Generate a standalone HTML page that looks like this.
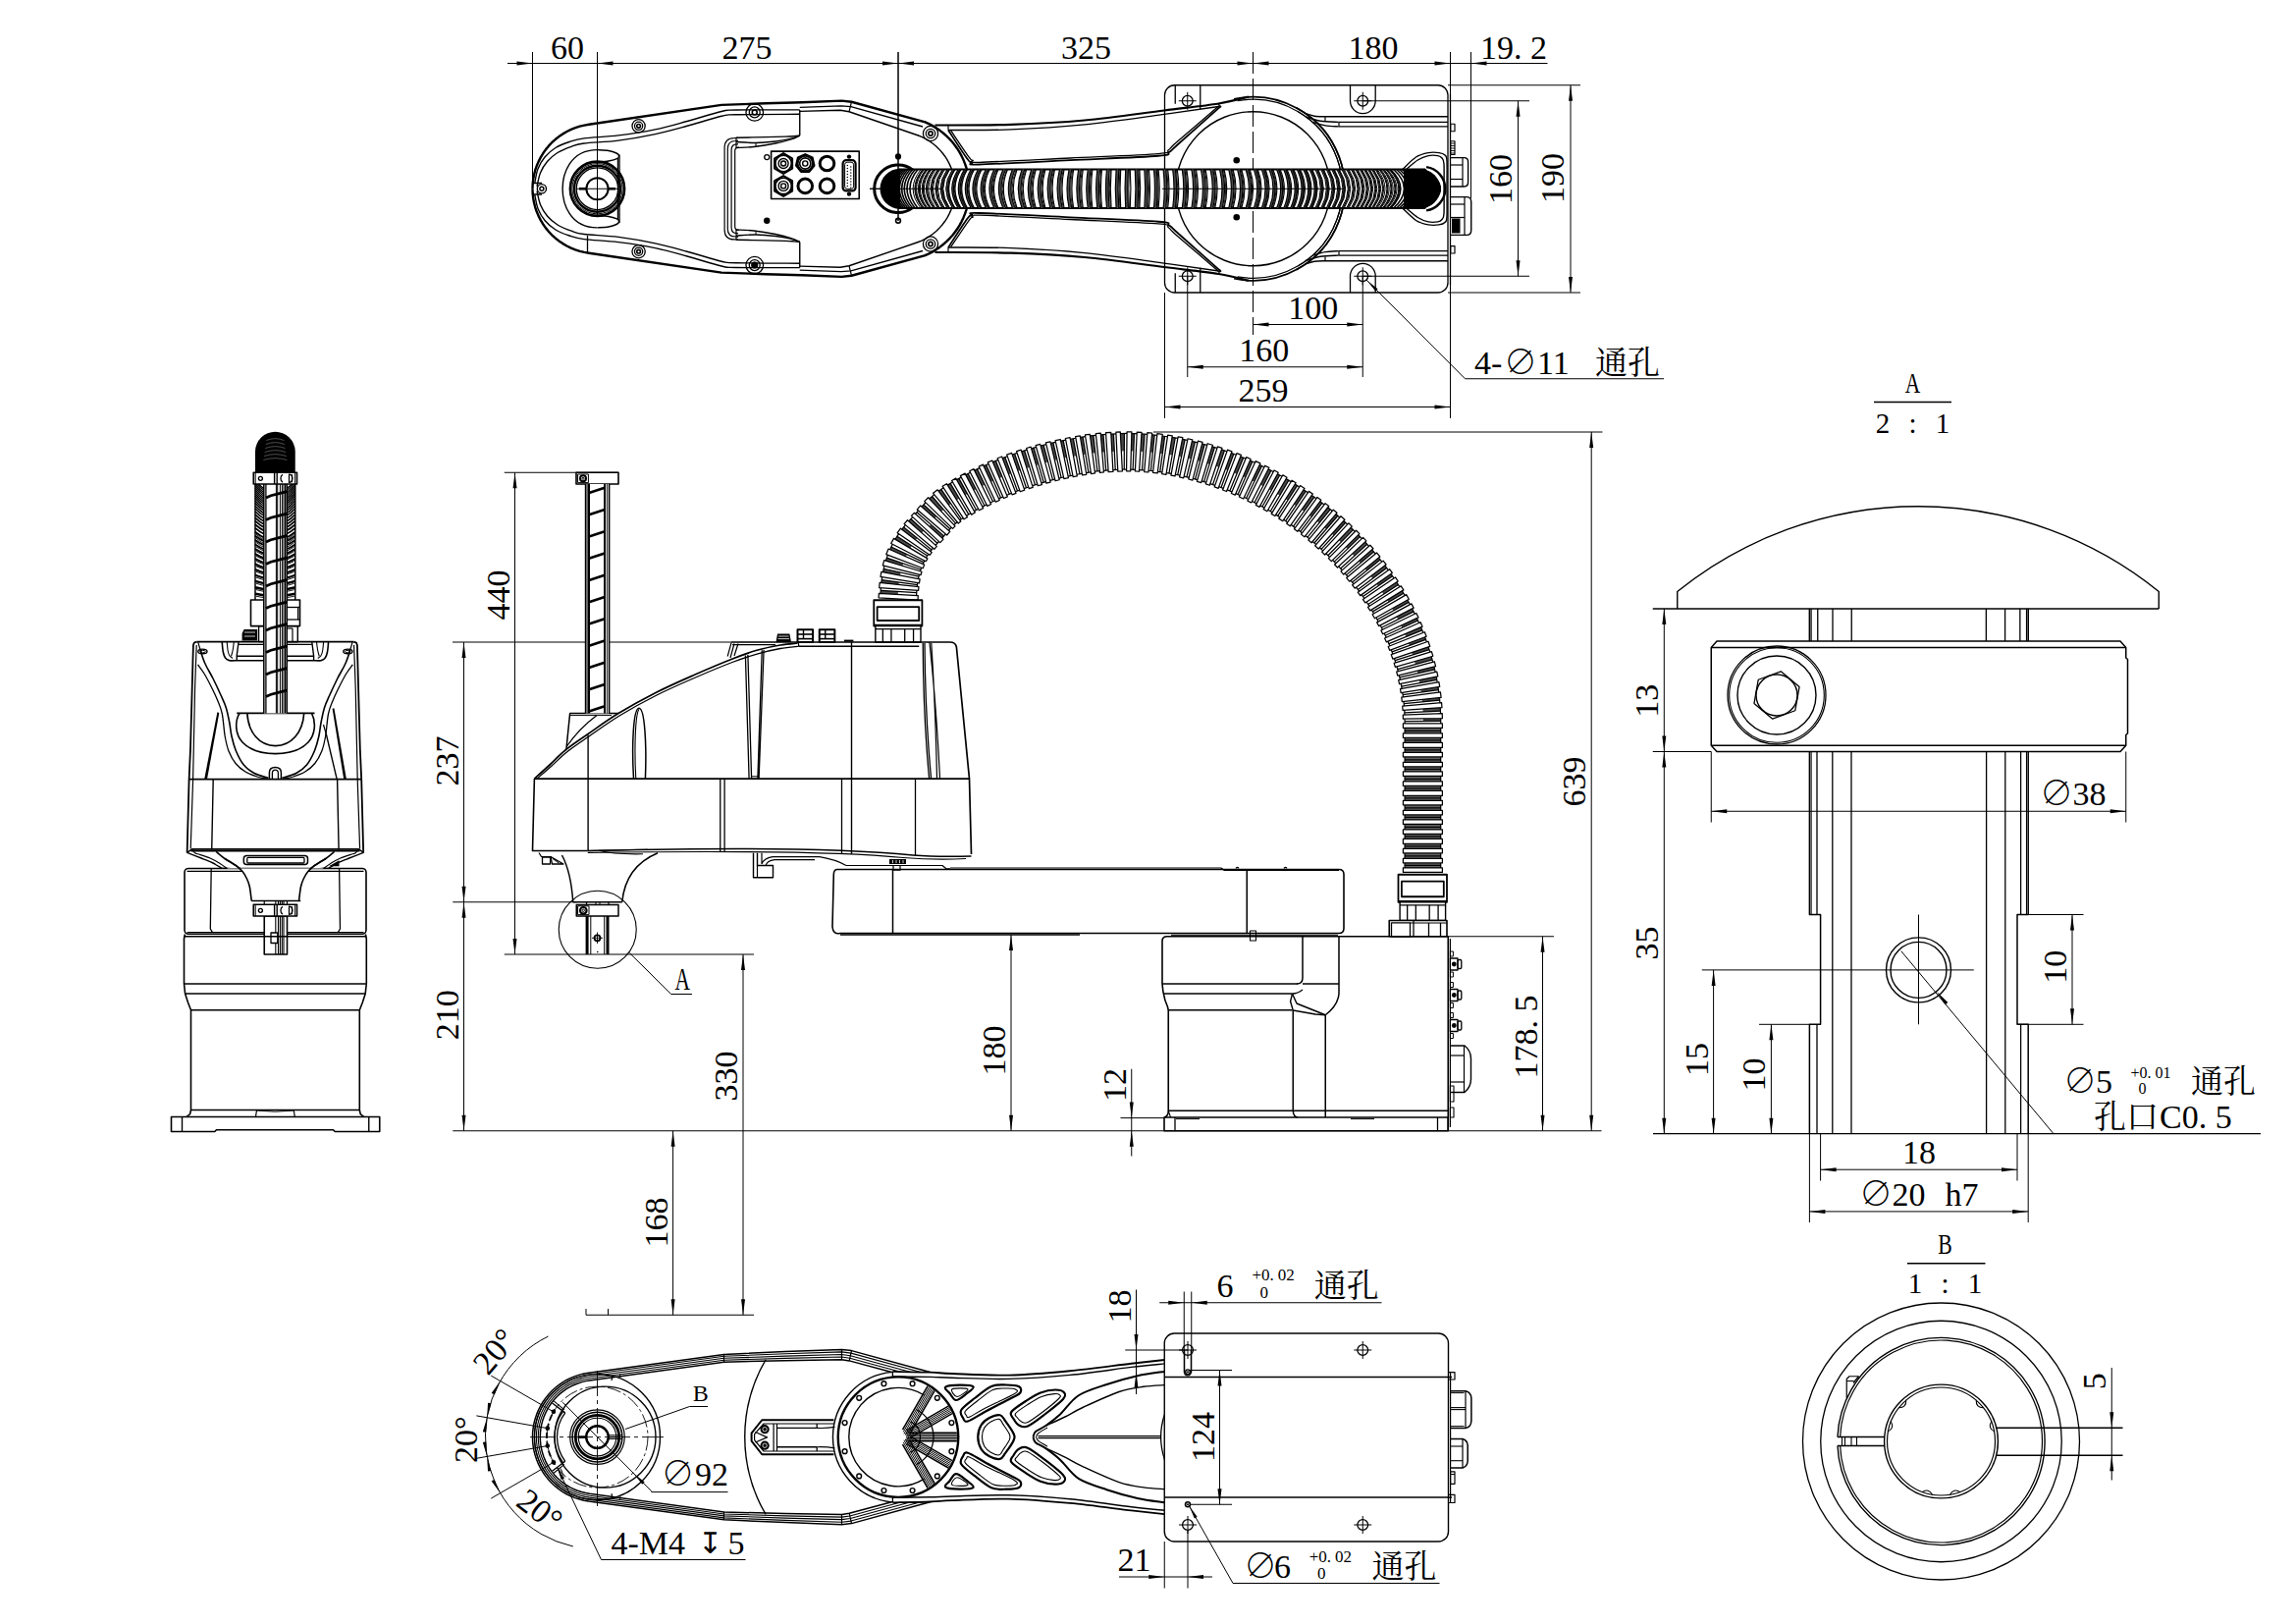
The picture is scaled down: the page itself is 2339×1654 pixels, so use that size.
<!DOCTYPE html>
<html lang="zh"><head><meta charset="utf-8"><title>SCARA robot outline drawing</title>
<style>
html,body{margin:0;padding:0;background:#fff}
svg{display:block}
svg path,svg circle,svg rect,svg ellipse{fill:none;stroke:#000;stroke-linecap:butt;stroke-linejoin:round}
svg .f{fill:#000;stroke:none}
svg .w{fill:#fff}
svg text{font-family:'Liberation Serif','Noto Serif CJK SC',serif;fill:#000;stroke:none}
</style></head><body>
<svg width="2339" height="1654" viewBox="0 0 2339 1654">
<rect x="0" y="0" width="2339" height="1654" style="fill:#fff;stroke:none"/>
<g id="v_top">
<path d="M517 64.5L1576.5 64.5" stroke-width="1"/>
<path d="M542.5 53L542.5 192" stroke-width="1"/>
<path d="M608.5 53L608.5 219" stroke-width="1"/>
<path d="M915 53L915 225" stroke-width="1"/>
<path d="M1276.5 53L1276.5 341" stroke-width="1" stroke-dasharray="22 5"/>
<path d="M1477.5 53L1477.5 426" stroke-width="1"/>
<path d="M1498.5 53L1498.5 202" stroke-width="1"/>
<path class="f" d="M542.5 64.5L526.5 66.5L526.5 62.5Z"/>
<path class="f" d="M608.5 64.5L624.5 62.5L624.5 66.5Z"/>
<path class="f" d="M915 64.5L899 66.5L899 62.5Z"/>
<path class="f" d="M915 64.5L931 62.5L931 66.5Z"/>
<path class="f" d="M1276.5 64.5L1260.5 66.5L1260.5 62.5Z"/>
<path class="f" d="M1276.5 64.5L1292.5 62.5L1292.5 66.5Z"/>
<path class="f" d="M1477.5 64.5L1461.5 66.5L1461.5 62.5Z"/>
<path class="f" d="M1498.5 64.5L1514.5 62.5L1514.5 66.5Z"/>
<text x="578" y="59.5" font-size="34" text-anchor="middle">60</text>
<text x="761" y="59.5" font-size="34" text-anchor="middle">275</text>
<text x="1106.5" y="59.5" font-size="34" text-anchor="middle">325</text>
<text x="1399" y="59.5" font-size="34" text-anchor="middle">180</text>
<text x="1508" y="59.5" font-size="34" text-anchor="start">19.<tspan dx="8.5">2</tspan></text>
<path d="M1475 86.75L1610 86.75" stroke-width="1"/>
<path d="M1475 298L1610 298" stroke-width="1"/>
<path d="M1388 102.75L1558 102.75" stroke-width="1"/>
<path d="M1388 281.25L1558 281.25" stroke-width="1"/>
<path d="M1546.5 102.75L1546.5 281.25" stroke-width="1"/>
<path class="f" d="M1546.5 102.75L1548.5 118.75L1544.5 118.75Z"/>
<path class="f" d="M1546.5 281.25L1544.5 265.25L1548.5 265.25Z"/>
<path d="M1600 86.75L1600 298" stroke-width="1"/>
<path class="f" d="M1600 86.75L1602 102.75L1598 102.75Z"/>
<path class="f" d="M1600 298L1598 282L1602 282Z"/>
<text x="1540" y="182.5" font-size="34" text-anchor="middle" transform="rotate(-90 1540 182.5)">160</text>
<text x="1593" y="181.5" font-size="34" text-anchor="middle" transform="rotate(-90 1593 181.5)">190</text>
<path d="M1276.5 330.5L1388.25 330.5" stroke-width="1"/>
<path class="f" d="M1276.5 330.5L1292.5 328.5L1292.5 332.5Z"/>
<path class="f" d="M1388.25 330.5L1372.25 332.5L1372.25 328.5Z"/>
<text x="1337.75" y="325" font-size="34" text-anchor="middle">100</text>
<path d="M1209.75 281L1209.75 384" stroke-width="1"/>
<path d="M1388.25 281L1388.25 384" stroke-width="1"/>
<path d="M1209.75 373.75L1388.25 373.75" stroke-width="1"/>
<path class="f" d="M1209.75 373.75L1225.75 371.75L1225.75 375.75Z"/>
<path class="f" d="M1388.25 373.75L1372.25 375.75L1372.25 371.75Z"/>
<text x="1287.75" y="368" font-size="34" text-anchor="middle">160</text>
<path d="M1186.5 298L1186.5 426" stroke-width="1"/>
<path d="M1186.5 414.5L1477.5 414.5" stroke-width="1"/>
<path class="f" d="M1186.5 414.5L1202.5 412.5L1202.5 416.5Z"/>
<path class="f" d="M1477.5 414.5L1461.5 416.5L1461.5 412.5Z"/>
<text x="1287" y="409" font-size="34" text-anchor="middle">259</text>
<path d="M1392 285L1492.5 385.75L1695 385.75" stroke-width="1"/>
<path class="f" d="M1392.5 285.5L1403.6 294.2L1401.2 296.6Z"/>
<text x="1502" y="380.5" font-size="34" text-anchor="start">4-</text>
<text x="1549" y="380.5" font-size="34" text-anchor="middle" font-family="Noto Serif CJK SC,serif">∅</text>
<text x="1566" y="380.5" font-size="34" text-anchor="start">11</text>
<text x="1625" y="380.5" font-size="33" text-anchor="start">通孔</text>
<rect x="1186.5" y="86.75" width="288.5" height="211.25" rx="10" stroke-width="1.3"/>
<path d="M1477.5 96L1477.5 290" stroke-width="1.3"/>
<circle cx="1209.75" cy="102.75" r="5.4" stroke-width="1.3"/>
<path d="M1200.75 102.75L1218.75 102.75" stroke-width="1"/>
<path d="M1209.75 93.75L1209.75 111.75" stroke-width="1"/>
<circle cx="1209.75" cy="281.25" r="5.4" stroke-width="1.3"/>
<path d="M1200.75 281.25L1218.75 281.25" stroke-width="1"/>
<path d="M1209.75 272.25L1209.75 290.25" stroke-width="1"/>
<circle cx="1388.25" cy="102.75" r="5.4" stroke-width="1.3"/>
<path d="M1379.25 102.75L1397.25 102.75" stroke-width="1"/>
<path d="M1388.25 93.75L1388.25 111.75" stroke-width="1"/>
<circle cx="1388.25" cy="281.25" r="5.4" stroke-width="1.3"/>
<path d="M1379.25 281.25L1397.25 281.25" stroke-width="1"/>
<path d="M1388.25 272.25L1388.25 290.25" stroke-width="1"/>
<path d="M1375.5 86.75L1375.5 102.75A12.8 12.8 0 0 0 1401.2 102.75L1401.2 86.75" stroke-width="1.3"/>
<path d="M1197.25 86.75L1197.25 105.75" stroke-width="1.3"/>
<path d="M1222.75 86.75L1222.75 111.25" stroke-width="1.3"/>
<path d="M1375.5 298L1375.5 281.25A12.8 12.8 0 0 1 1401.2 281.25L1401.2 298" stroke-width="1.3"/>
<path d="M1197.25 298L1197.25 278.25" stroke-width="1.3"/>
<path d="M1222.75 298L1222.75 272.75" stroke-width="1.3"/>
<circle cx="1276.5" cy="192.25" r="78.5" stroke-width="1.4"/>
<path d="M1257.06 100.79A93.5 93.5 0 0 1 1320.4 274.81" stroke-width="1.6"/>
<path d="M1320.4 109.69A93.5 93.5 0 0 1 1257.06 283.71" stroke-width="1.6"/>
<path d="M1260.7 102.63A91 91 0 0 1 1322 271.06" stroke-width="1.2"/>
<path d="M1322 113.44A91 91 0 0 1 1260.7 281.87" stroke-width="1.2"/>
<circle class="f" cx="1259.75" cy="163.25" r="3.3"/>
<circle class="f" cx="1259.75" cy="221.25" r="3.3"/>
<path d="M1184 192.25L1369 192.25" stroke-width="1"/>
<path d="M1330 115.6C1331.5 116.03 1335.67 117.67 1339 118.2C1342.33 118.73 1348.17 118.66 1350 118.75" stroke-width="1.4"/>
<path d="M1330 268.9C1331.5 268.47 1335.67 266.82 1339 266.3C1342.33 265.78 1348.17 265.84 1350 265.75" stroke-width="1.4"/>
<path d="M1350 118.75L1475 118.75" stroke-width="1.4"/>
<path d="M1350 265.75L1475 265.75" stroke-width="1.4"/>
<path d="M1330 118.8C1332.5 119.53 1339.38 122.27 1345 123.2C1350.62 124.13 1360.62 124.2 1363.75 124.4" stroke-width="1.4"/>
<path d="M1330 265.7C1332.5 264.97 1339.38 262.23 1345 261.3C1350.62 260.37 1360.62 260.3 1363.75 260.1" stroke-width="1.4"/>
<path d="M1363.75 124.4L1475 124.4" stroke-width="1.4"/>
<path d="M1363.75 260.1L1475 260.1" stroke-width="1.4"/>
<path d="M1337.5 124.5C1339.58 125.07 1345.62 127.17 1350 127.9C1354.38 128.63 1361.46 128.73 1363.75 128.9" stroke-width="1.4"/>
<path d="M1337.5 260C1339.58 259.43 1345.62 257.33 1350 256.6C1354.38 255.87 1361.46 255.77 1363.75 255.6" stroke-width="1.4"/>
<path d="M1363.75 128.9L1475 128.9" stroke-width="1.4"/>
<path d="M1363.75 255.6L1475 255.6" stroke-width="1.4"/>
<path d="M1350 118.75L1350 123" stroke-width="1.2"/>
<path d="M1350 265.75L1350 261.5" stroke-width="1.2"/>
<path d="M1364 124.4L1364 128.75" stroke-width="1.2"/>
<path d="M1364 260.1L1364 255.75" stroke-width="1.2"/>
<rect x="1477.75" y="126.25" width="4.25" height="7.5" stroke-width="1.2"/>
<rect x="1477.75" y="250.6" width="4.25" height="7.4" stroke-width="1.2"/>
<rect x="1477.75" y="143.75" width="4.25" height="13.75" stroke-width="1.2"/>
<path d="M1477.75 146L1482 146" stroke-width="0.9"/>
<path d="M1477.75 148.5L1482 148.5" stroke-width="0.9"/>
<path d="M1477.75 151L1482 151" stroke-width="0.9"/>
<path d="M1477.75 153.5L1482 153.5" stroke-width="0.9"/>
<path d="M1477.75 156L1482 156" stroke-width="0.9"/>
<path d="M1477.75 160.6H1491.6Q1495.6 160.6 1495.6 165V185.5Q1495.6 190 1491.6 190H1477.75" stroke-width="1.4"/>
<path d="M1490 160.6L1490 190" stroke-width="1.2"/>
<path d="M1477.75 168L1490 168" stroke-width="1.2"/>
<path d="M1477.75 182.5L1490 182.5" stroke-width="1.2"/>
<path d="M1477.75 200.6H1494Q1498.75 200.6 1498.75 205.5V234.5Q1498.75 239.4 1494 239.4H1477.75" stroke-width="1.4"/>
<path d="M1492 200.6L1492 239.4" stroke-width="1.2"/>
<path d="M1477.75 208L1492 208" stroke-width="1.2"/>
<path d="M1477.75 221.5L1492 221.5" stroke-width="1.2"/>
<rect x="1479" y="222.5" width="8.5" height="15" stroke-width="1.2" class="f"/>
<path d="M1428.75 172.5C1431.04 170.42 1438.12 162.82 1442.5 160C1446.88 157.18 1451.08 156.33 1455 155.6C1458.92 154.87 1463.17 155.2 1466 155.6C1468.83 156 1470.67 156.6 1472 158C1473.33 159.4 1473.67 158.29 1474 164C1474.33 169.71 1474 187.54 1474 192.25" stroke-width="1.4"/>
<path d="M1428.75 212C1431.04 214.08 1438.12 221.68 1442.5 224.5C1446.88 227.32 1451.08 228.17 1455 228.9C1458.92 229.63 1463.17 229.3 1466 228.9C1468.83 228.5 1470.67 227.9 1472 226.5C1473.33 225.1 1473.67 226.21 1474 220.5C1474.33 214.79 1474 196.96 1474 192.25" stroke-width="1.4"/>
<path d="M1432.65 172.5C1434.59 170.92 1440.58 165.32 1444.3 163C1448.02 160.68 1451.58 159.33 1455 158.6C1458.42 157.87 1462.47 158.2 1464.8 158.6C1467.13 159 1467.97 159.6 1469 161C1470.03 162.4 1470.67 161.79 1471 167C1471.33 172.21 1471 188.04 1471 192.25" stroke-width="1.4"/>
<path d="M1432.65 212C1434.59 213.58 1440.58 219.18 1444.3 221.5C1448.02 223.82 1451.58 225.17 1455 225.9C1458.42 226.63 1462.47 226.3 1464.8 225.9C1467.13 225.5 1467.97 224.9 1469 223.5C1470.03 222.1 1470.67 222.71 1471 217.5C1471.33 212.29 1471 196.46 1471 192.25" stroke-width="1.4"/>
<path d="M952.5 127.5C965.42 127.4 1004.58 127.73 1030 126.9C1055.42 126.07 1079 124.9 1105 122.5C1131 120.1 1163.25 115.33 1186 112.5C1208.75 109.67 1227.17 107.82 1241.5 105.5C1255.83 103.18 1266.92 99.75 1272 98.6" stroke-width="2.2"/>
<path d="M952.5 257C965.42 257.1 1004.58 256.77 1030 257.6C1055.42 258.43 1079 259.6 1105 262C1131 264.4 1163.25 269.17 1186 272C1208.75 274.83 1227.17 276.68 1241.5 279C1255.83 281.32 1266.92 284.75 1272 285.9" stroke-width="2.2"/>
<path d="M966 132.5C976.67 132.4 1006.83 132.83 1030 131.9C1053.17 130.97 1079.33 129.43 1105 126.9C1130.67 124.37 1161.25 119.77 1184 116.7C1206.75 113.63 1231.92 109.87 1241.5 108.5" stroke-width="1.3"/>
<path d="M966 252C976.67 252.1 1006.83 251.67 1030 252.6C1053.17 253.53 1079.33 255.07 1105 257.6C1130.67 260.13 1161.25 264.73 1184 267.8C1206.75 270.87 1231.92 274.63 1241.5 276" stroke-width="1.3"/>
<path d="M966 127.6L966 132.5" stroke-width="1.2"/>
<path d="M966 256.9L966 252" stroke-width="1.2"/>
<path d="M1241.5 105.5L1243 110" stroke-width="1.2"/>
<path d="M1241.5 279L1243 274.5" stroke-width="1.2"/>
<path d="M966 132.5C969.17 137.29 981 155.75 985 161.25C989 166.75 987.92 164.46 990 165.5C992.08 166.54 980.83 167.88 997.5 167.5C1014.17 167.12 1059.58 164.66 1090 163.2C1120.42 161.74 1163.17 160.12 1180 158.75C1196.83 157.38 1187.67 156.96 1191 155C1194.33 153.04 1191.17 154.87 1200 147C1208.83 139.13 1236.67 114.33 1244 107.8" stroke-width="1.8"/>
<path d="M966 252C969.17 247.21 981 228.75 985 223.25C989 217.75 987.92 220.04 990 219C992.08 217.96 980.83 216.62 997.5 217C1014.17 217.38 1059.58 219.84 1090 221.3C1120.42 222.76 1163.17 224.38 1180 225.75C1196.83 227.12 1187.67 227.54 1191 229.5C1194.33 231.46 1191.17 229.63 1200 237.5C1208.83 245.37 1236.67 270.17 1244 276.7" stroke-width="1.8"/>
<path d="M968.64 132.94C971.73 137.47 983.46 155.09 987.2 160.15C990.94 165.21 989.38 162.44 991.1 163.3C992.82 164.16 981.02 165.68 997.5 165.3C1013.98 164.92 1059.58 162.46 1090 161C1120.42 159.54 1163.28 157.92 1180 156.55C1196.72 155.18 1187.23 154.76 1190.34 152.8C1193.45 150.84 1190.1 152.3 1198.68 144.8C1207.26 137.3 1234.61 113.97 1241.8 107.8" stroke-width="1.3"/>
<path d="M968.64 251.56C971.73 247.03 983.46 229.41 987.2 224.35C990.94 219.29 989.38 222.06 991.1 221.2C992.82 220.34 981.02 218.82 997.5 219.2C1013.98 219.58 1059.58 222.04 1090 223.5C1120.42 224.96 1163.28 226.58 1180 227.95C1196.72 229.32 1187.23 229.74 1190.34 231.7C1193.45 233.66 1190.1 232.2 1198.68 239.7C1207.26 247.2 1234.61 270.53 1241.8 276.7" stroke-width="1.3"/>
<path d="M542.5 192.25L542.67 187.5L543.18 182.77L544.04 178.09L545.22 173.48L546.74 168.97L548.58 164.59L550.72 160.34L553.17 156.27L555.91 152.37L558.92 148.69L562.18 145.23L565.69 142.02L569.42 139.07L573.35 136.39L577.46 134L581.74 131.92L586.15 130.15L590.68 128.7L595.31 127.58L600 126.8L735 106.9L780 105.3L817 104.2L857.5 102.6L867.5 103.75L942.5 124.4L942.4 124.35L946.34 126.14L950.16 128.15L953.86 130.38L957.43 132.83L960.84 135.48L964.09 138.33L967.17 141.36L970.07 144.57L972.77 147.94L975.27 151.47L977.56 155.13L979.62 158.93L981.47 162.84L983.08 166.85L984.45 170.95L985.58 175.12L986.46 179.35L987.09 183.62L987.47 187.93L987.6 192.25" stroke-width="2.4"/>
<path d="M542.5 192.25L542.67 197L543.18 201.73L544.04 206.41L545.22 211.02L546.74 215.53L548.58 219.91L550.72 224.16L553.17 228.23L555.91 232.13L558.92 235.81L562.18 239.27L565.69 242.48L569.42 245.43L573.35 248.11L577.46 250.5L581.74 252.58L586.15 254.35L590.68 255.8L595.31 256.92L600 257.7L735 277.6L780 279.2L817 280.3L857.5 281.9L867.5 280.75L942.5 260.1L942.4 260.15L946.34 258.36L950.16 256.35L953.86 254.12L957.43 251.67L960.84 249.02L964.09 246.17L967.17 243.14L970.07 239.93L972.77 236.56L975.27 233.03L977.56 229.37L979.62 225.57L981.47 221.66L983.08 217.65L984.45 213.55L985.58 209.38L986.46 205.15L987.09 200.88L987.47 196.57L987.6 192.25" stroke-width="2.4"/>
<path d="M544.8 186C545.33 183.67 546.3 176.33 548 172C549.7 167.67 552 163.58 555 160C558 156.42 561.83 153.08 566 150.5C570.17 147.92 575.17 146.1 580 144.5C584.83 142.9 586.67 142 595 140.9C603.33 139.8 617.92 139.4 630 137.9C642.08 136.4 655.83 134.3 667.5 131.9C679.17 129.5 688.75 126.57 700 123.5C711.25 120.43 726.67 115.42 735 113.5C743.33 111.58 736.71 112.27 750 112C763.29 111.73 803.96 111.92 814.75 111.9" stroke-width="1.4"/>
<path d="M544.8 198.5C545.33 200.83 546.3 208.17 548 212.5C549.7 216.83 552 220.92 555 224.5C558 228.08 561.83 231.42 566 234C570.17 236.58 575.17 238.4 580 240C584.83 241.6 586.67 242.5 595 243.6C603.33 244.7 617.92 245.1 630 246.6C642.08 248.1 655.83 250.2 667.5 252.6C679.17 255 688.75 257.93 700 261C711.25 264.07 726.67 269.08 735 271C743.33 272.92 736.71 272.23 750 272.5C763.29 272.77 803.96 272.58 814.75 272.6" stroke-width="1.4"/>
<path d="M547 190C547.58 187.67 548.75 180.25 550.5 176C552.25 171.75 554.58 167.92 557.5 164.5C560.42 161.08 563.92 158.03 568 155.5C572.08 152.97 577.5 150.88 582 149.3C586.5 147.72 587 147.03 595 146C603 144.97 617.92 144.67 630 143.1C642.08 141.53 655.83 139.07 667.5 136.6C679.17 134.13 688.75 131.35 700 128.3C711.25 125.25 726.67 120.22 735 118.3C743.33 116.38 736.71 117.13 750 116.8C763.29 116.47 803.96 116.38 814.75 116.3" stroke-width="1.4"/>
<path d="M547 194.5C547.58 196.83 548.75 204.25 550.5 208.5C552.25 212.75 554.58 216.58 557.5 220C560.42 223.42 563.92 226.47 568 229C572.08 231.53 577.5 233.62 582 235.2C586.5 236.78 587 237.47 595 238.5C603 239.53 617.92 239.83 630 241.4C642.08 242.97 655.83 245.43 667.5 247.9C679.17 250.37 688.75 253.15 700 256.2C711.25 259.25 726.67 264.28 735 266.2C743.33 268.12 736.71 267.37 750 267.7C763.29 268.03 803.96 268.12 814.75 268.2" stroke-width="1.4"/>
<path d="M598.5 240L598.5 257.5" stroke-width="1.3"/>
<path d="M814.75 109.4L857 107.8L866.9 108.6L940 129" stroke-width="1.3"/>
<path d="M814.75 275.1L857 276.7L866.9 275.9L940 255.5" stroke-width="1.3"/>
<path d="M814.75 113.4L856 112.3L865 113.75L935.5 138L934.84 137.75L938.94 139.42L942.9 141.4L946.7 143.68L950.31 146.24L953.72 149.06L956.9 152.14L959.83 155.46L962.51 158.98L964.91 162.7L967.02 166.6L968.82 170.64L970.32 174.81L971.48 179.08L972.32 183.43L972.83 187.83L973 192.25" stroke-width="1.4"/>
<path d="M814.75 271.1L856 272.2L865 270.75L935.5 246.5L934.84 246.75L938.94 245.08L942.9 243.1L946.7 240.82L950.31 238.26L953.72 235.44L956.9 232.36L959.83 229.04L962.51 225.52L964.91 221.8L967.02 217.9L968.82 213.86L970.32 209.69L971.48 205.42L972.32 201.07L972.83 196.67L973 192.25" stroke-width="1.4"/>
<path d="M867.5 103.75L865 113.75" stroke-width="1.2"/>
<path d="M867.5 280.75L865 270.75" stroke-width="1.2"/>
<path d="M814.75 111.9L814.75 138.1" stroke-width="1.4"/>
<path d="M814.75 272.6L814.75 246.4" stroke-width="1.4"/>
<path d="M752 140.3L748.1 140.6Q738.1 140.6 738.1 150.6L738.1 233.9Q738.1 243.9 748.1 243.9 L752 244.2" stroke-width="1.2"/>
<path d="M752 143.18L749.38 143.48Q741.3 143.48 741.3 151.56L741.3 232.94Q741.3 241.02 749.38 241.02 L752 241.32" stroke-width="1.2"/>
<path d="M752 146.6L750.9 146.9Q745.1 146.9 745.1 152.7L745.1 231.8Q745.1 237.6 750.9 237.6 L752 237.9" stroke-width="1.2"/>
<path d="M752 149.84L752.34 150.14Q748.7 150.14 748.7 153.78L748.7 230.72Q748.7 234.36 752.34 234.36 L752 234.66" stroke-width="1.2"/>
<path d="M750 140.3C755 140.18 771.67 139.8 780 139.6C788.33 139.4 795.17 139.27 800 139.1C804.83 138.93 806.54 138.77 809 138.6C811.46 138.43 813.79 138.18 814.75 138.1" stroke-width="1.4"/>
<path d="M750 244.2C755 244.32 771.67 244.7 780 244.9C788.33 245.1 795.17 245.23 800 245.4C804.83 245.57 806.54 245.73 809 245.9C811.46 246.07 813.79 246.32 814.75 246.4" stroke-width="1.4"/>
<path d="M750 144.5C753.33 144.67 763.33 145.58 770 145.5C776.67 145.42 784.17 144.7 790 144C795.83 143.3 800.88 142.28 805 141.3C809.12 140.32 813.12 138.63 814.75 138.1" stroke-width="1.3"/>
<path d="M750 240C753.33 239.83 763.33 238.92 770 239C776.67 239.08 784.17 239.8 790 240.5C795.83 241.2 800.88 242.22 805 243.2C809.12 244.18 813.12 245.87 814.75 246.4" stroke-width="1.3"/>
<path d="M750 150.5C753 150.33 761.33 150.25 768 149.5C774.67 148.75 783.67 147.25 790 146C796.33 144.75 801.88 143.32 806 142C810.12 140.68 813.29 138.75 814.75 138.1" stroke-width="1.3"/>
<path d="M750 234C753 234.17 761.33 234.25 768 235C774.67 235.75 783.67 237.25 790 238.5C796.33 239.75 801.88 241.18 806 242.5C810.12 243.82 813.29 245.75 814.75 246.4" stroke-width="1.3"/>
<path d="M750 140.3L750 150.5" stroke-width="1.2"/>
<path d="M750 244.2L750 234" stroke-width="1.2"/>
<path d="M770 145.5L770 149.3" stroke-width="1"/>
<path d="M770 239L770 235.2" stroke-width="1"/>
<circle cx="650.6" cy="128.3" r="6.6" stroke-width="1.3"/>
<circle cx="650.6" cy="128.3" r="4.09" stroke-width="1.3"/>
<circle cx="650.6" cy="128.3" r="1.85" stroke-width="1.6"/>
<circle cx="650.6" cy="256.2" r="6.6" stroke-width="1.3"/>
<circle cx="650.6" cy="256.2" r="4.09" stroke-width="1.3"/>
<circle cx="650.6" cy="256.2" r="1.85" stroke-width="1.6"/>
<circle cx="768.75" cy="114.4" r="8.8" stroke-width="1.3"/>
<circle cx="768.75" cy="114.4" r="5.46" stroke-width="1.3"/>
<circle cx="768.75" cy="114.4" r="2.46" stroke-width="1.6"/>
<circle cx="768.75" cy="270.1" r="8.8" stroke-width="1.3"/>
<circle cx="768.75" cy="270.1" r="5.46" stroke-width="1.3"/>
<circle cx="768.75" cy="270.1" r="2.46" stroke-width="1.6"/>
<circle cx="948" cy="136" r="7.6" stroke-width="1.3"/>
<circle cx="948" cy="136" r="4.71" stroke-width="1.3"/>
<circle cx="948" cy="136" r="2.13" stroke-width="1.6"/>
<circle cx="948" cy="248.5" r="7.6" stroke-width="1.3"/>
<circle cx="948" cy="248.5" r="4.71" stroke-width="1.3"/>
<circle cx="948" cy="248.5" r="2.13" stroke-width="1.6"/>
<circle cx="551.9" cy="192.25" r="4.6" stroke-width="1.4"/>
<circle cx="551.9" cy="192.25" r="2" stroke-width="1.4"/>
<path d="M543 186.5H552M543 198H552" stroke-width="1.3"/>
<circle class="f" cx="768.75" cy="270.1" r="3.5"/>
<circle cx="608.5" cy="192.25" r="11.1" stroke-width="2"/>
<circle cx="608.5" cy="192.25" r="21.3" stroke-width="1.3"/>
<circle cx="608.5" cy="192.25" r="23.5" stroke-width="2.4"/>
<circle cx="608.5" cy="192.25" r="27.6" stroke-width="2.6"/>
<circle cx="608.5" cy="192.25" r="25.6" stroke-width="1"/>
<path d="M608.5 152.6C580 152.6 573.1 178 573.1 192.25C573.1 206.5 580 231.9 608.5 231.9" stroke-width="1.4"/>
<path d="M608.5 152.6C610.42 152.75 616.75 152.93 620 153.5C623.25 154.07 626.25 155.17 628 156C629.75 156.83 630.33 157.62 630.5 158.5C630.67 159.38 630.75 160.38 629 161.3C627.25 162.22 623.42 163.38 620 164C616.58 164.62 610.42 164.83 608.5 165" stroke-width="1.4"/>
<path d="M608.5 231.9C610.42 231.75 616.75 231.57 620 231C623.25 230.43 626.25 229.33 628 228.5C629.75 227.67 630.33 226.88 630.5 226C630.67 225.12 630.75 224.12 629 223.2C627.25 222.28 623.42 221.12 620 220.5C616.58 219.88 610.42 219.67 608.5 219.5" stroke-width="1.4"/>
<path d="M631 157.5L631 227" stroke-width="1.4"/>
<path d="M629.4 161L629.4 223.5" stroke-width="1.2"/>
<path d="M587 192.25L630 192.25" stroke-width="1"/>
<path d="M590 192.25L597.4 192.25" stroke-width="2.6"/>
<path d="M619.6 192.25L627 192.25" stroke-width="2.6"/>
<rect x="785.6" y="154.1" width="89.65" height="48.4" stroke-width="1.6"/>
<path d="M807.02 171.65L798.1 176.8L789.18 171.65L789.18 161.35L798.1 156.2L807.02 161.35Z" stroke-width="2.2"/>
<circle cx="798.1" cy="166.5" r="8.2" stroke-width="1.6"/>
<circle cx="798.1" cy="166.5" r="5" stroke-width="1.4"/>
<circle cx="798.1" cy="166.5" r="2.5" stroke-width="1.4"/>
<path d="M807.02 194.55L798.1 199.7L789.18 194.55L789.18 184.25L798.1 179.1L807.02 184.25Z" stroke-width="2.2"/>
<circle cx="798.1" cy="189.4" r="8.2" stroke-width="1.6"/>
<circle cx="798.1" cy="189.4" r="5" stroke-width="1.4"/>
<circle cx="798.1" cy="189.4" r="2.5" stroke-width="1.4"/>
<path d="M829.21 168.57L824.22 174.8L816.24 174.78L811.28 168.52L813.07 160.75L820.27 157.3L827.46 160.78Z" stroke-width="2.6"/>
<circle cx="820.25" cy="166.5" r="5.6" stroke-width="1.6"/>
<circle cx="820.25" cy="166.5" r="2.6" stroke-width="1.4"/>
<circle cx="820.25" cy="166.5" r="7.6" stroke-width="1.8"/>
<circle cx="842.5" cy="166.5" r="7.3" stroke-width="3"/>
<circle cx="820.25" cy="189.4" r="7.3" stroke-width="3"/>
<circle cx="842.5" cy="189.4" r="7.3" stroke-width="3"/>
<rect x="858.6" y="163.2" width="13" height="31.2" rx="3.5" stroke-width="2.2"/>
<rect x="860.6" y="165.2" width="9" height="27.2" rx="2.5" stroke-width="1"/>
<circle class="f" cx="865" cy="159.6" r="2.2"/>
<circle class="f" cx="865" cy="197.6" r="2.2"/>
<circle class="f" cx="863.3" cy="168.5" r="0.7"/>
<circle class="f" cx="866.8" cy="170" r="0.7"/>
<circle class="f" cx="863.3" cy="171.5" r="0.7"/>
<circle class="f" cx="866.8" cy="173" r="0.7"/>
<circle class="f" cx="863.3" cy="174.5" r="0.7"/>
<circle class="f" cx="866.8" cy="176" r="0.7"/>
<circle class="f" cx="863.3" cy="177.5" r="0.7"/>
<circle class="f" cx="866.8" cy="179" r="0.7"/>
<circle class="f" cx="863.3" cy="180.5" r="0.7"/>
<circle class="f" cx="866.8" cy="182" r="0.7"/>
<circle class="f" cx="863.3" cy="183.5" r="0.7"/>
<circle class="f" cx="866.8" cy="185" r="0.7"/>
<circle class="f" cx="863.3" cy="186.5" r="0.7"/>
<circle class="f" cx="866.8" cy="188" r="0.7"/>
<circle class="f" cx="863.3" cy="189.5" r="0.7"/>
<circle class="f" cx="866.8" cy="191" r="0.7"/>
<circle cx="781.25" cy="160.1" r="2.5" stroke-width="1.3"/>
<circle class="f" cx="781.25" cy="224.75" r="3.2"/>
<circle class="f" cx="915" cy="159.4" r="3.1"/>
<circle cx="915" cy="224.75" r="2.4" stroke-width="1.6"/>
<path d="M886 192.25L945 192.25" stroke-width="1"/>
<path class="w" d="M915 172.5H1450V212H915Z" style="stroke:none"/>
<path d="M929.96 211.4A24.3 24.3 0 1 1 929.96 173.1" stroke-width="3"/>
<path class="f" d="M917 172.5A19.75 19.75 0 0 0 917 212Z"/>
<path d="M917 212A19.75 19.75 0 0 1 917 172.5" stroke-width="1.5"/>
<path d="M915 172.5L1452 172.5" stroke-width="1.8"/>
<path d="M915 212L1452 212" stroke-width="1.8"/>
<path d="M919 172.5Q901.18 192.25 919 212" stroke-width="1.6"/>
<path d="M920.81 172.5Q903.17 192.25 920.81 212" stroke-width="1.6"/>
<path d="M922.77 172.5Q905.31 192.25 922.77 212" stroke-width="1.6"/>
<path d="M924.87 172.5Q907.61 192.25 924.87 212" stroke-width="1.6"/>
<path d="M927.14 172.5Q910.1 192.25 927.14 212" stroke-width="1.6"/>
<path d="M929.59 172.5Q912.78 192.25 929.59 212" stroke-width="1.6"/>
<path d="M932.23 172.5Q915.66 192.25 932.23 212" stroke-width="1.6"/>
<path d="M935.07 172.5Q918.77 192.25 935.07 212" stroke-width="1.6"/>
<path d="M939.86 172.5Q923.84 192.25 939.86 212L940.79 212Q924.77 192.25 940.79 172.5Z" style="fill:#4a4a4a;stroke:none"/>
<path d="M938.13 172.5Q922.12 192.25 938.13 212" stroke-width="1"/>
<path d="M939.86 172.5Q923.84 192.25 939.86 212" stroke-width="1"/>
<path d="M940.79 172.5Q924.77 192.25 940.79 212" stroke-width="1"/>
<path d="M943.29 172.5Q927.59 192.25 943.29 212L944.3 212Q928.59 192.25 944.3 172.5Z" style="fill:#4a4a4a;stroke:none"/>
<path d="M941.44 172.5Q925.73 192.25 941.44 212" stroke-width="1"/>
<path d="M943.29 172.5Q927.59 192.25 943.29 212" stroke-width="1"/>
<path d="M944.3 172.5Q928.59 192.25 944.3 212" stroke-width="1"/>
<path d="M947 172.5Q931.63 192.25 947 212L948.08 212Q932.71 192.25 948.08 172.5Z" style="fill:#4a4a4a;stroke:none"/>
<path d="M945 172.5Q929.63 192.25 945 212" stroke-width="1"/>
<path d="M947 172.5Q931.63 192.25 947 212" stroke-width="1"/>
<path d="M948.08 172.5Q932.71 192.25 948.08 212" stroke-width="1"/>
<path d="M951 172.5Q935.98 192.25 951 212L952.16 212Q937.14 192.25 952.16 172.5Z" style="fill:#4a4a4a;stroke:none"/>
<path d="M948.84 172.5Q933.82 192.25 948.84 212" stroke-width="1"/>
<path d="M951 172.5Q935.98 192.25 951 212" stroke-width="1"/>
<path d="M952.16 172.5Q937.14 192.25 952.16 212" stroke-width="1"/>
<path d="M955.31 172.5Q940.66 192.25 955.31 212L956.56 212Q941.92 192.25 956.56 172.5Z" style="fill:#4a4a4a;stroke:none"/>
<path d="M952.98 172.5Q938.34 192.25 952.98 212" stroke-width="1"/>
<path d="M955.31 172.5Q940.66 192.25 955.31 212" stroke-width="1"/>
<path d="M956.56 172.5Q941.92 192.25 956.56 212" stroke-width="1"/>
<path d="M959.95 172.5Q945.71 192.25 959.95 212L961.3 212Q947.06 192.25 961.3 172.5Z" style="fill:#4a4a4a;stroke:none"/>
<path d="M957.44 172.5Q943.2 192.25 957.44 212" stroke-width="1"/>
<path d="M959.95 172.5Q945.71 192.25 959.95 212" stroke-width="1"/>
<path d="M961.3 172.5Q947.06 192.25 961.3 212" stroke-width="1"/>
<path d="M964.96 172.5Q951.15 192.25 964.96 212L966.41 212Q952.61 192.25 966.41 172.5Z" style="fill:#4a4a4a;stroke:none"/>
<path d="M962.25 172.5Q948.45 192.25 962.25 212" stroke-width="1"/>
<path d="M964.96 172.5Q951.15 192.25 964.96 212" stroke-width="1"/>
<path d="M966.41 172.5Q952.61 192.25 966.41 212" stroke-width="1"/>
<path d="M967.01 172.5Q953.2 192.25 967.01 212" stroke-width="0.9"/>
<path d="M970.35 172.5Q957.01 192.25 970.35 212L971.92 212Q958.58 192.25 971.92 172.5Z" style="fill:#4a4a4a;stroke:none"/>
<path d="M967.44 172.5Q954.1 192.25 967.44 212" stroke-width="1"/>
<path d="M970.35 172.5Q957.01 192.25 970.35 212" stroke-width="1"/>
<path d="M971.92 172.5Q958.58 192.25 971.92 212" stroke-width="1"/>
<path d="M972.56 172.5Q959.22 192.25 972.56 212" stroke-width="0.9"/>
<path d="M976.17 172.5Q963.32 192.25 976.17 212L977.86 212Q965.02 192.25 977.86 172.5Z" style="fill:#4a4a4a;stroke:none"/>
<path d="M973.03 172.5Q960.18 192.25 973.03 212" stroke-width="1.15"/>
<path d="M976.17 172.5Q963.32 192.25 976.17 212" stroke-width="1.15"/>
<path d="M977.86 172.5Q965.02 192.25 977.86 212" stroke-width="1.15"/>
<path d="M978.56 172.5Q965.71 192.25 978.56 212" stroke-width="0.9"/>
<path d="M982.44 172.5Q970.12 192.25 982.44 212L984.27 212Q971.95 192.25 984.27 172.5Z" style="fill:#4a4a4a;stroke:none"/>
<path d="M979.06 172.5Q966.74 192.25 979.06 212" stroke-width="1.15"/>
<path d="M982.44 172.5Q970.12 192.25 982.44 212" stroke-width="1.15"/>
<path d="M984.27 172.5Q971.95 192.25 984.27 212" stroke-width="1.15"/>
<path d="M985.01 172.5Q972.69 192.25 985.01 212" stroke-width="0.9"/>
<path d="M989.2 172.5Q977.44 192.25 989.2 212L991.17 212Q979.41 192.25 991.17 172.5Z" style="fill:#4a4a4a;stroke:none"/>
<path d="M985.55 172.5Q973.8 192.25 985.55 212" stroke-width="1.15"/>
<path d="M989.2 172.5Q977.44 192.25 989.2 212" stroke-width="1.15"/>
<path d="M991.17 172.5Q979.41 192.25 991.17 212" stroke-width="1.15"/>
<path d="M991.97 172.5Q980.21 192.25 991.97 212" stroke-width="0.9"/>
<path d="M996.49 172.5Q985.33 192.25 996.49 212L998.61 212Q987.45 192.25 998.61 172.5Z" style="fill:#4a4a4a;stroke:none"/>
<path d="M992.56 172.5Q981.4 192.25 992.56 212" stroke-width="1.15"/>
<path d="M996.49 172.5Q985.33 192.25 996.49 212" stroke-width="1.15"/>
<path d="M998.61 172.5Q987.45 192.25 998.61 212" stroke-width="1.15"/>
<path d="M999.48 172.5Q988.32 192.25 999.48 212" stroke-width="0.9"/>
<path d="M1004.35 172.5Q993.82 192.25 1004.35 212L1006.63 212Q996.11 192.25 1006.63 172.5Z" style="fill:#4a4a4a;stroke:none"/>
<path d="M1000.11 172.5Q989.58 192.25 1000.11 212" stroke-width="1.15"/>
<path d="M1004.35 172.5Q993.82 192.25 1004.35 212" stroke-width="1.15"/>
<path d="M1006.63 172.5Q996.11 192.25 1006.63 212" stroke-width="1.15"/>
<path d="M1007.57 172.5Q997.04 192.25 1007.57 212" stroke-width="0.9"/>
<path d="M1012.81 172.5Q1002.97 192.25 1012.81 212L1015.28 212Q1005.43 192.25 1015.28 172.5Z" style="fill:#4a4a4a;stroke:none"/>
<path d="M1008.24 172.5Q998.4 192.25 1008.24 212" stroke-width="1.15"/>
<path d="M1012.81 172.5Q1002.97 192.25 1012.81 212" stroke-width="1.15"/>
<path d="M1015.28 172.5Q1005.43 192.25 1015.28 212" stroke-width="1.15"/>
<path d="M1016.29 172.5Q1006.44 192.25 1016.29 212" stroke-width="0.9"/>
<path d="M1021.94 172.5Q1012.81 192.25 1021.94 212L1024.6 212Q1015.47 192.25 1024.6 172.5Z" style="fill:#4a4a4a;stroke:none"/>
<path d="M1017.02 172.5Q1007.88 192.25 1017.02 212" stroke-width="1.15"/>
<path d="M1021.94 172.5Q1012.81 192.25 1021.94 212" stroke-width="1.15"/>
<path d="M1024.6 172.5Q1015.47 192.25 1024.6 212" stroke-width="1.15"/>
<path d="M1025.69 172.5Q1016.55 192.25 1025.69 212" stroke-width="0.9"/>
<path d="M1031.48 172.5Q1023.09 192.25 1031.48 212L1034.18 212Q1025.79 192.25 1034.18 172.5Z" style="fill:#4a4a4a;stroke:none"/>
<path d="M1026.48 172.5Q1018.09 192.25 1026.48 212" stroke-width="1.15"/>
<path d="M1031.48 172.5Q1023.09 192.25 1031.48 212" stroke-width="1.15"/>
<path d="M1034.18 172.5Q1025.79 192.25 1034.18 212" stroke-width="1.15"/>
<path d="M1035.28 172.5Q1026.89 192.25 1035.28 212" stroke-width="0.9"/>
<path d="M1041.08 172.5Q1033.44 192.25 1041.08 212L1043.78 212Q1036.14 192.25 1043.78 172.5Z" style="fill:#4a4a4a;stroke:none"/>
<path d="M1036.08 172.5Q1028.44 192.25 1036.08 212" stroke-width="1.15"/>
<path d="M1041.08 172.5Q1033.44 192.25 1041.08 212" stroke-width="1.15"/>
<path d="M1043.78 172.5Q1036.14 192.25 1043.78 212" stroke-width="1.15"/>
<path d="M1044.88 172.5Q1037.24 192.25 1044.88 212" stroke-width="0.9"/>
<path d="M1050.68 172.5Q1043.77 192.25 1050.68 212L1053.38 212Q1046.47 192.25 1053.38 172.5Z" style="fill:#4a4a4a;stroke:none"/>
<path d="M1045.68 172.5Q1038.77 192.25 1045.68 212" stroke-width="1.15"/>
<path d="M1050.68 172.5Q1043.77 192.25 1050.68 212" stroke-width="1.15"/>
<path d="M1053.38 172.5Q1046.47 192.25 1053.38 212" stroke-width="1.15"/>
<path d="M1054.48 172.5Q1047.57 192.25 1054.48 212" stroke-width="0.9"/>
<path d="M1060.28 172.5Q1054.07 192.25 1060.28 212L1062.98 212Q1056.77 192.25 1062.98 172.5Z" style="fill:#4a4a4a;stroke:none"/>
<path d="M1055.28 172.5Q1049.07 192.25 1055.28 212" stroke-width="1.15"/>
<path d="M1060.28 172.5Q1054.07 192.25 1060.28 212" stroke-width="1.15"/>
<path d="M1062.98 172.5Q1056.77 192.25 1062.98 212" stroke-width="1.15"/>
<path d="M1064.08 172.5Q1057.87 192.25 1064.08 212" stroke-width="0.9"/>
<path d="M1069.88 172.5Q1064.36 192.25 1069.88 212L1072.58 212Q1067.06 192.25 1072.58 172.5Z" style="fill:#4a4a4a;stroke:none"/>
<path d="M1064.88 172.5Q1059.36 192.25 1064.88 212" stroke-width="1.15"/>
<path d="M1069.88 172.5Q1064.36 192.25 1069.88 212" stroke-width="1.15"/>
<path d="M1072.58 172.5Q1067.06 192.25 1072.58 212" stroke-width="1.15"/>
<path d="M1073.68 172.5Q1068.16 192.25 1073.68 212" stroke-width="0.9"/>
<path d="M1079.48 172.5Q1074.62 192.25 1079.48 212L1082.18 212Q1077.32 192.25 1082.18 172.5Z" style="fill:#4a4a4a;stroke:none"/>
<path d="M1074.48 172.5Q1069.62 192.25 1074.48 212" stroke-width="1.15"/>
<path d="M1079.48 172.5Q1074.62 192.25 1079.48 212" stroke-width="1.15"/>
<path d="M1082.18 172.5Q1077.32 192.25 1082.18 212" stroke-width="1.15"/>
<path d="M1083.28 172.5Q1078.42 192.25 1083.28 212" stroke-width="0.9"/>
<path d="M1089.08 172.5Q1084.85 192.25 1089.08 212L1091.78 212Q1087.55 192.25 1091.78 172.5Z" style="fill:#4a4a4a;stroke:none"/>
<path d="M1084.08 172.5Q1079.85 192.25 1084.08 212" stroke-width="1.15"/>
<path d="M1089.08 172.5Q1084.85 192.25 1089.08 212" stroke-width="1.15"/>
<path d="M1091.78 172.5Q1087.55 192.25 1091.78 212" stroke-width="1.15"/>
<path d="M1092.88 172.5Q1088.65 192.25 1092.88 212" stroke-width="0.9"/>
<path d="M1098.68 172.5Q1095.06 192.25 1098.68 212L1101.38 212Q1097.76 192.25 1101.38 172.5Z" style="fill:#4a4a4a;stroke:none"/>
<path d="M1093.68 172.5Q1090.06 192.25 1093.68 212" stroke-width="1.15"/>
<path d="M1098.68 172.5Q1095.06 192.25 1098.68 212" stroke-width="1.15"/>
<path d="M1101.38 172.5Q1097.76 192.25 1101.38 212" stroke-width="1.15"/>
<path d="M1102.48 172.5Q1098.86 192.25 1102.48 212" stroke-width="0.9"/>
<path d="M1108.28 172.5Q1105.23 192.25 1108.28 212L1110.98 212Q1107.93 192.25 1110.98 172.5Z" style="fill:#4a4a4a;stroke:none"/>
<path d="M1103.28 172.5Q1100.23 192.25 1103.28 212" stroke-width="1.15"/>
<path d="M1108.28 172.5Q1105.23 192.25 1108.28 212" stroke-width="1.15"/>
<path d="M1110.98 172.5Q1107.93 192.25 1110.98 212" stroke-width="1.15"/>
<path d="M1112.08 172.5Q1109.03 192.25 1112.08 212" stroke-width="0.9"/>
<path d="M1117.88 172.5Q1115.36 192.25 1117.88 212L1120.58 212Q1118.06 192.25 1120.58 172.5Z" style="fill:#4a4a4a;stroke:none"/>
<path d="M1112.88 172.5Q1110.36 192.25 1112.88 212" stroke-width="1.15"/>
<path d="M1117.88 172.5Q1115.36 192.25 1117.88 212" stroke-width="1.15"/>
<path d="M1120.58 172.5Q1118.06 192.25 1120.58 212" stroke-width="1.15"/>
<path d="M1121.68 172.5Q1119.16 192.25 1121.68 212" stroke-width="0.9"/>
<path d="M1127.48 172.5Q1125.45 192.25 1127.48 212L1130.18 212Q1128.15 192.25 1130.18 172.5Z" style="fill:#4a4a4a;stroke:none"/>
<path d="M1122.48 172.5Q1120.45 192.25 1122.48 212" stroke-width="1.15"/>
<path d="M1127.48 172.5Q1125.45 192.25 1127.48 212" stroke-width="1.15"/>
<path d="M1130.18 172.5Q1128.15 192.25 1130.18 212" stroke-width="1.15"/>
<path d="M1131.28 172.5Q1129.25 192.25 1131.28 212" stroke-width="0.9"/>
<path d="M1137.08 172.5Q1135.47 192.25 1137.08 212L1139.78 212Q1138.17 192.25 1139.78 172.5Z" style="fill:#4a4a4a;stroke:none"/>
<path d="M1132.08 172.5Q1130.47 192.25 1132.08 212" stroke-width="1.15"/>
<path d="M1137.08 172.5Q1135.47 192.25 1137.08 212" stroke-width="1.15"/>
<path d="M1139.78 172.5Q1138.17 192.25 1139.78 212" stroke-width="1.15"/>
<path d="M1140.88 172.5Q1139.27 192.25 1140.88 212" stroke-width="0.9"/>
<path d="M1146.68 172.5Q1145.41 192.25 1146.68 212L1149.38 212Q1148.11 192.25 1149.38 172.5Z" style="fill:#4a4a4a;stroke:none"/>
<path d="M1141.68 172.5Q1140.41 192.25 1141.68 212" stroke-width="1.15"/>
<path d="M1146.68 172.5Q1145.41 192.25 1146.68 212" stroke-width="1.15"/>
<path d="M1149.38 172.5Q1148.11 192.25 1149.38 212" stroke-width="1.15"/>
<path d="M1150.48 172.5Q1149.21 192.25 1150.48 212" stroke-width="0.9"/>
<path d="M1156.28 172.5Q1157.59 192.25 1156.28 212L1158.98 212Q1160.29 192.25 1158.98 172.5Z" style="fill:#4a4a4a;stroke:none"/>
<path d="M1151.28 172.5Q1152.59 192.25 1151.28 212" stroke-width="1.15"/>
<path d="M1156.28 172.5Q1157.59 192.25 1156.28 212" stroke-width="1.15"/>
<path d="M1158.98 172.5Q1160.29 192.25 1158.98 212" stroke-width="1.15"/>
<path d="M1160.08 172.5Q1161.39 192.25 1160.08 212" stroke-width="0.9"/>
<path d="M1165.88 172.5Q1167.45 192.25 1165.88 212L1168.58 212Q1170.15 192.25 1168.58 172.5Z" style="fill:#4a4a4a;stroke:none"/>
<path d="M1160.88 172.5Q1162.45 192.25 1160.88 212" stroke-width="1.15"/>
<path d="M1165.88 172.5Q1167.45 192.25 1165.88 212" stroke-width="1.15"/>
<path d="M1168.58 172.5Q1170.15 192.25 1168.58 212" stroke-width="1.15"/>
<path d="M1169.68 172.5Q1171.25 192.25 1169.68 212" stroke-width="0.9"/>
<path d="M1175.48 172.5Q1177.37 192.25 1175.48 212L1178.18 212Q1180.07 192.25 1178.18 172.5Z" style="fill:#4a4a4a;stroke:none"/>
<path d="M1170.48 172.5Q1172.37 192.25 1170.48 212" stroke-width="1.15"/>
<path d="M1175.48 172.5Q1177.37 192.25 1175.48 212" stroke-width="1.15"/>
<path d="M1178.18 172.5Q1180.07 192.25 1178.18 212" stroke-width="1.15"/>
<path d="M1179.28 172.5Q1181.17 192.25 1179.28 212" stroke-width="0.9"/>
<path d="M1185.08 172.5Q1187.32 192.25 1185.08 212L1187.78 212Q1190.02 192.25 1187.78 172.5Z" style="fill:#4a4a4a;stroke:none"/>
<path d="M1180.08 172.5Q1182.32 192.25 1180.08 212" stroke-width="1.15"/>
<path d="M1185.08 172.5Q1187.32 192.25 1185.08 212" stroke-width="1.15"/>
<path d="M1187.78 172.5Q1190.02 192.25 1187.78 212" stroke-width="1.15"/>
<path d="M1188.88 172.5Q1191.12 192.25 1188.88 212" stroke-width="0.9"/>
<path d="M1194.68 172.5Q1197.31 192.25 1194.68 212L1197.38 212Q1200.01 192.25 1197.38 172.5Z" style="fill:#4a4a4a;stroke:none"/>
<path d="M1189.68 172.5Q1192.31 192.25 1189.68 212" stroke-width="1.15"/>
<path d="M1194.68 172.5Q1197.31 192.25 1194.68 212" stroke-width="1.15"/>
<path d="M1197.38 172.5Q1200.01 192.25 1197.38 212" stroke-width="1.15"/>
<path d="M1198.48 172.5Q1201.11 192.25 1198.48 212" stroke-width="0.9"/>
<path d="M1204.28 172.5Q1207.32 192.25 1204.28 212L1206.98 212Q1210.02 192.25 1206.98 172.5Z" style="fill:#4a4a4a;stroke:none"/>
<path d="M1199.28 172.5Q1202.32 192.25 1199.28 212" stroke-width="1.15"/>
<path d="M1204.28 172.5Q1207.32 192.25 1204.28 212" stroke-width="1.15"/>
<path d="M1206.98 172.5Q1210.02 192.25 1206.98 212" stroke-width="1.15"/>
<path d="M1208.08 172.5Q1211.12 192.25 1208.08 212" stroke-width="0.9"/>
<path d="M1213.88 172.5Q1217.36 192.25 1213.88 212L1216.58 212Q1220.06 192.25 1216.58 172.5Z" style="fill:#4a4a4a;stroke:none"/>
<path d="M1208.88 172.5Q1212.36 192.25 1208.88 212" stroke-width="1.15"/>
<path d="M1213.88 172.5Q1217.36 192.25 1213.88 212" stroke-width="1.15"/>
<path d="M1216.58 172.5Q1220.06 192.25 1216.58 212" stroke-width="1.15"/>
<path d="M1217.68 172.5Q1221.16 192.25 1217.68 212" stroke-width="0.9"/>
<path d="M1223.48 172.5Q1227.41 192.25 1223.48 212L1226.18 212Q1230.11 192.25 1226.18 172.5Z" style="fill:#4a4a4a;stroke:none"/>
<path d="M1218.48 172.5Q1222.41 192.25 1218.48 212" stroke-width="1.15"/>
<path d="M1223.48 172.5Q1227.41 192.25 1223.48 212" stroke-width="1.15"/>
<path d="M1226.18 172.5Q1230.11 192.25 1226.18 212" stroke-width="1.15"/>
<path d="M1227.28 172.5Q1231.21 192.25 1227.28 212" stroke-width="0.9"/>
<path d="M1233.08 172.5Q1237.49 192.25 1233.08 212L1235.78 212Q1240.19 192.25 1235.78 172.5Z" style="fill:#4a4a4a;stroke:none"/>
<path d="M1228.08 172.5Q1232.49 192.25 1228.08 212" stroke-width="1.15"/>
<path d="M1233.08 172.5Q1237.49 192.25 1233.08 212" stroke-width="1.15"/>
<path d="M1235.78 172.5Q1240.19 192.25 1235.78 212" stroke-width="1.15"/>
<path d="M1236.88 172.5Q1241.29 192.25 1236.88 212" stroke-width="0.9"/>
<path d="M1242.55 172.5Q1247.46 192.25 1242.55 212L1245.19 212Q1250.09 192.25 1245.19 172.5Z" style="fill:#4a4a4a;stroke:none"/>
<path d="M1237.68 172.5Q1242.58 192.25 1237.68 212" stroke-width="1.15"/>
<path d="M1242.55 172.5Q1247.46 192.25 1242.55 212" stroke-width="1.15"/>
<path d="M1245.19 172.5Q1250.09 192.25 1245.19 212" stroke-width="1.15"/>
<path d="M1246.26 172.5Q1251.16 192.25 1246.26 212" stroke-width="0.9"/>
<path d="M1251.75 172.5Q1257.15 192.25 1251.75 212L1254.29 212Q1259.69 192.25 1254.29 172.5Z" style="fill:#4a4a4a;stroke:none"/>
<path d="M1247.04 172.5Q1252.44 192.25 1247.04 212" stroke-width="1.15"/>
<path d="M1251.75 172.5Q1257.15 192.25 1251.75 212" stroke-width="1.15"/>
<path d="M1254.29 172.5Q1259.69 192.25 1254.29 212" stroke-width="1.15"/>
<path d="M1255.33 172.5Q1260.72 192.25 1255.33 212" stroke-width="0.9"/>
<path d="M1260.62 172.5Q1266.51 192.25 1260.62 212L1263.08 212Q1268.96 192.25 1263.08 172.5Z" style="fill:#4a4a4a;stroke:none"/>
<path d="M1256.08 172.5Q1261.97 192.25 1256.08 212" stroke-width="1.15"/>
<path d="M1260.62 172.5Q1266.51 192.25 1260.62 212" stroke-width="1.15"/>
<path d="M1263.08 172.5Q1268.96 192.25 1263.08 212" stroke-width="1.15"/>
<path d="M1264.08 172.5Q1269.96 192.25 1264.08 212" stroke-width="0.9"/>
<path d="M1269.19 172.5Q1275.56 192.25 1269.19 212L1271.55 212Q1277.92 192.25 1271.55 172.5Z" style="fill:#4a4a4a;stroke:none"/>
<path d="M1264.8 172.5Q1271.17 192.25 1264.8 212" stroke-width="1.15"/>
<path d="M1269.19 172.5Q1275.56 192.25 1269.19 212" stroke-width="1.15"/>
<path d="M1271.55 172.5Q1277.92 192.25 1271.55 212" stroke-width="1.15"/>
<path d="M1272.52 172.5Q1278.89 192.25 1272.52 212" stroke-width="0.9"/>
<path d="M1277.45 172.5Q1284.3 192.25 1277.45 212L1279.73 212Q1286.58 192.25 1279.73 172.5Z" style="fill:#4a4a4a;stroke:none"/>
<path d="M1273.22 172.5Q1280.07 192.25 1273.22 212" stroke-width="1.15"/>
<path d="M1277.45 172.5Q1284.3 192.25 1277.45 212" stroke-width="1.15"/>
<path d="M1279.73 172.5Q1286.58 192.25 1279.73 212" stroke-width="1.15"/>
<path d="M1280.66 172.5Q1287.51 192.25 1280.66 212" stroke-width="0.9"/>
<path d="M1285.42 172.5Q1292.74 192.25 1285.42 212L1287.63 212Q1294.95 192.25 1287.63 172.5Z" style="fill:#4a4a4a;stroke:none"/>
<path d="M1281.34 172.5Q1288.66 192.25 1281.34 212" stroke-width="1.15"/>
<path d="M1285.42 172.5Q1292.74 192.25 1285.42 212" stroke-width="1.15"/>
<path d="M1287.63 172.5Q1294.95 192.25 1287.63 212" stroke-width="1.15"/>
<path d="M1288.53 172.5Q1295.84 192.25 1288.53 212" stroke-width="0.9"/>
<path d="M1293.12 172.5Q1300.9 192.25 1293.12 212L1295.25 212Q1303.03 192.25 1295.25 172.5Z" style="fill:#4a4a4a;stroke:none"/>
<path d="M1289.18 172.5Q1296.96 192.25 1289.18 212" stroke-width="1.15"/>
<path d="M1293.12 172.5Q1300.9 192.25 1293.12 212" stroke-width="1.15"/>
<path d="M1295.25 172.5Q1303.03 192.25 1295.25 212" stroke-width="1.15"/>
<path d="M1296.11 172.5Q1303.89 192.25 1296.11 212" stroke-width="0.9"/>
<path d="M1300.54 172.5Q1308.78 192.25 1300.54 212L1302.6 212Q1310.83 192.25 1302.6 172.5Z" style="fill:#4a4a4a;stroke:none"/>
<path d="M1296.74 172.5Q1304.97 192.25 1296.74 212" stroke-width="1.15"/>
<path d="M1300.54 172.5Q1308.78 192.25 1300.54 212" stroke-width="1.15"/>
<path d="M1302.6 172.5Q1310.83 192.25 1302.6 212" stroke-width="1.15"/>
<path d="M1303.43 172.5Q1311.66 192.25 1303.43 212" stroke-width="0.9"/>
<path d="M1307.71 172.5Q1316.38 192.25 1307.71 212L1309.69 212Q1318.37 192.25 1309.69 172.5Z" style="fill:#4a4a4a;stroke:none"/>
<path d="M1304.04 172.5Q1312.72 192.25 1304.04 212" stroke-width="1.15"/>
<path d="M1307.71 172.5Q1316.38 192.25 1307.71 212" stroke-width="1.15"/>
<path d="M1309.69 172.5Q1318.37 192.25 1309.69 212" stroke-width="1.15"/>
<path d="M1310.5 172.5Q1319.17 192.25 1310.5 212" stroke-width="0.9"/>
<path d="M1314.63 172.5Q1323.73 192.25 1314.63 212L1316.54 212Q1325.64 192.25 1316.54 172.5Z" style="fill:#4a4a4a;stroke:none"/>
<path d="M1311.09 172.5Q1320.19 192.25 1311.09 212" stroke-width="1.15"/>
<path d="M1314.63 172.5Q1323.73 192.25 1314.63 212" stroke-width="1.15"/>
<path d="M1316.54 172.5Q1325.64 192.25 1316.54 212" stroke-width="1.15"/>
<path d="M1317.32 172.5Q1326.42 192.25 1317.32 212" stroke-width="0.9"/>
<path d="M1321.3 172.5Q1330.83 192.25 1321.3 212L1323.14 212Q1332.67 192.25 1323.14 172.5Z" style="fill:#4a4a4a;stroke:none"/>
<path d="M1317.88 172.5Q1327.41 192.25 1317.88 212" stroke-width="1.15"/>
<path d="M1321.3 172.5Q1330.83 192.25 1321.3 212" stroke-width="1.15"/>
<path d="M1323.14 172.5Q1332.67 192.25 1323.14 212" stroke-width="1.15"/>
<path d="M1323.9 172.5Q1333.43 192.25 1323.9 212" stroke-width="0.9"/>
<path d="M1327.74 172.5Q1337.68 192.25 1327.74 212L1329.52 212Q1339.46 192.25 1329.52 172.5Z" style="fill:#4a4a4a;stroke:none"/>
<path d="M1324.44 172.5Q1334.39 192.25 1324.44 212" stroke-width="1.15"/>
<path d="M1327.74 172.5Q1337.68 192.25 1327.74 212" stroke-width="1.15"/>
<path d="M1329.52 172.5Q1339.46 192.25 1329.52 212" stroke-width="1.15"/>
<path d="M1330.24 172.5Q1340.19 192.25 1330.24 212" stroke-width="0.9"/>
<path d="M1333.95 172.5Q1344.3 192.25 1333.95 212L1335.67 212Q1346.02 192.25 1335.67 172.5Z" style="fill:#4a4a4a;stroke:none"/>
<path d="M1330.77 172.5Q1341.12 192.25 1330.77 212" stroke-width="1.15"/>
<path d="M1333.95 172.5Q1344.3 192.25 1333.95 212" stroke-width="1.15"/>
<path d="M1335.67 172.5Q1346.02 192.25 1335.67 212" stroke-width="1.15"/>
<path d="M1336.37 172.5Q1346.72 192.25 1336.37 212" stroke-width="0.9"/>
<path d="M1339.95 172.5Q1350.69 192.25 1339.95 212L1341.61 212Q1352.35 192.25 1341.61 172.5Z" style="fill:#4a4a4a;stroke:none"/>
<path d="M1336.88 172.5Q1347.62 192.25 1336.88 212" stroke-width="1"/>
<path d="M1339.95 172.5Q1350.69 192.25 1339.95 212" stroke-width="1"/>
<path d="M1341.61 172.5Q1352.35 192.25 1341.61 212" stroke-width="1"/>
<path d="M1342.28 172.5Q1353.02 192.25 1342.28 212" stroke-width="0.9"/>
<path d="M1345.74 172.5Q1356.86 192.25 1345.74 212L1347.34 212Q1358.46 192.25 1347.34 172.5Z" style="fill:#4a4a4a;stroke:none"/>
<path d="M1342.77 172.5Q1353.9 192.25 1342.77 212" stroke-width="1"/>
<path d="M1345.74 172.5Q1356.86 192.25 1345.74 212" stroke-width="1"/>
<path d="M1347.34 172.5Q1358.46 192.25 1347.34 212" stroke-width="1"/>
<path d="M1347.99 172.5Q1359.11 192.25 1347.99 212" stroke-width="0.9"/>
<path d="M1351.32 172.5Q1362.81 192.25 1351.32 212L1352.86 212Q1364.36 192.25 1352.86 172.5Z" style="fill:#4a4a4a;stroke:none"/>
<path d="M1348.46 172.5Q1359.96 192.25 1348.46 212" stroke-width="1"/>
<path d="M1351.32 172.5Q1362.81 192.25 1351.32 212" stroke-width="1"/>
<path d="M1352.86 172.5Q1364.36 192.25 1352.86 212" stroke-width="1"/>
<path d="M1353.49 172.5Q1364.99 192.25 1353.49 212" stroke-width="0.9"/>
<path d="M1356.71 172.5Q1368.57 192.25 1356.71 212L1358.2 212Q1370.06 192.25 1358.2 172.5Z" style="fill:#4a4a4a;stroke:none"/>
<path d="M1353.95 172.5Q1365.81 192.25 1353.95 212" stroke-width="1"/>
<path d="M1356.71 172.5Q1368.57 192.25 1356.71 212" stroke-width="1"/>
<path d="M1358.2 172.5Q1370.06 192.25 1358.2 212" stroke-width="1"/>
<path d="M1358.81 172.5Q1370.66 192.25 1358.81 212" stroke-width="0.9"/>
<path d="M1361.91 172.5Q1374.12 192.25 1361.91 212L1363.35 212Q1375.56 192.25 1363.35 172.5Z" style="fill:#4a4a4a;stroke:none"/>
<path d="M1359.25 172.5Q1371.46 192.25 1359.25 212" stroke-width="1"/>
<path d="M1361.91 172.5Q1374.12 192.25 1361.91 212" stroke-width="1"/>
<path d="M1363.35 172.5Q1375.56 192.25 1363.35 212" stroke-width="1"/>
<path d="M1363.93 172.5Q1376.14 192.25 1363.93 212" stroke-width="0.9"/>
<path d="M1366.93 172.5Q1379.48 192.25 1366.93 212L1368.31 212Q1380.87 192.25 1368.31 172.5Z" style="fill:#4a4a4a;stroke:none"/>
<path d="M1364.36 172.5Q1376.91 192.25 1364.36 212" stroke-width="1"/>
<path d="M1366.93 172.5Q1379.48 192.25 1366.93 212" stroke-width="1"/>
<path d="M1368.31 172.5Q1380.87 192.25 1368.31 212" stroke-width="1"/>
<path d="M1371.77 172.5Q1384.65 192.25 1371.77 212L1373.11 212Q1385.99 192.25 1373.11 172.5Z" style="fill:#4a4a4a;stroke:none"/>
<path d="M1369.29 172.5Q1382.18 192.25 1369.29 212" stroke-width="1"/>
<path d="M1371.77 172.5Q1384.65 192.25 1371.77 212" stroke-width="1"/>
<path d="M1373.11 172.5Q1385.99 192.25 1373.11 212" stroke-width="1"/>
<path d="M1376.44 172.5Q1389.65 192.25 1376.44 212L1377.73 212Q1390.94 192.25 1377.73 172.5Z" style="fill:#4a4a4a;stroke:none"/>
<path d="M1374.05 172.5Q1387.26 192.25 1374.05 212" stroke-width="1"/>
<path d="M1376.44 172.5Q1389.65 192.25 1376.44 212" stroke-width="1"/>
<path d="M1377.73 172.5Q1390.94 192.25 1377.73 212" stroke-width="1"/>
<path d="M1380.95 172.5Q1394.47 192.25 1380.95 212L1382.2 212Q1395.72 192.25 1382.2 172.5Z" style="fill:#4a4a4a;stroke:none"/>
<path d="M1378.64 172.5Q1392.17 192.25 1378.64 212" stroke-width="1"/>
<path d="M1380.95 172.5Q1394.47 192.25 1380.95 212" stroke-width="1"/>
<path d="M1382.2 172.5Q1395.72 192.25 1382.2 212" stroke-width="1"/>
<path d="M1385.3 172.5Q1399.13 192.25 1385.3 212L1386.51 212Q1400.33 192.25 1386.51 172.5Z" style="fill:#4a4a4a;stroke:none"/>
<path d="M1383.08 172.5Q1396.9 192.25 1383.08 212" stroke-width="1"/>
<path d="M1385.3 172.5Q1399.13 192.25 1385.3 212" stroke-width="1"/>
<path d="M1386.51 172.5Q1400.33 192.25 1386.51 212" stroke-width="1"/>
<path d="M1389.5 172.5Q1403.63 192.25 1389.5 212L1390.66 212Q1404.79 192.25 1390.66 172.5Z" style="fill:#4a4a4a;stroke:none"/>
<path d="M1387.35 172.5Q1401.48 192.25 1387.35 212" stroke-width="1"/>
<path d="M1389.5 172.5Q1403.63 192.25 1389.5 212" stroke-width="1"/>
<path d="M1390.66 172.5Q1404.79 192.25 1390.66 212" stroke-width="1"/>
<path d="M1393.56 172.5Q1407.97 192.25 1393.56 212L1394.68 212Q1409.09 192.25 1394.68 172.5Z" style="fill:#4a4a4a;stroke:none"/>
<path d="M1391.48 172.5Q1405.89 192.25 1391.48 212" stroke-width="1"/>
<path d="M1393.56 172.5Q1407.97 192.25 1393.56 212" stroke-width="1"/>
<path d="M1394.68 172.5Q1409.09 192.25 1394.68 212" stroke-width="1"/>
<path d="M1397.47 172.5Q1412.15 192.25 1397.47 212L1398.55 212Q1413.24 192.25 1398.55 172.5Z" style="fill:#4a4a4a;stroke:none"/>
<path d="M1395.46 172.5Q1410.15 192.25 1395.46 212" stroke-width="1"/>
<path d="M1397.47 172.5Q1412.15 192.25 1397.47 212" stroke-width="1"/>
<path d="M1398.55 172.5Q1413.24 192.25 1398.55 212" stroke-width="1"/>
<path d="M1401.24 172.5Q1416.2 192.25 1401.24 212L1402.28 212Q1417.24 192.25 1402.28 172.5Z" style="fill:#4a4a4a;stroke:none"/>
<path d="M1399.31 172.5Q1414.27 192.25 1399.31 212" stroke-width="1"/>
<path d="M1401.24 172.5Q1416.2 192.25 1401.24 212" stroke-width="1"/>
<path d="M1402.28 172.5Q1417.24 192.25 1402.28 212" stroke-width="1"/>
<path d="M1404.88 172.5Q1420.88 192.25 1404.88 212L1405.89 212Q1421.88 192.25 1405.89 172.5Z" style="fill:#4a4a4a;stroke:none"/>
<path d="M1403.02 172.5Q1419.01 192.25 1403.02 212" stroke-width="1"/>
<path d="M1404.88 172.5Q1420.88 192.25 1404.88 212" stroke-width="1"/>
<path d="M1405.89 172.5Q1421.88 192.25 1405.89 212" stroke-width="1"/>
<path d="M1408.4 172.5Q1425.56 192.25 1408.4 212L1409.37 212Q1426.54 192.25 1409.37 172.5Z" style="fill:#4a4a4a;stroke:none"/>
<path d="M1406.6 172.5Q1423.77 192.25 1406.6 212" stroke-width="1"/>
<path d="M1408.4 172.5Q1425.56 192.25 1408.4 212" stroke-width="1"/>
<path d="M1409.37 172.5Q1426.54 192.25 1409.37 212" stroke-width="1"/>
<path d="M1411.79 172.5Q1430.09 192.25 1411.79 212L1412.72 212Q1431.03 192.25 1412.72 172.5Z" style="fill:#4a4a4a;stroke:none"/>
<path d="M1410.05 172.5Q1428.35 192.25 1410.05 212" stroke-width="1"/>
<path d="M1411.79 172.5Q1430.09 192.25 1411.79 212" stroke-width="1"/>
<path d="M1412.72 172.5Q1431.03 192.25 1412.72 212" stroke-width="1"/>
<path d="M1415.06 172.5Q1434.46 192.25 1415.06 212L1415.96 212Q1435.36 192.25 1415.96 172.5Z" style="fill:#4a4a4a;stroke:none"/>
<path d="M1413.38 172.5Q1432.78 192.25 1413.38 212" stroke-width="1"/>
<path d="M1415.06 172.5Q1434.46 192.25 1415.06 212" stroke-width="1"/>
<path d="M1415.96 172.5Q1435.36 192.25 1415.96 212" stroke-width="1"/>
<path d="M1416.6 172.5Q1437.06 192.25 1416.6 212" stroke-width="1.6"/>
<path d="M1419.7 172.5Q1441.18 192.25 1419.7 212" stroke-width="1.6"/>
<path d="M1422.7 172.5Q1445.16 192.25 1422.7 212" stroke-width="1.6"/>
<path d="M1425.59 172.5Q1449 192.25 1425.59 212" stroke-width="1.6"/>
<path d="M1428.38 172.5Q1452.71 192.25 1428.38 212" stroke-width="1.6"/>
<path d="M1431.07 172.5Q1456.29 192.25 1431.07 212" stroke-width="1.6"/>
<path d="M1433.67 172.5Q1459.75 192.25 1433.67 212" stroke-width="1.6"/>
<path d="M1436.18 172.5Q1463.08 192.25 1436.18 212" stroke-width="1.6"/>
<path d="M1438.59 172.5Q1466.3 192.25 1438.59 212" stroke-width="1.6"/>
<path d="M1440.93 172.5Q1469.41 192.25 1440.93 212" stroke-width="1.6"/>
<path d="M1443.18 172.5Q1472.4 192.25 1443.18 212" stroke-width="1.6"/>
<path d="M1445.35 172.5Q1475.3 192.25 1445.35 212" stroke-width="1.6"/>
<path d="M1447.45 172.5Q1478.09 192.25 1447.45 212" stroke-width="1.6"/>
<path d="M1449.48 172.5Q1480.78 192.25 1449.48 212" stroke-width="1.6"/>
<path d="M1451.43 172.5Q1483.39 192.25 1451.43 212" stroke-width="1.6"/>
<path class="f" d="M1430 172.5H1447.5A19.75 19.75 0 0 1 1447.5 212H1430Z"/>
<path d="M1453.1 170.17A22.3 22.3 0 0 1 1453.1 214.33" stroke-width="2.4"/>
<path d="M1453.51 172.55A20.3 20.3 0 0 1 1453.51 211.95" stroke-width="1.3" style="stroke:#fff"/>
<path d="M1184 192.25L1369 192.25" stroke-width="1"/>
<path d="M886 192.25L960 192.25" stroke-width="1"/>
<path d="M915 53L915 225" stroke-width="1"/>
</g>
<g id="v_front">
<path class="f" d="M260 482V459.62A20.38 20.38 0 0 1 300.75 459.62V482Z"/>
<path d="M271.4 448.5Q280.4 444.8 289.4 448.5" stroke-width="0.5" style="stroke:#999"/>
<path d="M270.8 452.5Q280.4 448.8 290 452.5" stroke-width="0.5" style="stroke:#999"/>
<path d="M270.2 456.5Q280.4 452.8 290.6 456.5" stroke-width="0.5" style="stroke:#999"/>
<path d="M269.6 460.5Q280.4 456.8 291.2 460.5" stroke-width="0.5" style="stroke:#999"/>
<path d="M269 464.5Q280.4 460.8 291.8 464.5" stroke-width="0.5" style="stroke:#999"/>
<path d="M268.4 468.5Q280.4 464.8 292.4 468.5" stroke-width="0.5" style="stroke:#999"/>
<path class="w" d="M260 493H300.75V611H260Z" style="stroke:none"/>
<path d="M260 493L260 611" stroke-width="1.5"/>
<path d="M300.75 493L300.75 611" stroke-width="1.5"/>
<path d="M260 489Q280.4 515 300.75 489" stroke-width="1.3"/>
<path d="M260 490.9Q280.4 516.9 300.75 490.9" stroke-width="1.3"/>
<path d="M260 492.8Q280.4 518.8 300.75 492.8" stroke-width="1.3"/>
<path d="M260 494.7Q280.4 520.7 300.75 494.7" stroke-width="1.3"/>
<path d="M260 496.6Q280.4 522.29 300.75 496.6" stroke-width="1.32"/>
<path d="M260 498.57Q280.4 523.88 300.75 498.57" stroke-width="1.34"/>
<path d="M260 500.64Q280.4 525.54 300.75 500.64" stroke-width="1.36"/>
<path d="M260 502.8Q280.4 527.28 300.75 502.8" stroke-width="1.39"/>
<path d="M260 505.06Q280.4 529.1 300.75 505.06" stroke-width="1.42"/>
<path d="M260 507.42Q280.4 531 300.75 507.42" stroke-width="1.44"/>
<path d="M260 509.89Q280.4 532.99 300.75 509.89" stroke-width="1.47"/>
<path d="M260 512.48Q280.4 535.07 300.75 512.48" stroke-width="1.5"/>
<path d="M260 515.18Q280.4 537.25 300.75 515.18" stroke-width="1.53"/>
<path d="M260 518.01Q280.4 539.53 300.75 518.01" stroke-width="1.56"/>
<path d="M260 520.97Q280.4 541.91 300.75 520.97" stroke-width="1.6"/>
<path d="M260 524.06Q280.4 544.4 300.75 524.06" stroke-width="1.63"/>
<path d="M260 527.3Q280.4 547.01 300.75 527.3" stroke-width="1.67"/>
<path d="M260 530.69Q280.4 549.74 300.75 530.69" stroke-width="1.71"/>
<path d="M260 534.23Q280.4 552.59 300.75 534.23" stroke-width="1.75"/>
<path d="M260 537.93Q280.4 555.57 300.75 537.93" stroke-width="1.79"/>
<path d="M260 541.81Q280.4 558.7 300.75 541.81" stroke-width="1.84"/>
<path d="M261 544.21Q280.4 561.1 299.75 544.21" stroke-width="0.9"/>
<path d="M260 545.86Q280.4 561.96 300.75 545.86" stroke-width="1.89"/>
<path d="M261 548.26Q280.4 564.36 299.75 548.26" stroke-width="0.9"/>
<path d="M260 550.1Q280.4 565.38 300.75 550.1" stroke-width="1.93"/>
<path d="M261 552.5Q280.4 567.78 299.75 552.5" stroke-width="0.9"/>
<path d="M260 554.54Q280.4 568.95 300.75 554.54" stroke-width="1.98"/>
<path d="M261 556.94Q280.4 571.35 299.75 556.94" stroke-width="0.9"/>
<path d="M260 559.18Q280.4 572.68 300.75 559.18" stroke-width="2.04"/>
<path d="M261 561.58Q280.4 575.08 299.75 561.58" stroke-width="0.9"/>
<path d="M260 564.03Q280.4 576.59 300.75 564.03" stroke-width="2.09"/>
<path d="M261 566.43Q280.4 578.99 299.75 566.43" stroke-width="0.9"/>
<path d="M260 569.11Q280.4 580.68 300.75 569.11" stroke-width="2.15"/>
<path d="M261 571.51Q280.4 583.08 299.75 571.51" stroke-width="0.9"/>
<path d="M260 574.42Q280.4 584.96 300.75 574.42" stroke-width="2.21"/>
<path d="M261 576.82Q280.4 587.36 299.75 576.82" stroke-width="0.9"/>
<path d="M260 579.97Q280.4 589.43 300.75 579.97" stroke-width="2.28"/>
<path d="M261 582.37Q280.4 591.83 299.75 582.37" stroke-width="0.9"/>
<path d="M260 585.79Q280.4 594.11 300.75 585.79" stroke-width="2.34"/>
<path d="M261 588.19Q280.4 596.51 299.75 588.19" stroke-width="0.9"/>
<path d="M260 591.86Q280.4 599 300.75 591.86" stroke-width="2.41"/>
<path d="M261 594.26Q280.4 601.4 299.75 594.26" stroke-width="0.9"/>
<path d="M260 598.22Q280.4 604.12 300.75 598.22" stroke-width="2.49"/>
<path d="M261 600.62Q280.4 606.52 299.75 600.62" stroke-width="0.9"/>
<path d="M260 604.87Q280.4 609.48 300.75 604.87" stroke-width="2.56"/>
<path d="M261 607.27Q280.4 611.88 299.75 607.27" stroke-width="0.9"/>
<rect x="255.5" y="611" width="13.3" height="26.6" stroke-width="1.6" class="w"/>
<rect x="292.2" y="611" width="13.3" height="26.6" stroke-width="1.6" class="w"/>
<path d="M292.2 618.5L305.5 618.5" stroke-width="1.3"/>
<path d="M292.2 631L305.5 631" stroke-width="1.3"/>
<path d="M303.6 618.5L303.6 631" stroke-width="1.2"/>
<rect x="292.2" y="637.6" width="11.1" height="16.1" stroke-width="1.4"/>
<path d="M298 640L298 653.7" stroke-width="1.2"/>
<path d="M292.2 640L298 640" stroke-width="1.2"/>
<rect x="263.6" y="637.6" width="5.2" height="16.1" stroke-width="1.3"/>
<path class="f" d="M246.6 652.5V645L248.6 641H262.2V652.5Z"/>
<path d="M249 644L260 644" stroke-width="0.8" style="stroke:#fff"/>
<path d="M249 648L260 648" stroke-width="0.8" style="stroke:#fff"/>
<path d="M200.5 653.7H360.3" stroke-width="1.8"/>
<path d="M200.5 653.7L197.8 654.6L196.9 657L194 763L192.6 793.65L190.6 868.4" stroke-width="1.8"/>
<path d="M360.3 653.7L363 654.6L363.9 657L366.8 763L368.2 793.65L370.2 868.4" stroke-width="1.8"/>
<path d="M200.2 657L198.6 700L196.6 793.65L194.2 864.5" stroke-width="1.2"/>
<path d="M360.6 657L362.2 700L364.2 793.65L366.6 864.5" stroke-width="1.2"/>
<path d="M201.8 654C202.03 654.83 202.67 657.33 203.2 659C203.73 660.67 204.7 663.17 205 664" stroke-width="1.2"/>
<path d="M359 654C358.77 654.83 358.13 657.33 357.6 659C357.07 660.67 356.1 663.17 355.8 664" stroke-width="1.2"/>
<ellipse cx="206.4" cy="663.4" rx="4.6" ry="2.3" stroke-width="1.4"/>
<ellipse cx="354.4" cy="663.4" rx="4.6" ry="2.3" stroke-width="1.4"/>
<ellipse cx="206.6" cy="663.6" rx="2.6" ry="1.2" stroke-width="1"/>
<ellipse cx="354.2" cy="663.6" rx="2.6" ry="1.2" stroke-width="1"/>
<path d="M226.2 653.7C226.38 655.42 226.75 661.28 227.3 664C227.85 666.72 228.47 668.57 229.5 670C230.53 671.43 231.55 672.14 233.5 672.6C235.45 673.06 233.38 672.73 241.2 672.75C249.02 672.77 273.87 672.75 280.4 672.75" stroke-width="1.6"/>
<path d="M334.6 653.7C334.42 655.42 334.05 661.28 333.5 664C332.95 666.72 332.33 668.57 331.3 670C330.27 671.43 329.25 672.14 327.3 672.6C325.35 673.06 327.42 672.73 319.6 672.75C311.78 672.77 286.93 672.75 280.4 672.75" stroke-width="1.6"/>
<path d="M231.2 653.7C231.37 655.25 231.73 660.62 232.2 663C232.67 665.38 233.2 666.75 234 668C234.8 669.25 236.5 670.08 237 670.5" stroke-width="1.1"/>
<path d="M329.6 653.7C329.43 655.25 329.07 660.62 328.6 663C328.13 665.38 327.6 666.75 326.8 668C326 669.25 324.3 670.08 323.8 670.5" stroke-width="1.1"/>
<path d="M238.3 653.7C238.12 655.08 237.67 659.53 237.2 662C236.73 664.47 235.78 667.42 235.5 668.5" stroke-width="1.1"/>
<path d="M322.5 653.7C322.68 655.08 323.13 659.53 323.6 662C324.07 664.47 325.02 667.42 325.3 668.5" stroke-width="1.1"/>
<path d="M243 654L241.2 668.2L241.2 672.75" stroke-width="1.4"/>
<path d="M317.8 654L319.6 668.2L319.6 672.75" stroke-width="1.4"/>
<path d="M241.2 668.2L280.4 668.2" stroke-width="1.4"/>
<path d="M319.6 668.2L280.4 668.2" stroke-width="1.4"/>
<path d="M243 656.4L280.4 656.4" stroke-width="1.4"/>
<path d="M317.8 656.4L280.4 656.4" stroke-width="1.4"/>
<path d="M204 662C204.83 664.33 206.83 671.17 209 676C211.17 680.83 214.33 685.67 217 691C219.67 696.33 222.8 703.1 225 708C227.2 712.9 228.77 715.9 230.2 720.4C231.63 724.9 232.63 730.07 233.6 735C234.57 739.93 234.85 745 236 750C237.15 755 238.45 760.17 240.5 765C242.55 769.83 245.22 775.25 248.3 779C251.38 782.75 254.82 785.28 259 787.5C263.18 789.72 271 791.5 273.4 792.3" stroke-width="1.6"/>
<path d="M356.8 662C355.97 664.33 353.97 671.17 351.8 676C349.63 680.83 346.47 685.67 343.8 691C341.13 696.33 338 703.1 335.8 708C333.6 712.9 332.03 715.9 330.6 720.4C329.17 724.9 328.17 730.07 327.2 735C326.23 739.93 325.95 745 324.8 750C323.65 755 322.35 760.17 320.3 765C318.25 769.83 315.58 775.25 312.5 779C309.42 782.75 305.98 785.28 301.8 787.5C297.62 789.72 289.8 791.5 287.4 792.3" stroke-width="1.6"/>
<path d="M201.5 677C202.58 678.5 205.75 682.33 208 686C210.25 689.67 212.75 694.5 215 699C217.25 703.5 219.62 708.33 221.5 713C223.38 717.67 225.02 720.83 226.3 727C227.58 733.17 228.08 743.67 229.2 750C230.32 756.33 231.2 760.42 233 765C234.8 769.58 237.17 774 240 777.5C242.83 781 246.33 783.75 250 786C253.67 788.25 258.33 789.8 262 791C265.67 792.2 270.33 792.83 272 793.2" stroke-width="1.3"/>
<path d="M359.3 677C358.22 678.5 355.05 682.33 352.8 686C350.55 689.67 348.05 694.5 345.8 699C343.55 703.5 341.18 708.33 339.3 713C337.42 717.67 335.78 720.83 334.5 727C333.22 733.17 332.72 743.67 331.6 750C330.48 756.33 329.6 760.42 327.8 765C326 769.58 323.63 774 320.8 777.5C317.97 781 314.47 783.75 310.8 786C307.13 788.25 302.47 789.8 298.8 791C295.13 792.2 290.47 792.83 288.8 793.2" stroke-width="1.3"/>
<path d="M274.4 793.6V787Q274.4 781.6 280.4 781.6Q286.4 781.6 286.4 787V793.6" stroke-width="1.5"/>
<path d="M277.4 793.6V787.5Q277.4 784.2 280.4 784.2Q283.4 784.2 283.4 787.5V793.6" stroke-width="1.3"/>
<path class="f" d="M221.4 725.2L223.3 726L211 793.6H208.2Z"/>
<path class="f" d="M338.6 721.8L340.4 721.2L352.9 793.6H350.2Z"/>
<path d="M332.4 748L343.2 793.6" stroke-width="1.4"/>
<path d="M329.5 738L332.4 748" stroke-width="1.2"/>
<path d="M241.25 726.4H320.5" stroke-width="1.8"/>
<path d="M244 726.4C239 735 239.5 748 247 756C256 765.5 268 767.6 280.4 767.6C293 767.6 305 765.5 314 756C321.5 748 322 735 317.5 726.4" stroke-width="1.6"/>
<path d="M251.8 726.4C253 746 264 759.6 280.6 759.6C297 759.6 308.5 746 309.7 726.4" stroke-width="1.6"/>
<path d="M192.6 793.65L368.7 793.65" stroke-width="1.8"/>
<path d="M217.2 793.65L215.7 865.4" stroke-width="1.4"/>
<path d="M343.6 793.65L345.1 865.4" stroke-width="1.4"/>
<path d="M190.6 868.4L196 864.6H365L370.6 868.4" stroke-width="1.4"/>
<path d="M194.5 866.4L366.5 866.4" stroke-width="2.2"/>
<path d="M190.6 868.4C193 869.33 200.77 872.32 205 874C209.23 875.68 213.17 877.17 216 878.5C218.83 879.83 220.3 881.02 222 882C223.7 882.98 225.5 884 226.2 884.4" stroke-width="1.4"/>
<path d="M370.2 868.4C367.8 869.33 360.03 872.32 355.8 874C351.57 875.68 347.63 877.17 344.8 878.5C341.97 879.83 340.5 881.02 338.8 882C337.1 882.98 335.3 884 334.6 884.4" stroke-width="1.4"/>
<path d="M196 865.5C196.5 866.08 198.08 868.28 199 869C199.92 869.72 199 868.97 201.5 869.8C204 870.63 210.25 872.38 214 874C217.75 875.62 221.17 877.77 224 879.5C226.83 881.23 229.83 883.58 231 884.4" stroke-width="1.2"/>
<path d="M364.8 865.5C364.3 866.08 362.72 868.28 361.8 869C360.88 869.72 361.8 868.97 359.3 869.8C356.8 870.63 350.55 872.38 346.8 874C343.05 875.62 339.63 877.77 336.8 879.5C333.97 881.23 330.97 883.58 329.8 884.4" stroke-width="1.2"/>
<path d="M220.2 867.4C221.67 868.58 225.67 872.15 229 874.5C232.33 876.85 237.2 879.33 240.2 881.5C243.2 883.67 245.12 885.25 247 887.5C248.88 889.75 250.28 892.42 251.5 895C252.72 897.58 253.51 899.25 254.3 903C255.09 906.75 255.93 915.08 256.25 917.5" stroke-width="1.6"/>
<path d="M340.6 867.4C339.13 868.58 335.13 872.15 331.8 874.5C328.47 876.85 323.6 879.33 320.6 881.5C317.6 883.67 315.68 885.25 313.8 887.5C311.92 889.75 310.52 892.42 309.3 895C308.08 897.58 307.29 899.25 306.5 903C305.71 906.75 304.87 915.08 304.55 917.5" stroke-width="1.6"/>
<path d="M256.25 917.5L306.25 917.5" stroke-width="1.6"/>
<rect x="248.3" y="871.4" width="65.2" height="9.2" rx="3" stroke-width="1.5"/>
<rect x="251.8" y="873.4" width="58.2" height="5.6" rx="1" stroke-width="1.3"/>
<path class="f" d="M335 882.2L345.5 876.3V882.2Z"/>
<rect x="188" y="884.5" width="185" height="66.75" rx="4" stroke-width="1.6" class="w"/>
<path d="M190.5 887.3L370.5 887.3" stroke-width="1.2"/>
<path d="M190.5 949.6L370.5 949.6" stroke-width="1.1"/>
<path d="M215.2 884.5L214.3 946L216.5 949.6" stroke-width="1.3"/>
<path d="M345.6 884.5L346.5 946L344.3 949.6" stroke-width="1.3"/>
<path d="M226.2 884.4L232 884.4" stroke-width="1.2"/>
<path d="M334.6 884.4L328.8 884.4" stroke-width="1.2"/>
<path class="w" d="M231 884.4L240.2 881.5L247 887.5L251.5 895L254.3 903L256.25 917.5L304.55 917.5L306.5 903L309.3 895L313.8 887.5L320.6 881.5L329.8 884.4Z" style="stroke:none"/>
<path d="M229 874.5C230.87 875.67 237.2 879.33 240.2 881.5C243.2 883.67 245.12 885.25 247 887.5C248.88 889.75 250.28 892.42 251.5 895C252.72 897.58 253.51 899.25 254.3 903C255.09 906.75 255.93 915.08 256.25 917.5" stroke-width="1.6"/>
<path d="M331.8 874.5C329.93 875.67 323.6 879.33 320.6 881.5C317.6 883.67 315.68 885.25 313.8 887.5C311.92 889.75 310.52 892.42 309.3 895C308.08 897.58 307.29 899.25 306.5 903C305.71 906.75 304.87 915.08 304.55 917.5" stroke-width="1.6"/>
<path d="M256.25 917.5L306.25 917.5" stroke-width="1.6"/>
<rect x="269.25" y="933" width="23.25" height="39" stroke-width="1.6" class="w"/>
<path d="M280.8 917.5L280.8 972" stroke-width="1.1"/>
<path d="M283.5 917.5L283.5 972" stroke-width="1.1"/>
<path d="M285.4 917.5L285.4 972" stroke-width="1.1"/>
<path d="M287.3 917.5L287.3 972" stroke-width="1.1"/>
<path d="M289 917.5L289 972" stroke-width="1.1"/>
<rect x="276" y="950" width="6.8" height="10.5" stroke-width="1.3" class="w"/>
<path d="M269.25 917.5L269.25 921" stroke-width="1.2"/>
<path d="M292.5 917.5L292.5 921" stroke-width="1.2"/>
<rect x="258.25" y="921.25" width="44.25" height="11.75" stroke-width="1.6" class="w"/>
<path d="M279.6 921.25L279.6 933" stroke-width="1.4"/>
<path d="M282.2 921.25L282.2 933" stroke-width="1.4"/>
<circle cx="265.4" cy="927.35" r="2" stroke-width="1.4"/>
<path d="M260.2 921.25L260.2 933" stroke-width="1"/>
<path d="M300.6 921.25L300.6 933" stroke-width="1"/>
<path d="M288 923.45A3 4 0 0 0 288 931.05" stroke-width="1.3"/>
<path d="M294.5 923.05A3.4 4.2 0 0 1 294.5 931.45Z" stroke-width="1.3"/>
<path d="M297.5 923.25L297.5 931.25" stroke-width="1.2"/>
<path d="M187.5 953.75L373.2 953.75" stroke-width="1.6"/>
<path d="M188.4 951.5L187.5 956L187.5 1002L188.6 1012L191.5 1021L194.5 1028.75L194.5 1130.5L193.6 1134.6L190 1137.5" stroke-width="1.6"/>
<path d="M372.4 951.5L373.3 956L373.3 1002L372.2 1012L369.3 1021L366.3 1028.75L366.3 1130.5L367.2 1134.6L370.8 1137.5" stroke-width="1.6"/>
<path d="M187.5 1002L373.2 1002" stroke-width="1.5"/>
<path d="M188.6 1012L372.2 1012" stroke-width="1.5"/>
<path d="M194.5 1028.75L366.3 1028.75" stroke-width="1.5"/>
<path d="M194.5 1130.5L366.3 1130.5" stroke-width="1.5"/>
<path d="M261.5 1130.5L260.5 1137.5M299.3 1130.5L300.3 1137.5" stroke-width="1.2"/>
<path d="M261.5 1131Q280 1133.4 299.3 1131" stroke-width="1"/>
<path d="M174.5 1137.5H386.75V1152.5H341.25L339.5 1150.75H220.5L218.75 1152.5H174.5Z" stroke-width="1.6"/>
<path d="M185.5 1137.5L185.5 1152.5" stroke-width="1.4"/>
<path d="M375.75 1137.5L375.75 1152.5" stroke-width="1.4"/>
<path class="w" d="M268.8 493H292.2V726.4H268.8Z" style="stroke:none"/>
<path d="M268.8 493L268.8 726.4" stroke-width="1.5"/>
<path d="M270.9 493L270.9 726.4" stroke-width="1.3"/>
<path d="M292.2 493L292.2 726.4" stroke-width="1.6"/>
<path d="M281.4 493L281.4 726.4" stroke-width="1"/>
<path d="M282.7 493L282.7 726.4" stroke-width="1"/>
<path d="M285.4 493L285.4 726.4" stroke-width="1"/>
<path d="M287.4 493L287.4 726.4" stroke-width="1"/>
<path d="M289 493L289 726.4" stroke-width="1"/>
<path d="M290.5 493L290.5 726.4" stroke-width="1"/>
<path d="M270.9 709.4Q276 706.8 281.4 705.8L292.2 703.1" stroke-width="2.8"/>
<path d="M270.9 686.9Q276 684.3 281.4 683.3L292.2 680.6" stroke-width="2.8"/>
<path d="M270.9 664.4Q276 661.8 281.4 660.8L292.2 658.1" stroke-width="2.8"/>
<path d="M270.9 641.9Q276 639.3 281.4 638.3L292.2 635.6" stroke-width="2.8"/>
<path d="M270.9 619.4Q276 616.8 281.4 615.8L292.2 613.1" stroke-width="2.8"/>
<path d="M270.9 596.9Q276 594.3 281.4 593.3L292.2 590.6" stroke-width="2.8"/>
<path d="M270.9 574.4Q276 571.8 281.4 570.8L292.2 568.1" stroke-width="2.8"/>
<path d="M270.9 551.9Q276 549.3 281.4 548.3L292.2 545.6" stroke-width="2.8"/>
<path d="M270.9 529.4Q276 526.8 281.4 525.8L292.2 523.1" stroke-width="2.8"/>
<path d="M270.9 506.9Q276 504.3 281.4 503.3L292.2 500.6" stroke-width="2.8"/>
<rect x="258.25" y="481.25" width="44.25" height="11.75" stroke-width="1.6" class="w"/>
<path d="M279.6 481.25L279.6 493" stroke-width="1.4"/>
<path d="M282.2 481.25L282.2 493" stroke-width="1.4"/>
<circle cx="265.4" cy="487.35" r="2" stroke-width="1.4"/>
<path d="M260.2 481.25L260.2 493" stroke-width="1"/>
<path d="M300.6 481.25L300.6 493" stroke-width="1"/>
<path d="M288 483.45A3 4 0 0 0 288 491.05" stroke-width="1.3"/>
<path d="M294.5 483.05A3.4 4.2 0 0 1 294.5 491.45Z" stroke-width="1.3"/>
<path d="M297.5 483.25L297.5 491.25" stroke-width="1.2"/>
</g>
<g id="v_side">
<path d="M513.75 481.25L630 481.25" stroke-width="1"/>
<path d="M513.75 972L768 972" stroke-width="1"/>
<path d="M524.5 481.25L524.5 972" stroke-width="1"/>
<path class="f" d="M524.5 481.25L526.5 497.25L522.5 497.25Z"/>
<path class="f" d="M524.5 972L522.5 956L526.5 956Z"/>
<text x="518.5" y="606" font-size="34" text-anchor="middle" transform="rotate(-90 518.5 606)">440</text>
<path d="M461 654L745 654" stroke-width="1"/>
<path d="M461.25 918.75L587.5 918.75" stroke-width="1"/>
<path d="M472.5 654L472.5 918.75" stroke-width="1"/>
<path class="f" d="M472.5 654L474.5 670L470.5 670Z"/>
<path class="f" d="M472.5 918.75L470.5 902.75L474.5 902.75Z"/>
<text x="466.5" y="775" font-size="34" text-anchor="middle" transform="rotate(-90 466.5 775)">237</text>
<path d="M472.5 918.75L472.5 1151.75" stroke-width="1"/>
<path class="f" d="M472.5 918.75L474.5 934.75L470.5 934.75Z"/>
<path class="f" d="M472.5 1151.75L470.5 1135.75L474.5 1135.75Z"/>
<text x="466.5" y="1033.75" font-size="34" text-anchor="middle" transform="rotate(-90 466.5 1033.75)">210</text>
<path d="M461.25 1151.75L1631.5 1151.75" stroke-width="1"/>
<path d="M757 972L757 1339.25" stroke-width="1"/>
<path class="f" d="M757 972L759 988L755 988Z"/>
<path class="f" d="M757 1339.25L755 1323.25L759 1323.25Z"/>
<text x="751" y="1096" font-size="34" text-anchor="middle" transform="rotate(-90 751 1096)">330</text>
<path d="M685.6 1151.75L685.6 1339.25" stroke-width="1"/>
<path class="f" d="M685.6 1151.75L687.6 1167.75L683.6 1167.75Z"/>
<path class="f" d="M685.6 1339.25L683.6 1323.25L687.6 1323.25Z"/>
<text x="679.6" y="1245" font-size="34" text-anchor="middle" transform="rotate(-90 679.6 1245)">168</text>
<path d="M597 1339.25L768 1339.25" stroke-width="1"/>
<path d="M597 1333L597 1339.25" stroke-width="1"/>
<path d="M619.5 1333L619.5 1339.25" stroke-width="1"/>
<path d="M1030 952L1030 1151.75" stroke-width="1"/>
<path class="f" d="M1030 952L1032 968L1028 968Z"/>
<path class="f" d="M1030 1151.75L1028 1135.75L1032 1135.75Z"/>
<text x="1024" y="1070" font-size="34" text-anchor="middle" transform="rotate(-90 1024 1070)">180</text>
<path d="M1152.75 1088.75L1152.75 1177.5" stroke-width="1"/>
<path d="M1141.5 1138.6L1186 1138.6" stroke-width="1"/>
<path class="f" d="M1152.75 1138.6L1150.75 1122.6L1154.75 1122.6Z"/>
<path class="f" d="M1152.75 1151.75L1154.75 1167.75L1150.75 1167.75Z"/>
<text x="1146.5" y="1105" font-size="34" text-anchor="middle" transform="rotate(-90 1146.5 1105)">12</text>
<path d="M1475 953.75L1583 953.75" stroke-width="1"/>
<path d="M1571.5 953.75L1571.5 1151.75" stroke-width="1"/>
<path class="f" d="M1571.5 953.75L1573.5 969.75L1569.5 969.75Z"/>
<path class="f" d="M1571.5 1151.75L1569.5 1135.75L1573.5 1135.75Z"/>
<text x="1565.5" y="1056" font-size="34" text-anchor="middle" transform="rotate(-90 1565.5 1056)">178.<tspan dx="8.5">5</tspan></text>
<path d="M1175 440L1632.5 440" stroke-width="1"/>
<path d="M1621.2 440L1621.2 1151.75" stroke-width="1"/>
<path class="f" d="M1621.2 440L1623.2 456L1619.2 456Z"/>
<path class="f" d="M1621.2 1151.75L1619.2 1135.75L1623.2 1135.75Z"/>
<text x="1615" y="796" font-size="34" text-anchor="middle" transform="rotate(-90 1615 796)">639</text>
<circle cx="608.75" cy="946.75" r="39.5" stroke-width="1.1"/>
<path d="M641.25 970.5L683.75 1012.5L705 1012.5" stroke-width="1"/>
<text x="695.2" y="1008.4" font-size="32" text-anchor="middle" textLength="15.5" lengthAdjust="spacingAndGlyphs">A</text>
<rect x="1186" y="1138" width="289.25" height="13.75" stroke-width="1.6"/>
<path d="M1197 1138L1197 1151.75" stroke-width="1.3"/>
<path d="M1464.5 1138L1464.5 1151.75" stroke-width="1.3"/>
<path d="M1198 1139.6L1222 1139.6" stroke-width="1"/>
<path d="M1376 1139.6L1400 1139.6" stroke-width="1"/>
<path d="M1186 1138Q1190.25 1137 1190.25 1131.25V1028.75" stroke-width="1.6"/>
<path d="M1190.25 1131.25L1475.25 1131.25" stroke-width="1.5"/>
<path d="M1190.25 1131.25L1192.5 1138" stroke-width="1.1"/>
<path d="M1190.25 1028.75L1316.5 1028.75" stroke-width="1.5"/>
<path d="M1184 1002V958.5Q1184 953.75 1189 953.75H1475.25" stroke-width="1.6"/>
<path d="M1184 1002Q1184.6 1012 1187.4 1020Q1189.6 1025 1190.25 1028.75" stroke-width="1.6"/>
<path d="M1184 1002L1322 1002" stroke-width="1.5"/>
<path d="M1185 1012H1316.5" stroke-width="1.5"/>
<path d="M1327 953.75V996Q1327 1002 1321 1002" stroke-width="1.5"/>
<path d="M1364 953.75V1012Q1363 1024 1350.25 1033.75" stroke-width="1.5"/>
<path d="M1327 1002H1364" stroke-width="1.3"/>
<path d="M1316.5 1012Q1322 1012 1327 1008" stroke-width="1.3"/>
<path d="M1316.5 1012L1321 1022L1350.25 1033.75" stroke-width="1.4"/>
<path d="M1316.5 1012L1314.6 1020L1317.25 1029L1340 1033L1350.25 1033.75" stroke-width="1.4"/>
<path d="M1317.25 1029V1131Q1317.5 1137.5 1322 1138" stroke-width="1.5"/>
<path d="M1350.25 1033.75L1350.25 1138" stroke-width="1.5"/>
<path d="M1475.25 953.75L1475.25 1151.75" stroke-width="1.6"/>
<path d="M1477.4 956L1477.4 1148" stroke-width="1.2"/>
<rect x="1477.4" y="976" width="7.6" height="12" stroke-width="1.3"/>
<rect x="1485" y="977.5" width="3.8" height="9" rx="1.2" stroke-width="1.3"/>
<circle class="f" cx="1481.3" cy="982" r="2.4"/>
<rect x="1477.4" y="969" width="3" height="5" stroke-width="1"/>
<rect x="1477.4" y="990" width="3" height="5" stroke-width="1"/>
<rect x="1477.4" y="1007.5" width="7.6" height="12" stroke-width="1.3"/>
<rect x="1485" y="1009" width="3.8" height="9" rx="1.2" stroke-width="1.3"/>
<circle class="f" cx="1481.3" cy="1013.5" r="2.4"/>
<rect x="1477.4" y="1000.5" width="3" height="5" stroke-width="1"/>
<rect x="1477.4" y="1021.5" width="3" height="5" stroke-width="1"/>
<rect x="1477.4" y="1038.5" width="7.6" height="12" stroke-width="1.3"/>
<rect x="1485" y="1040" width="3.8" height="9" rx="1.2" stroke-width="1.3"/>
<circle class="f" cx="1481.3" cy="1044.5" r="2.4"/>
<rect x="1477.4" y="1031.5" width="3" height="5" stroke-width="1"/>
<rect x="1477.4" y="1052.5" width="3" height="5" stroke-width="1"/>
<path d="M1477.4 1065H1492Q1498.5 1070 1498.5 1078V1099Q1498.5 1107 1492 1112.5H1477.4" stroke-width="1.4"/>
<path d="M1491.5 1065L1491.5 1112.5" stroke-width="1.2"/>
<path d="M1477.4 1075L1491.5 1075" stroke-width="1.2"/>
<path d="M1477.4 1102L1491.5 1102" stroke-width="1.2"/>
<rect x="1477.4" y="1106" width="3.6" height="16" stroke-width="1.1"/>
<rect x="1477.4" y="1128" width="3.6" height="10" stroke-width="1.1"/>
<path class="w" d="M853 885.5H1364Q1369 885.5 1369 890.5V945.5Q1369 950.5 1364 950.5H856Q848.6 952 848 944L849.3 890.5Q849.5 885.5 853 885.5Z" stroke-width="1.6"/>
<path d="M909.5 885.5L909.5 951" stroke-width="1.5"/>
<path d="M1270.25 886.5L1270.25 950.5" stroke-width="1.5"/>
<path d="M856 952L1100 952" stroke-width="1.3"/>
<path d="M968 884L1244 884" stroke-width="1.2"/>
<path d="M1244 884L1247 886.3H1364" stroke-width="1.2"/>
<path d="M1259 884.4q1.5 -2 3 0M1308 884.4q1.5 -2 3 0" stroke-width="1.2"/>
<rect x="1273.5" y="948" width="6" height="10" stroke-width="1.1"/>
<path d="M1193 952.3L1363 952.3" stroke-width="1"/>
<path d="M914.81 605.48L897.03 604.54L897.22 601.36L914.98 602.48ZM915.55 595.49L897.84 593.65L898.21 590.59L915.85 592.99ZM917.02 586.06L899.54 582.69L900.24 579.26L917.62 583.11ZM919.38 576.29L902.34 571.13L903.31 568.12L920.15 573.9ZM922.92 566.88L906.62 559.73L907.88 556.97L923.97 564.6ZM927.28 558.38L912 549.25L913.9 546.19L928.87 555.82ZM932.92 550.06L918.81 539.22L920.66 536.87L934.48 548.08ZM939.04 542.74L925.76 530.88L927.94 528.48L941.05 540.51ZM946.55 536.05L959.75 547.99L961.62 545.89L948.22 534.18ZM952.38 527.85L939.03 516.07L940.93 513.95L954.05 525.98ZM958.97 520.95L946.78 507.99L949.51 505.5L961.2 518.92ZM966.7 514.52L956.18 500.16L958.82 498.29L968.75 513.06ZM974.65 509.25L965.28 494.12L968.15 492.38L977.22 507.69ZM983.29 504.18L974.61 488.65L976.91 487.37L985.48 502.97ZM992.1 499.42L983.85 483.65L986.17 482.45L994.32 498.27ZM1000.59 495.12L992.71 479.16L995.51 477.79L1003.29 493.8ZM1009.62 490.81L1002.13 474.67L1004.62 473.53L1011.9 489.77ZM1018.32 486.96L1011.41 470.56L1014.31 469.34L1021.1 485.8ZM1027.62 483.22L1021.21 466.61L1023.79 465.63L1029.96 482.33ZM1037.03 479.79L1031.19 462.98L1033.66 462.13L1039.4 478.98ZM1046.06 476.79L1040.69 459.82L1043.64 458.89L1048.92 475.89ZM1055.63 473.87L1050.59 456.79L1053.13 456.05L1058.03 473.17ZM1064.78 471.27L1060.1 454.1L1063.12 453.29L1067.68 470.49ZM1074.48 468.8L1070.38 451.48L1072.91 450.88L1076.92 468.23ZM1084.26 466.61L1080.62 449.19L1083.16 448.66L1086.71 466.11ZM1093.59 464.76L1090.35 447.26L1093.38 446.7L1096.54 464.22ZM1103.44 463.03L1100.56 445.47L1103.1 445.05L1105.91 462.63ZM1112.85 461.6L1110.5 443.95L1113.85 443.54L1115.84 461.23ZM1122.82 460.56L1121.37 442.82L1123.97 442.61L1125.32 460.36ZM1132.81 459.89L1131.85 442.12L1134.43 441.99L1135.31 459.76ZM1142.3 459.42L1141.37 441.64L1145.4 441.45L1145.32 459.25ZM1152.34 459.35L1152.86 441.56L1155.51 441.64L1154.84 459.43ZM1161.84 459.76L1162.95 441.99L1166.09 442.2L1164.84 459.96ZM1171.83 460.54L1173.51 442.82L1176.14 443.08L1174.32 460.78ZM1181.78 461.66L1184.03 444L1186.65 444.35L1184.26 461.99ZM1191.2 463.04L1194 445.46L1197.23 446L1194.16 463.54ZM1201.06 464.82L1204.53 447.36L1207.12 447.88L1203.51 465.31ZM1210.36 466.81L1214.37 449.46L1217.42 450.18L1213.28 467.49ZM1220.08 469.21L1224.61 452L1227.15 452.68L1222.5 469.86ZM1229.72 471.93L1234.88 454.89L1237.4 455.66L1232.12 472.65ZM1238.8 474.79L1244.45 457.91L1247.42 458.91L1241.64 475.75ZM1248.25 478.09L1254.39 461.39L1256.86 462.3L1250.6 478.96ZM1257.13 481.5L1263.75 464.97L1266.65 466.15L1259.92 482.63ZM1266.37 485.36L1273.45 469.03L1275.86 470.09L1268.66 486.37ZM1275.49 489.51L1283.14 473.43L1285.51 474.57L1277.75 490.59ZM1284.03 493.7L1292.12 477.84L1294.9 479.27L1286.7 495.07ZM1292.89 498.37L1301.41 482.74L1303.71 484.01L1295.08 499.58ZM1301.17 503.05L1310.13 487.66L1312.82 489.24L1303.76 504.57ZM1309.75 508.22L1319.22 493.15L1321.44 494.55L1311.87 509.55ZM1318.17 513.65L1328.05 498.84L1330.23 500.3L1320.24 515.04ZM1326.01 519.03L1336.29 504.5L1338.83 506.32L1328.45 520.78ZM1334.1 524.93L1344.77 510.69L1346.86 512.28L1336.09 526.45ZM1341.62 530.76L1352.68 516.82L1355.21 518.86L1343.96 532.65ZM1349.35 537.13L1360.88 523.58L1362.88 525.28L1351.25 538.76ZM1356.88 543.73L1368.79 530.5L1370.73 532.26L1358.73 545.41ZM1363.85 550.2L1376.12 537.31L1378.46 539.57L1366.01 552.29ZM1370.98 557.24L1383.7 544.79L1385.53 546.67L1372.73 559.03ZM1377.54 564.13L1390.61 552.04L1392.73 554.35L1379.57 566.34ZM1384.23 571.59L1397.64 559.88L1399.44 561.98L1385.86 573.49ZM1390.67 579.26L1404.5 568.05L1406.15 570.1L1392.24 581.21ZM1396.55 586.74L1410.7 575.95L1412.59 578.45L1398.36 589.14ZM1402.48 594.81L1417.03 584.56L1418.55 586.72L1403.92 596.86ZM1407.86 602.66L1422.72 592.86L1424.44 595.49L1409.5 605.18ZM1413.23 611.11L1428.39 601.78L1429.84 604.17L1414.53 613.26ZM1418.3 619.75L1433.82 611.04L1435.11 613.35L1419.52 621.94ZM1422.82 628.13L1438.62 619.92L1440.12 622.86L1424.19 630.81ZM1427.25 637.12L1443.38 629.57L1444.49 631.98L1428.31 639.39ZM1431.14 645.8L1447.51 638.81L1448.79 641.87L1432.3 648.58ZM1434.88 655.1L1451.54 648.83L1452.46 651.32L1435.75 657.45ZM1438.23 664.54L1455.1 658.86L1455.98 661.55L1439.01 666.92ZM1441.06 673.63L1458.17 668.73L1459.03 671.78L1441.87 676.52ZM1443.63 683.31L1460.91 679.05L1461.57 681.82L1444.21 685.76ZM1445.68 692.61L1463.15 689.17L1463.74 692.29L1446.25 695.56ZM1447.42 702.48L1465 699.72L1465.41 702.55L1447.78 704.96ZM1448.7 712.42L1466.4 710.53L1466.67 713.2L1448.95 714.91ZM1449.5 721.91L1467.26 720.73L1467.44 724.09L1449.66 724.91ZM1449.87 731.92L1467.67 731.65L1467.7 734.34L1449.9 734.43Z" style="fill:#4a4a4a;stroke:none"/>
<path d="M1431.1 741.43L1431.1 746.93L1467.7 746.93L1467.7 741.43ZM1431.1 751.43L1431.1 756.43L1467.7 756.43L1467.7 751.43ZM1431.1 761.43L1431.1 766.43L1467.7 766.43L1467.7 761.43ZM1431.1 770.93L1431.1 776.43L1467.7 776.43L1467.7 770.93ZM1431.1 780.93L1431.1 785.93L1467.7 785.93L1467.7 780.93ZM1431.1 790.43L1431.1 795.93L1467.7 795.93L1467.7 790.43ZM1431.1 800.43L1431.1 805.43L1467.7 805.43L1467.7 800.43ZM1431.1 810.43L1431.1 815.43L1467.7 815.43L1467.7 810.43ZM1431.1 819.93L1431.1 825.43L1467.7 825.43L1467.7 819.93ZM1431.1 829.93L1431.1 834.93L1467.7 834.93L1467.7 829.93ZM1431.1 839.43L1431.1 844.93L1467.7 844.93L1467.7 839.43ZM1431.1 849.43L1431.1 854.43L1467.7 854.43L1467.7 849.43ZM1431.1 859.43L1431.1 864.43L1467.7 864.43L1467.7 859.43ZM1431.1 868.93L1431.1 874.43L1467.7 874.43L1467.7 868.93ZM1431.1 878.93L1431.1 883.93L1467.7 883.93L1467.7 878.93Z" style="fill:#606060;stroke:none"/>
<path d="M935.03 611.18L935.28 606.57L895.34 604.44L895.1 608.83ZM933.74 603.67L897.22 601.36M935.6 601.44L935.94 597.6L896.15 593.47L895.7 598.6ZM934.48 595.52L898.21 590.59M936.47 593.8L937.15 589.93L897.87 582.37L896.99 587.37ZM935.98 587.17L900.24 579.26M938.08 585.59L939 582.24L900.72 570.64L899.26 575.96ZM937.94 579.99L903.31 568.12M940.19 578.78L941.69 575.12L905.06 559.05L902.77 564.64ZM940.95 572.65L907.88 556.97M943.33 571.7L944.88 568.9L910.54 548.38L907.73 553.45ZM944.68 565.99L913.9 546.19M947.14 565.36L949.18 562.55L917.46 538.18L914.21 542.65ZM949.07 559.93L920.66 536.87M951.78 559.32L954.32 556.4L924.49 529.75L921.13 533.62ZM954.91 553.22L927.94 528.48M957.77 552.63L961.02 549.13L931.34 522.31L928.47 525.4ZM961.62 545.89L934.06 521.81M964.63 545L967.74 541.42L937.76 514.94L934.32 518.91ZM967.91 538.68L940.93 513.95M970.52 538.38L973.02 535.89L945.61 506.75L941.73 510.61ZM973.55 533.09L949.51 505.5M976.27 533.02L978.82 531.05L955.17 498.79L950.6 502.33ZM979.24 528.66L958.82 498.29M982.04 528.84L985.44 526.68L964.38 492.67L960.19 495.34ZM986.8 523.87L968.15 492.38M989.67 524.15L993.3 522.08L973.78 487.16L969.59 489.55ZM994.54 519.45L976.91 487.37M997.43 519.81L1001.61 517.58L983.06 482.15L978.41 484.61ZM1002.94 514.98L986.17 482.45M1005.84 515.41L1009.65 513.51L991.96 477.63L987.72 479.75ZM1011.5 510.71L995.51 477.79M1014.28 511.27L1018.25 509.41L1001.42 473.12L997.23 475.08ZM1019.6 506.93L1004.62 473.53M1022.46 507.51L1026.29 505.85L1010.75 468.99L1006.32 470.91ZM1028.26 503.18L1014.31 469.34M1031.08 503.87L1034.99 502.34L1020.6 465.02L1016.13 466.77ZM1036.48 499.97L1023.79 465.63M1039.28 500.74L1043.75 499.16L1030.63 461.37L1025.68 463.13ZM1045.46 496.78L1033.66 462.13M1048.26 497.63L1052.23 496.34L1040.18 458.2L1035.59 459.69ZM1054.49 493.85L1043.64 458.89M1057.3 494.76L1061.43 493.53L1050.11 455.16L1045.62 456.51ZM1063.21 491.24L1053.13 456.05M1066.01 492.21L1070.17 491.05L1059.65 452.46L1055.14 453.71ZM1072.49 488.67L1063.12 453.29M1075.09 489.76L1079.21 488.74L1069.98 449.82L1065.37 450.95ZM1081.15 486.54L1072.91 450.88M1083.86 487.67L1088.44 486.68L1080.28 447.52L1075.08 448.65ZM1090.45 484.53L1083.16 448.66M1093.15 485.72L1097.31 484.92L1090.04 445.59L1085.36 446.49ZM1099.88 482.72L1093.38 446.7M1102.56 483.97L1106.77 483.26L1100.29 443.79L1095.62 444.58ZM1108.89 481.19L1103.1 445.05M1111.49 482.51L1115.55 481.92L1110.28 442.27L1105.44 442.97ZM1117.94 479.91L1113.85 443.54M1120.44 481.36L1124.49 480.99L1121.23 441.12L1116.32 441.57ZM1126.73 479.11L1123.97 442.61M1129.15 480.65L1133.92 480.36L1131.75 440.42L1126.54 440.73ZM1136.25 478.54L1134.43 441.99M1138.79 480.12L1143.37 479.89L1141.29 439.95L1136.88 440.16ZM1145.25 478.05L1145.4 441.45M1147.57 479.76L1151.74 479.84L1152.91 439.86L1148.07 439.77ZM1154.13 478.21L1155.51 441.64M1156.4 480L1160.57 480.22L1163.05 440.3L1158.23 440.05ZM1163.52 478.71L1166.09 442.2M1165.73 480.58L1169.89 480.94L1173.67 441.12L1168.87 440.7ZM1172.39 479.49L1176.14 443.08M1174.55 481.43L1179.19 481.99L1184.24 442.31L1178.96 441.67ZM1181.74 480.62L1186.65 444.35M1183.68 482.62L1187.97 483.28L1194.26 443.78L1189.66 443.07ZM1190.92 482.05L1197.23 446M1192.93 484.14L1197.05 484.92L1204.87 445.69L1200.14 444.8ZM1199.7 483.72L1207.12 447.88M1201.65 485.87L1205.74 486.78L1214.75 447.81L1210.06 446.76ZM1208.91 485.78L1217.42 450.18M1210.8 487.99L1214.87 489.04L1225.04 450.35L1220.39 449.16ZM1217.58 488.01L1227.15 452.68M1219.4 490.28L1223.78 491.55L1235.38 453.26L1230.15 451.75ZM1226.54 490.61L1237.4 455.66M1228.28 492.93L1232.28 494.23L1244.99 456.3L1240.44 454.82ZM1235.54 493.53L1247.42 458.91M1237.22 495.91L1241.18 497.33L1254.98 459.79L1250.47 458.17ZM1243.99 496.56L1256.86 462.3M1245.59 498.99L1249.52 500.53L1264.38 463.4L1259.92 461.65ZM1252.81 500.03L1266.65 466.15M1254.34 502.51L1258.22 504.17L1274.13 467.47L1269.73 465.59ZM1261.07 503.57L1275.86 470.09M1262.4 506.04L1266.69 508.02L1283.87 471.9L1279.08 469.68ZM1269.56 507.51L1285.51 474.57M1270.94 510.07L1274.72 511.96L1292.89 476.33L1288.62 474.19ZM1278.04 511.76L1294.9 479.27M1279.35 514.36L1283.07 516.36L1302.23 481.25L1298.02 478.99ZM1285.97 516.02L1303.71 484.01M1287.2 518.66L1290.87 520.77L1310.98 486.19L1306.84 483.81ZM1294.2 520.75L1312.82 489.24M1295.24 523.36L1298.84 525.58L1320.13 491.71L1316.06 489.21ZM1301.76 525.4L1321.44 494.55M1302.83 528.11L1306.79 530.7L1328.99 497.43L1324.58 494.54ZM1309.7 530.61L1330.23 500.3M1310.7 533.35L1314.17 535.77L1337.27 503.11L1333.36 500.38ZM1317.49 536.05L1338.83 506.32M1318.41 538.82L1321.8 541.34L1345.79 509.33L1341.96 506.49ZM1324.71 541.41L1346.86 512.28M1325.45 544.13L1328.88 546.83L1353.73 515.49L1350.09 512.62ZM1332.07 547.22L1355.21 518.86M1332.82 550.03L1336.06 552.75L1361.98 522.28L1358.32 519.21ZM1338.97 552.99L1362.88 525.28M1339.64 555.83L1343.17 558.97L1369.93 529.23L1365.98 525.73ZM1346.06 559.3L1370.73 532.26M1346.65 562.16L1349.72 565.05L1377.29 536.08L1373.82 532.8ZM1352.86 565.73L1378.46 539.57M1353.36 568.6L1356.33 571.58L1384.91 543.6L1381.54 540.21ZM1359.2 572.09L1385.53 546.67M1359.61 574.97L1362.49 578.05L1391.86 550.89L1388.58 547.4ZM1365.68 579.01L1392.73 554.35M1366 581.9L1368.78 585.07L1398.92 558.76L1395.75 555.17ZM1371.52 585.64L1399.44 561.98M1371.74 588.54L1374.74 592.17L1405.82 566.98L1402.45 562.9ZM1377.54 592.94L1406.15 570.1M1377.68 595.84L1380.25 599.17L1412.06 574.92L1409.12 571.12ZM1383.32 600.42L1412.59 578.45M1383.27 603.21L1385.72 606.62L1418.42 583.58L1415.62 579.68ZM1388.47 607.57L1418.55 586.72M1388.4 610.47L1390.74 613.95L1424.14 591.93L1421.45 587.94ZM1393.72 615.4L1424.44 595.49M1393.56 618.3L1395.77 621.86L1429.84 600.89L1427.29 596.81ZM1398.36 622.86L1429.84 604.17M1398.1 625.74L1400.43 629.79L1435.3 610.21L1432.65 605.59ZM1403.05 631.02L1435.11 613.35M1402.68 633.89L1404.63 637.58L1440.12 619.14L1437.87 614.87ZM1407.36 639.2L1440.12 622.86M1406.88 642.05L1408.68 645.8L1444.92 628.85L1442.82 624.49ZM1411.21 647.21L1444.49 631.98M1410.62 650.04L1412.29 653.85L1449.07 638.15L1447.14 633.71ZM1414.89 655.66L1448.79 641.87M1414.18 658.46L1415.69 662.32L1453.13 648.23L1451.37 643.71ZM1418.1 663.91L1452.46 651.32M1417.29 666.68L1418.8 671.07L1456.72 658.32L1454.97 653.26ZM1421.09 672.59L1455.98 661.55M1420.16 675.32L1421.35 679.28L1459.8 668.26L1458.41 663.6ZM1423.75 681.53L1459.03 671.78M1422.71 684.22L1423.73 688.22L1462.56 678.64L1461.37 673.92ZM1425.87 689.91L1461.57 681.82M1424.72 692.54L1425.57 696.57L1464.81 688.85L1463.82 684.07ZM1427.77 699.02L1463.74 692.29M1426.5 701.6L1427.16 705.66L1466.68 699.46L1465.89 694.63ZM1429.15 707.51L1465.41 702.55M1427.78 710.03L1428.31 714.6L1468.09 710.35L1467.46 704.99ZM1430.24 716.72L1466.67 713.2M1428.75 719.18L1429.04 723.27L1468.95 720.61L1468.6 715.73ZM1430.88 725.78L1467.44 724.09M1429.27 728.15L1429.38 732.24L1469.37 731.62L1469.25 726.72ZM1431.1 734.53L1467.7 734.34M1429.4 736.93L1429.4 741.43L1469.4 741.43L1469.4 736.93ZM1431.1 744.43L1467.7 744.43M1429.4 746.93L1429.4 751.43L1469.4 751.43L1469.4 746.93ZM1431.1 753.93L1467.7 753.93M1429.4 756.43L1429.4 761.43L1469.4 761.43L1469.4 756.43ZM1431.1 763.93L1467.7 763.93M1429.4 766.43L1429.4 770.93L1469.4 770.93L1469.4 766.43ZM1431.1 773.93L1467.7 773.93M1429.4 776.43L1429.4 780.93L1469.4 780.93L1469.4 776.43ZM1431.1 783.43L1467.7 783.43M1429.4 785.93L1429.4 790.43L1469.4 790.43L1469.4 785.93ZM1431.1 793.43L1467.7 793.43M1429.4 795.93L1429.4 800.43L1469.4 800.43L1469.4 795.93ZM1431.1 802.93L1467.7 802.93M1429.4 805.43L1429.4 810.43L1469.4 810.43L1469.4 805.43ZM1431.1 812.93L1467.7 812.93M1429.4 815.43L1429.4 819.93L1469.4 819.93L1469.4 815.43ZM1431.1 822.93L1467.7 822.93M1429.4 825.43L1429.4 829.93L1469.4 829.93L1469.4 825.43ZM1431.1 832.43L1467.7 832.43M1429.4 834.93L1429.4 839.43L1469.4 839.43L1469.4 834.93ZM1431.1 842.43L1467.7 842.43M1429.4 844.93L1429.4 849.43L1469.4 849.43L1469.4 844.93ZM1431.1 851.93L1467.7 851.93M1429.4 854.43L1429.4 859.43L1469.4 859.43L1469.4 854.43ZM1431.1 861.93L1467.7 861.93M1429.4 864.43L1429.4 868.93L1469.4 868.93L1469.4 864.43ZM1431.1 871.93L1467.7 871.93M1429.4 874.43L1429.4 878.93L1469.4 878.93L1469.4 874.43ZM1431.1 881.43L1467.7 881.43M1429.4 883.93L1429.4 888.43L1469.4 888.43L1469.4 883.93Z" stroke-width="1.25"/>
<path d="M933.58 606.48L933.9 601.32M897.03 604.54L897.39 598.72M934.25 597.42L934.79 593.53M897.84 593.65L898.67 587.64M935.48 589.61L936.43 585.18M899.54 582.69L900.91 576.37M937.37 581.75L938.6 578.18M902.34 571.13L904.36 565.24M940.13 574.44L941.82 570.92M906.62 559.73L909.25 554.23M943.42 568.02L945.74 564.4M912 549.25L915.61 543.61M947.83 561.51L950.48 558.23M918.81 539.22L922.43 534.71M953.05 555.27L956.52 551.47M925.76 530.88L929.71 526.56M959.75 547.99L963.35 543.89M932.6 523.45L935.6 520.02M966.47 540.29L969.3 537.2M939.03 516.07L942.96 511.79M971.85 534.65L975.18 531.71M946.78 507.99L951.7 503.64M977.81 529.68L981.11 527.42M956.18 500.16L961.11 496.76M984.55 525.24L988.82 522.68M965.28 494.12L970.45 491.02M992.47 520.59L996.62 518.31M974.61 488.65L979.22 486.11M1000.82 516.08L1005.07 513.89M983.85 483.65L988.49 481.26M1008.9 511.98L1013.56 509.73M992.71 479.16L997.96 476.62M1017.54 507.87L1021.77 505.95M1002.13 474.67L1007.01 472.46M1025.63 504.28L1030.45 502.3M1011.41 470.56L1016.76 468.35M1034.38 500.76L1038.71 499.15M1021.21 466.61L1026.26 464.73M1043.2 497.55L1047.72 496.02M1031.19 462.98L1036.13 461.3M1051.72 494.72L1056.8 493.14M1040.69 459.82L1046.12 458.13M1060.95 491.9L1065.55 490.57M1050.59 456.79L1055.6 455.35M1069.72 489.41L1074.67 488.11M1060.1 454.1L1065.78 452.6M1078.82 487.09L1083.49 486.01M1070.38 451.48L1075.45 450.31M1088.09 485.02L1092.82 484.05M1080.62 449.19L1085.69 448.15M1097 483.25L1102.26 482.3M1090.35 447.26L1095.91 446.25M1106.49 481.58L1111.23 480.82M1100.56 445.47L1105.69 444.65M1115.33 480.23L1120.27 479.67M1110.5 443.95L1116.49 443.26M1124.35 479.3L1129.04 478.95M1121.37 442.82L1126.65 442.43M1133.83 478.67L1138.71 478.42M1131.85 442.12L1136.96 441.86M1143.28 478.19L1147.59 478.06M1141.37 441.64L1148.05 441.47M1151.79 478.14L1156.48 478.31M1152.86 441.56L1158.15 441.74M1160.68 478.52L1165.86 478.89M1162.95 441.99L1168.73 442.4M1170.05 479.25L1174.73 479.74M1173.51 442.82L1178.77 443.36M1179.41 480.31L1183.93 480.93M1184.03 444L1189.41 444.75M1188.24 481.6L1193.24 482.47M1194 445.46L1199.84 446.47M1197.38 483.25L1202.01 484.21M1204.53 447.36L1209.7 448.43M1206.13 485.12L1211.21 486.34M1214.37 449.46L1219.98 450.81M1215.3 487.39L1219.86 488.64M1224.61 452L1229.69 453.38M1224.27 489.92L1228.8 491.31M1234.88 454.89L1239.92 456.44M1232.82 492.61L1237.78 494.31M1244.45 457.91L1249.91 459.78M1241.77 495.74L1246.2 497.41M1254.39 461.39L1259.32 463.24M1250.15 498.95L1255 500.94M1263.75 464.97L1269.08 467.16M1258.9 502.61L1263.11 504.49M1273.45 469.03L1278.37 471.22M1267.42 506.49L1271.69 508.55M1283.14 473.43L1287.87 475.72M1275.49 510.44L1280.15 512.86M1292.12 477.84L1297.23 480.49M1283.89 514.87L1288.04 517.18M1301.41 482.74L1306.01 485.29M1291.72 519.3L1296.13 521.91M1310.13 487.66L1315.18 490.66M1299.75 524.14L1303.76 526.68M1319.22 493.15L1323.66 495.96M1307.73 529.29L1311.66 531.95M1328.05 498.84L1332.39 501.78M1315.15 534.38L1319.41 537.44M1336.29 504.5L1340.96 507.86M1322.82 539.98L1326.5 542.79M1344.77 510.69L1349.04 513.96M1329.93 545.49L1333.91 548.72M1352.68 516.82L1357.24 520.52M1337.16 551.45L1340.76 554.55M1360.88 523.58L1364.86 527.01M1344.31 557.7L1347.8 560.91M1368.79 530.5L1372.66 534.05M1350.89 563.82L1354.55 567.39M1376.12 537.31L1380.34 541.42M1357.55 570.39L1360.84 573.8M1383.7 544.79L1387.35 548.57M1363.74 576.89L1367.27 580.77M1390.61 552.04L1394.49 556.3M1370.06 583.95L1373.05 587.45M1397.64 559.88L1401.14 563.99M1376.06 591.1L1379.01 594.79M1404.5 568.05L1407.78 572.17M1381.6 598.14L1384.64 602.21M1410.7 575.95L1414.24 580.68M1387.11 605.64L1389.81 609.51M1417.03 584.56L1420.05 588.89M1392.16 613.01L1394.99 617.39M1422.72 592.86L1425.86 597.72M1397.22 620.96L1399.56 624.88M1428.39 601.78L1431.18 606.45M1401.91 628.96L1404.18 633.08M1433.82 611.04L1436.37 615.68M1406.14 636.8L1408.41 641.3M1438.62 619.92L1441.3 625.24M1410.22 645.08L1412.18 649.35M1443.38 629.57L1445.59 634.4M1413.85 653.18L1415.77 657.83M1447.51 638.81L1449.79 644.34M1417.28 661.72L1418.89 666.11M1451.54 648.83L1453.37 653.83M1420.41 670.53L1421.79 674.82M1455.1 658.86L1456.78 664.1M1422.98 678.81L1424.36 683.78M1458.17 668.73L1459.72 674.36M1425.38 687.82L1426.38 692.18M1460.91 679.05L1462.15 684.43M1427.23 696.24L1428.18 701.3M1463.15 689.17L1464.22 694.93M1428.84 705.4L1429.46 709.81M1465 699.72L1465.77 705.2M1430 714.42L1430.44 719.03M1466.4 710.53L1466.9 715.87M1430.74 723.15L1430.97 728.09M1467.26 720.73L1467.55 726.78M1431.08 732.21L1431.1 736.93M1467.67 731.65L1467.7 736.93M1431.1 741.43L1431.1 746.93M1467.7 741.43L1467.7 746.93M1431.1 751.43L1431.1 756.43M1467.7 751.43L1467.7 756.43M1431.1 761.43L1431.1 766.43M1467.7 761.43L1467.7 766.43M1431.1 770.93L1431.1 776.43M1467.7 770.93L1467.7 776.43M1431.1 780.93L1431.1 785.93M1467.7 780.93L1467.7 785.93M1431.1 790.43L1431.1 795.93M1467.7 790.43L1467.7 795.93M1431.1 800.43L1431.1 805.43M1467.7 800.43L1467.7 805.43M1431.1 810.43L1431.1 815.43M1467.7 810.43L1467.7 815.43M1431.1 819.93L1431.1 825.43M1467.7 819.93L1467.7 825.43M1431.1 829.93L1431.1 834.93M1467.7 829.93L1467.7 834.93M1431.1 839.43L1431.1 844.93M1467.7 839.43L1467.7 844.93M1431.1 849.43L1431.1 854.43M1467.7 849.43L1467.7 854.43M1431.1 859.43L1431.1 864.43M1467.7 859.43L1467.7 864.43M1431.1 868.93L1431.1 874.43M1467.7 868.93L1467.7 874.43M1431.1 878.93L1431.1 883.93M1467.7 878.93L1467.7 883.93" stroke-width="1.25"/>
<rect x="890.25" y="611.25" width="49.15" height="26.25" stroke-width="1.8" class="w"/>
<rect x="893.65" y="618.05" width="42.55" height="13.95" stroke-width="1.8"/>
<path d="M890.25 636.3L939.4 636.3" stroke-width="1.2"/>
<rect x="891.85" y="637.5" width="46.15" height="16.5" stroke-width="1.4" class="w"/>
<path d="M891.85 640.6L938 640.6" stroke-width="1.2"/>
<path d="M899.34 640.6L899.34 654" stroke-width="1.3"/>
<path d="M907.94 640.6L907.94 654" stroke-width="1.3"/>
<path d="M921.71 640.6L921.71 654" stroke-width="1.3"/>
<path d="M930.55 640.6L930.55 654" stroke-width="1.3"/>
<rect x="1424.5" y="890.75" width="49.5" height="28" stroke-width="1.8" class="w"/>
<rect x="1427.9" y="897.55" width="42.9" height="15.7" stroke-width="1.8"/>
<path d="M1424.5 917.55L1474 917.55" stroke-width="1.2"/>
<rect x="1426.1" y="918.75" width="46.5" height="18.75" stroke-width="1.4" class="w"/>
<path d="M1426.1 921.85L1472.6 921.85" stroke-width="1.2"/>
<path d="M1433.66 921.85L1433.66 937.5" stroke-width="1.3"/>
<path d="M1442.32 921.85L1442.32 937.5" stroke-width="1.3"/>
<path d="M1456.18 921.85L1456.18 937.5" stroke-width="1.3"/>
<path d="M1465.09 921.85L1465.09 937.5" stroke-width="1.3"/>
<rect x="1415.25" y="937.5" width="58.75" height="16.25" stroke-width="1.6" class="w"/>
<rect x="1417.5" y="939.8" width="19" height="13.95" stroke-width="1.3"/>
<path d="M1440 937.5L1440 953.75" stroke-width="1.3"/>
<path d="M1455.5 940L1455.5 953.75" stroke-width="1.3"/>
<path d="M1467.5 940L1467.5 953.75" stroke-width="1.3"/>
<path d="M1436.5 940L1474 940" stroke-width="1.2"/>
<path d="M544.4 793.1C547 790.75 554.69 783.89 560 779C565.31 774.11 569.79 768.96 576.25 763.75C582.71 758.54 589.79 753.94 598.75 747.75C607.71 741.56 618.46 733.64 630 726.6C641.54 719.56 655.08 712.05 668 705.5C680.92 698.95 694.67 692.97 707.5 687.3C720.33 681.63 734.42 675.67 745 671.5C755.58 667.33 762.67 664.72 771 662.3C779.33 659.88 788.08 658.22 795 657C801.92 655.78 809.58 655.33 812.5 655" stroke-width="1.7"/>
<path d="M547 793.1C549.5 790.92 556.83 784.6 562 780C567.17 775.4 571.67 770.5 578 765.5C584.33 760.5 591.17 756.08 600 750C608.83 743.92 619.5 736 631 729C642.5 722 656.08 714.5 669 708C681.92 701.5 695.67 695.58 708.5 690C721.33 684.42 735.42 678.53 746 674.5C756.58 670.47 763.83 668.13 772 665.8C780.17 663.47 788.04 661.77 795 660.5C801.96 659.23 810.62 658.58 813.75 658.2" stroke-width="1.3"/>
<path d="M813.75 658.2L936.25 658.2" stroke-width="1.5"/>
<path d="M813.3 654L813.75 658.2" stroke-width="1.2"/>
<path d="M745 654H967.5Q973.6 654 974.4 659L987.5 793.1L989.5 870" stroke-width="1.7"/>
<path d="M741.2 668.5L745 654.6M744 670L748 655.5M748 668L752 655.5" stroke-width="1.2"/>
<path d="M746 656.6H790" stroke-width="1.1"/>
<path d="M544.4 793.1L987.5 793.1" stroke-width="1.6"/>
<path d="M544.4 793.1L542.5 866.5H598.75" stroke-width="1.6"/>
<path d="M598.75 866.5C640 865.6 700 864.2 760 864.4C840 864.6 890 867 930 871C950 872.6 975 872.4 989.5 872" stroke-width="1.5"/>
<path d="M598.75 868.3C640 867.8 700 867.2 760 867.6C830 868 880 869.5 920 873.5C945 875.5 975 875 984 874.5" stroke-width="1.2"/>
<path d="M610 866.3C620 869 635 870.2 655 869.8M610 866.3C625 865.5 640 865.3 660 865.2" stroke-width="1.1"/>
<path d="M599.1 748.5L599.1 866.5" stroke-width="1.4"/>
<path d="M733.75 793.1L733.75 867.5" stroke-width="1.3"/>
<path d="M738.1 793.1L738.1 867.5" stroke-width="1.3"/>
<path d="M857.5 793.1L857.5 869" stroke-width="1.3"/>
<path d="M867.5 654L867.5 870" stroke-width="1.4"/>
<path d="M932.5 793.1L932.5 871.6" stroke-width="1.3"/>
<path d="M759.4 667.5L763.1 793.1M761.9 667L765.6 793.1M778.1 661.9L773.1 793.1M776.25 662.3L771.9 793.1" stroke-width="1.3"/>
<path d="M765.6 790.8L771.9 790.8" stroke-width="1"/>
<path d="M940.2 655Q940.6 730 946.6 793.1M942 655Q942.6 730 948.6 793.1" stroke-width="1.3"/>
<path d="M946.9 654Q954 720 957.5 793.1M948.8 655Q953 720 954.5 793.1" stroke-width="1.2"/>
<path d="M645.5 793.1C643.5 760 645 721.3 651 721.3C657 721.3 658.8 760 657.4 793.1" stroke-width="1.5"/>
<path d="M647.8 793.1C646 762 647.2 727 651 722.3" stroke-width="1.1"/>
<path d="M576.9 763.1L580.6 726.6H630" stroke-width="1.5"/>
<path d="M608 728.5Q590 742 577.5 760" stroke-width="1.3"/>
<path d="M580.6 728.6H623" stroke-width="1"/>
<path class="f" d="M790.5 654L792 645.6H804.4L806 654Z"/>
<path d="M793 648L803.5 648" stroke-width="0.8" style="stroke:#fff"/>
<path d="M792.5 650.6L804 650.6" stroke-width="0.8" style="stroke:#fff"/>
<rect x="812.5" y="641.25" width="15.6" height="12.75" stroke-width="2" class="w"/>
<path d="M812.5 646L828.1 646" stroke-width="1.6"/>
<path d="M812.5 650.6L828.1 650.6" stroke-width="1.6"/>
<path d="M818.5 641.25L818.5 650.6" stroke-width="1.4"/>
<rect x="834.75" y="641.25" width="15.6" height="12.75" stroke-width="2" class="w"/>
<path d="M834.75 646L850.35 646" stroke-width="1.6"/>
<path d="M834.75 650.6L850.35 650.6" stroke-width="1.6"/>
<path d="M840.75 641.25L840.75 650.6" stroke-width="1.4"/>
<path d="M860 652.6L869.4 652.6" stroke-width="2"/>
<path d="M572.5 871C580 885 582.5 900 583.75 918.75" stroke-width="1.5"/>
<path d="M670 868.75C648 878 636 895 633.75 918.75" stroke-width="1.5"/>
<path d="M583.75 918.75L633.75 918.75" stroke-width="1.4"/>
<path d="M549 868.5L551.5 872.5H562" stroke-width="1.2"/>
<rect x="552.5" y="873" width="8.1" height="7" stroke-width="1.3"/>
<path d="M561 872.6L574 880L562.5 880L561 872.6Z" stroke-width="1.3"/>
<path d="M563 874.5L569.5 879.2" stroke-width="1"/>
<path d="M767.5 868.75V893.75H787.5V881.5H771.5V868.75" stroke-width="1.4"/>
<path d="M771.5 881.5L771.5 893.75" stroke-width="1.2"/>
<path d="M776 868.75V880M776 880Q778 874 787 872.6H835" stroke-width="1.2"/>
<path d="M780 881.5Q781.5 876.5 789 875.6H830" stroke-width="1.1"/>
<path d="M835 872.6Q852 875.5 862 881.5" stroke-width="1.1"/>
<rect class="f" x="906" y="875" width="17" height="5"/>
<path d="M909.5 876L909.5 879.2" stroke-width="0.8" style="stroke:#fff"/>
<path d="M913 876L913 879.2" stroke-width="0.8" style="stroke:#fff"/>
<path d="M916.5 876L916.5 879.2" stroke-width="0.8" style="stroke:#fff"/>
<path d="M920 876L920 879.2" stroke-width="0.8" style="stroke:#fff"/>
<path d="M862 881.5H960L964 884.8H968" stroke-width="1.2"/>
<path d="M910 881.5V886.2H917V881.5" stroke-width="1.2"/>
<rect x="587" y="481.25" width="43" height="11.75" stroke-width="1.6" class="w"/>
<circle cx="594" cy="487.3" r="3" stroke-width="2"/>
<circle cx="594" cy="487.3" r="1" stroke-width="1"/>
<rect x="588.6" y="483" width="10.8" height="8.6" stroke-width="1"/>
<path class="w" d="M596.6 493H620.6V726.6H596.6Z" style="stroke:none"/>
<path d="M596.6 493L596.6 726.6" stroke-width="1.6"/>
<path d="M600 493L600 726.6" stroke-width="2"/>
<path d="M616 493L616 726.6" stroke-width="2"/>
<path d="M620.6 493L620.6 726.6" stroke-width="1.6"/>
<path d="M598.2 493L598.2 726.6" stroke-width="0.9"/>
<path d="M618.4 493L618.4 726.6" stroke-width="0.9"/>
<path d="M600 724.5L616 719.3" stroke-width="2.6"/>
<path d="M600 702.25L616 697.05" stroke-width="2.6"/>
<path d="M600 680L616 674.8" stroke-width="2.6"/>
<path d="M600 657.75L616 652.55" stroke-width="2.6"/>
<path d="M600 635.5L616 630.3" stroke-width="2.6"/>
<path d="M600 613.25L616 608.05" stroke-width="2.6"/>
<path d="M600 591L616 585.8" stroke-width="2.6"/>
<path d="M600 568.75L616 563.55" stroke-width="2.6"/>
<path d="M600 546.5L616 541.3" stroke-width="2.6"/>
<path d="M600 524.25L616 519.05" stroke-width="2.6"/>
<path d="M600 502L616 496.8" stroke-width="2.6"/>
<rect x="587.25" y="921.5" width="42.75" height="11.5" stroke-width="1.5" class="w"/>
<circle cx="594.3" cy="927.3" r="3.3" stroke-width="2.2"/>
<circle cx="594.3" cy="927.3" r="1.2" stroke-width="1"/>
<rect x="588.6" y="922.8" width="11.4" height="8.8" stroke-width="1"/>
<path d="M597.5 918.75L597.5 921.5" stroke-width="1.2"/>
<path d="M620 918.75L620 921.5" stroke-width="1.2"/>
<path d="M607 918.75L607 921.5" stroke-width="1"/>
<path d="M611 918.75L611 921.5" stroke-width="1"/>
<path d="M598.1 933L598.1 972" stroke-width="3"/>
<path d="M601.8 933L601.8 972" stroke-width="1"/>
<path d="M615.7 933L615.7 972" stroke-width="1"/>
<path d="M619 933L619 972" stroke-width="3"/>
<circle cx="608.5" cy="955.3" r="3" stroke-width="1.8"/>
<path d="M603 955.3L614 955.3" stroke-width="0.9"/>
<path d="M608.5 949.5L608.5 961" stroke-width="0.9"/>
<circle class="f" cx="608.75" cy="969.5" r="0.8"/>
</g>
<g id="v_bottom">
<path d="M583.8 1575A114.1 114.1 0 0 1 558.48 1361.05" stroke-width="1"/>
<path d="M557.29 1454.57L485.4 1441.89" stroke-width="1"/>
<path d="M557.29 1472.63L485.4 1485.31" stroke-width="1"/>
<path d="M563.47 1437.6L500.25 1401.1" stroke-width="1"/>
<path d="M563.47 1489.6L500.25 1526.1" stroke-width="1"/>
<path class="f" d="M509.69 1406.55L503.66 1420.39L500.71 1418.69Z"/>
<path class="f" d="M496.13 1443.79L497.06 1428.72L500.41 1429.31Z"/>
<path class="f" d="M496.13 1443.79L495.2 1458.85L491.85 1458.26Z"/>
<path class="f" d="M496.13 1483.41L491.85 1468.94L495.2 1468.35Z"/>
<path class="f" d="M496.13 1483.41L500.41 1497.89L497.06 1498.48Z"/>
<path class="f" d="M509.69 1520.65L500.71 1508.51L503.66 1506.81Z"/>
<text x="503.75" y="1376.25" font-size="34" text-anchor="middle" transform="rotate(-50 503.75 1376.25)" dominant-baseline="central">20°</text>
<text x="474.4" y="1466.3" font-size="34" text-anchor="middle" transform="rotate(-90 474.4 1466.3)" dominant-baseline="central">20°</text>
<text x="550" y="1538" font-size="34" text-anchor="middle" transform="rotate(38 550 1538)" dominant-baseline="central">20°</text>
<path d="M636.9 1455.6L702.5 1432.5L721 1432.5" stroke-width="1"/>
<text x="713.75" y="1427" font-size="24" text-anchor="middle">B</text>
<path d="M573.14 1428.24L663.65 1518.75L663.75 1519.6L741.5 1519.6" stroke-width="1"/>
<path class="f" d="M644.92 1500.02L656.72 1509.42L654.32 1511.82Z"/>
<text x="690.6" y="1512.5" font-size="34" text-anchor="middle" font-family="Noto Serif CJK SC,serif">∅</text>
<text x="708" y="1512.5" font-size="34" text-anchor="start">92</text>
<path d="M567.5 1494.25L612.5 1588.5L759.5 1588.5" stroke-width="1"/>
<path class="f" d="M567.2 1493.6L574.76 1505.5L571.69 1506.97Z"/>
<text x="622.5" y="1583" font-size="34" text-anchor="start">4-M4</text>
<text x="723.5" y="1582" font-size="30" text-anchor="middle" font-family="DejaVu Sans,sans-serif">↧</text>
<text x="741.5" y="1583" font-size="34" text-anchor="start">5</text>
<path d="M542.5 1463.6L542.67 1458.86L543.18 1454.15L544.03 1449.49L545.2 1444.9L546.71 1440.41L548.53 1436.03L550.67 1431.8L553.1 1427.73L555.81 1423.85L558.8 1420.17L562.05 1416.72L565.53 1413.5L569.24 1410.55L573.15 1407.87L577.24 1405.47L581.49 1403.38L585.88 1401.6L590.39 1400.13L594.99 1399L599.66 1398.2L737.5 1379.4L800 1376.6L857.5 1374.4L867.5 1375.6L947.5 1397.5" stroke-width="1.5"/>
<path d="M542.5 1463.6L542.67 1468.34L543.18 1473.05L544.03 1477.71L545.2 1482.3L546.71 1486.79L548.53 1491.17L550.67 1495.4L553.1 1499.47L555.81 1503.35L558.8 1507.03L562.05 1510.48L565.53 1513.7L569.24 1516.65L573.15 1519.33L577.24 1521.73L581.49 1523.82L585.88 1525.6L590.39 1527.07L594.99 1528.2L599.66 1529L737.5 1547.8L800 1550.6L857.5 1552.8L867.5 1551.6L947.5 1529.7" stroke-width="1.5"/>
<path d="M544.4 1463.6L544.57 1459L545.06 1454.42L545.88 1449.9L547.03 1445.44L548.49 1441.07L550.26 1436.82L552.33 1432.71L554.69 1428.76L557.33 1424.99L560.23 1421.42L563.38 1418.07L566.77 1414.95L570.37 1412.08L574.16 1409.47L578.14 1407.15L582.26 1405.11L586.53 1403.38L590.91 1401.96L595.38 1400.86L599.91 1400.08L737.5 1381.3L800 1378.8L857.5 1376.91L866.93 1378.11L937.97 1397.5" stroke-width="1.1"/>
<path d="M544.4 1463.6L544.57 1468.2L545.06 1472.78L545.88 1477.3L547.03 1481.76L548.49 1486.13L550.26 1490.38L552.33 1494.49L554.69 1498.44L557.33 1502.21L560.23 1505.78L563.38 1509.13L566.77 1512.25L570.37 1515.12L574.16 1517.73L578.14 1520.05L582.26 1522.09L586.53 1523.82L590.91 1525.24L595.38 1526.34L599.91 1527.12L737.5 1545.9L800 1548.4L857.5 1550.29L866.93 1549.09L937.97 1529.7" stroke-width="1.1"/>
<path d="M546.4 1463.6L546.56 1459.14L547.04 1454.71L547.84 1450.32L548.94 1446L550.36 1441.78L552.08 1437.66L554.08 1433.68L556.37 1429.85L558.93 1426.2L561.74 1422.74L564.79 1419.49L568.07 1416.46L571.56 1413.68L575.23 1411.16L579.08 1408.91L583.08 1406.94L587.21 1405.26L591.46 1403.88L595.78 1402.82L600.18 1402.06L737.5 1383.3L800 1381.12L857.5 1379.55L866.33 1380.75L927.94 1397.5" stroke-width="1.1"/>
<path d="M546.4 1463.6L546.56 1468.06L547.04 1472.49L547.84 1476.88L548.94 1481.2L550.36 1485.42L552.08 1489.54L554.08 1493.52L556.37 1497.35L558.93 1501L561.74 1504.46L564.79 1507.71L568.07 1510.74L571.56 1513.52L575.23 1516.04L579.08 1518.29L583.08 1520.26L587.21 1521.94L591.46 1523.32L595.78 1524.38L600.18 1525.14L737.5 1543.9L800 1546.08L857.5 1547.65L866.33 1546.45L927.94 1529.7" stroke-width="1.1"/>
<path d="M548.3 1463.6L548.46 1459.28L548.92 1454.98L549.69 1450.73L550.77 1446.54L552.14 1442.44L553.8 1438.45L555.75 1434.59L557.97 1430.88L560.44 1427.34L563.17 1423.99L566.13 1420.84L569.31 1417.91L572.69 1415.21L576.25 1412.77L579.98 1410.58L583.86 1408.67L587.87 1407.05L591.98 1405.71L596.17 1404.68L600.43 1403.94L737.5 1385.2L800 1383.33L857.5 1382.06L865.76 1383.26L918.41 1397.5" stroke-width="1.1"/>
<path d="M548.3 1463.6L548.46 1467.92L548.92 1472.22L549.69 1476.47L550.77 1480.66L552.14 1484.76L553.8 1488.75L555.75 1492.61L557.97 1496.32L560.44 1499.86L563.17 1503.21L566.13 1506.36L569.31 1509.29L572.69 1511.99L576.25 1514.43L579.98 1516.62L583.86 1518.53L587.87 1520.15L591.98 1521.49L596.17 1522.52L600.43 1523.26L737.5 1542L800 1543.87L857.5 1545.14L865.76 1543.94L918.41 1529.7" stroke-width="1.1"/>
<path d="M550.3 1463.6L550.45 1459.42L550.9 1455.27L551.65 1451.16L552.69 1447.11L554.01 1443.15L555.62 1439.29L557.5 1435.56L559.65 1431.97L562.04 1428.55L564.68 1425.3L567.54 1422.26L570.61 1419.42L573.88 1416.82L577.32 1414.45L580.93 1412.34L584.68 1410.5L588.55 1408.93L592.53 1407.64L596.58 1406.63L600.7 1405.92L737.5 1387.2L800 1385.65L857.5 1384.7L865.16 1385.9L908.38 1397.5" stroke-width="1.5"/>
<path d="M550.3 1463.6L550.45 1467.78L550.9 1471.93L551.65 1476.04L552.69 1480.09L554.01 1484.05L555.62 1487.91L557.5 1491.64L559.65 1495.23L562.04 1498.65L564.68 1501.9L567.54 1504.94L570.61 1507.78L573.88 1510.38L577.32 1512.75L580.93 1514.86L584.68 1516.7L588.55 1518.27L592.53 1519.56L596.58 1520.57L600.7 1521.28L737.5 1540L800 1541.55L857.5 1542.5L865.16 1541.3L908.38 1529.7" stroke-width="1.5"/>
<path d="M737.5 1379.4L737.5 1387.5" stroke-width="1.2"/>
<path d="M737.5 1547.8L737.5 1539.7" stroke-width="1.2"/>
<path d="M857.5 1374.4L857.5 1384.8" stroke-width="1.2"/>
<path d="M857.5 1552.8L857.5 1542.4" stroke-width="1.2"/>
<path d="M867.5 1375.6L865.2 1385.8" stroke-width="1.2"/>
<path d="M867.5 1551.6L865.2 1541.4" stroke-width="1.2"/>
<path d="M780.09 1542.43A156.25 156.25 0 0 1 780.09 1384.77" stroke-width="1.4"/>
<circle cx="608.5" cy="1463.6" r="64" stroke-width="1.4"/>
<circle cx="616.5" cy="1463.6" r="51.5" stroke-width="1.4"/>
<circle cx="608.5" cy="1463.6" r="51.5" stroke-width="0.9" stroke-dasharray="14 3 3 3"/>
<circle cx="608.5" cy="1463.6" r="27.8" stroke-width="1.2"/>
<circle cx="608.5" cy="1463.6" r="25.4" stroke-width="1.5"/>
<circle cx="608.5" cy="1463.6" r="22.2" stroke-width="2.8"/>
<circle cx="608.5" cy="1463.6" r="19.3" stroke-width="1.1"/>
<circle cx="608.5" cy="1463.6" r="11.3" stroke-width="2.4"/>
<path d="M540 1463.6L676 1463.6" stroke-width="0.9" stroke-dasharray="26 4 4 4"/>
<path d="M608.5 1396L608.5 1534" stroke-width="0.9" stroke-dasharray="26 4 4 4"/>
<path d="M589 1463.6L597.4 1463.6" stroke-width="2.6"/>
<path d="M619.6 1463.6L630 1463.6" stroke-width="1.2"/>
<path d="M619.6 1461.8L633 1461.8" stroke-width="1.1"/>
<path d="M619.6 1465.4L633 1465.4" stroke-width="1.1"/>
<path d="M624 1400.6L623 1406" stroke-width="1.2"/>
<path d="M624 1526.6L623 1521.2" stroke-width="1.2"/>
<path d="M632 1403L631.5 1399.5" stroke-width="1"/>
<path d="M632 1524.2L631.5 1527.7" stroke-width="1"/>
<path d="M575.76 1488.27A41 41 0 0 1 575.76 1438.93" stroke-width="1.3"/>
<path d="M573.68 1489.84A43.6 43.6 0 0 1 573.68 1437.36" stroke-width="1.3"/>
<path d="M575.76 1488.27L562.58 1498.2" stroke-width="1.4"/>
<path d="M574.91 1491.39L564.2 1500.25" stroke-width="1.1"/>
<path d="M575.76 1438.93L562.58 1429" stroke-width="1.4"/>
<path d="M574.91 1435.81L564.2 1426.95" stroke-width="1.1"/>
<path d="M565.31 1491.65A51.5 51.5 0 0 1 565.31 1435.55" stroke-width="1.8" stroke-dasharray="6 3.4"/>
<circle class="f" cx="557.78" cy="1454.66" r="2.3"/>
<circle class="f" cx="557.78" cy="1472.54" r="2.3"/>
<circle class="f" cx="563.9" cy="1437.85" r="2.3"/>
<circle class="f" cx="563.9" cy="1489.35" r="2.3"/>
<path class="f" d="M569.5 1493L572.5 1497.5L575.8 1508Z"/>
<path d="M849.4 1446.25H776.25L765.6 1459.6V1467.6L776.25 1481.25H849.4" stroke-width="2"/>
<path d="M850 1450H778L768.6 1460.6V1466.6L778 1478H850" stroke-width="1.2"/>
<path d="M788.1 1450V1478M791.5 1450V1478" stroke-width="1.2"/>
<path d="M791.5 1454.4H832.2M791.5 1473.75H832.2M832.2 1450V1454.4M832.2 1473.75V1478" stroke-width="1.3"/>
<path d="M832.2 1454.4Q842 1454.8 850.5 1453.4M832.2 1473.75Q842 1473.4 850.5 1474.8" stroke-width="1.2"/>
<circle class="f" cx="779.1" cy="1455.7" r="4.6"/>
<circle class="f" cx="779.1" cy="1472.2" r="4.6"/>
<circle cx="779.1" cy="1455.7" r="2.2" stroke-width="0.8" style="stroke:#fff"/>
<circle cx="779.1" cy="1472.2" r="2.2" stroke-width="0.8" style="stroke:#fff"/>
<path d="M769.5 1458.5L781.5 1463.8L769.5 1469" stroke-width="1.3"/>
<path d="M909.2 1529.85A66.5 66.5 0 0 1 909.2 1397.35" stroke-width="1.4"/>
<path d="M909.4 1396.9L909.4 1402.4" stroke-width="1.3"/>
<path d="M909.4 1530.3L909.4 1524.8" stroke-width="1.3"/>
<circle cx="915" cy="1463.6" r="61.25" stroke-width="2.4"/>
<path d="M941.6 1506.17A50.2 50.2 0 1 1 941.6 1421.03" stroke-width="1.4"/>
<circle cx="969.38" cy="1478.17" r="2.4" stroke-width="1.4"/>
<circle cx="954.81" cy="1503.41" r="2.4" stroke-width="1.4"/>
<circle cx="929.57" cy="1517.98" r="2.4" stroke-width="1.4"/>
<circle cx="900.43" cy="1517.98" r="2.4" stroke-width="1.4"/>
<circle cx="875.19" cy="1503.41" r="2.4" stroke-width="1.4"/>
<circle cx="860.62" cy="1478.17" r="2.4" stroke-width="1.4"/>
<circle cx="860.62" cy="1449.03" r="2.4" stroke-width="1.4"/>
<circle cx="875.19" cy="1423.79" r="2.4" stroke-width="1.4"/>
<circle cx="900.43" cy="1409.22" r="2.4" stroke-width="1.4"/>
<circle cx="929.57" cy="1409.22" r="2.4" stroke-width="1.4"/>
<circle cx="954.81" cy="1423.79" r="2.4" stroke-width="1.4"/>
<circle cx="969.38" cy="1449.03" r="2.4" stroke-width="1.4"/>
<path d="M926.28 1459.4L974.85 1459.4" stroke-width="1.6"/>
<path d="M924.66 1461.2L974.95 1461.2" stroke-width="1"/>
<path d="M923.22 1462.8L974.99 1462.8" stroke-width="1"/>
<path d="M923.22 1464.4L974.99 1464.4" stroke-width="1"/>
<path d="M924.66 1466L974.95 1466" stroke-width="1"/>
<path d="M926.28 1467.8L974.85 1467.8" stroke-width="1.6"/>
<path d="M927.54 1463.1L969.99 1487.61" stroke-width="1.6"/>
<path d="M925.24 1463.85L969.24 1489.26" stroke-width="1"/>
<path d="M923.19 1464.52L968.53 1490.7" stroke-width="1"/>
<path d="M922.39 1465.9L967.79 1492.12" stroke-width="1"/>
<path d="M922.84 1468.01L967.01 1493.51" stroke-width="1"/>
<path d="M923.34 1470.38L966.09 1495.06" stroke-width="1.6"/>
<path d="M923.34 1456.82L966.09 1432.14" stroke-width="1.6"/>
<path d="M922.84 1459.19L967.01 1433.69" stroke-width="1"/>
<path d="M922.39 1461.3L967.79 1435.08" stroke-width="1"/>
<path d="M923.19 1462.68L968.53 1436.5" stroke-width="1"/>
<path d="M925.24 1463.35L969.24 1437.94" stroke-width="1"/>
<path d="M927.54 1464.1L969.99 1439.59" stroke-width="1.6"/>
<path d="M926.78 1466.94L952.08 1510.77" stroke-width="1.6"/>
<path d="M924.41 1466.44L950.64 1511.87" stroke-width="1"/>
<path d="M922.3 1465.99L949.33 1512.81" stroke-width="1"/>
<path d="M920.92 1466.79L948.01 1513.71" stroke-width="1"/>
<path d="M920.25 1468.84L946.66 1514.57" stroke-width="1"/>
<path d="M919.5 1471.14L945.11 1515.5" stroke-width="1.6"/>
<path d="M919.5 1456.06L945.11 1411.7" stroke-width="1.6"/>
<path d="M920.25 1458.36L946.66 1412.63" stroke-width="1"/>
<path d="M920.92 1460.41L948.01 1413.49" stroke-width="1"/>
<path d="M922.3 1461.21L949.33 1414.39" stroke-width="1"/>
<path d="M924.41 1460.76L950.64 1415.33" stroke-width="1"/>
<path d="M926.78 1460.26L952.08 1416.43" stroke-width="1.6"/>
<path d="M927.67 1447.87A17.5 17.5 0 0 1 927.67 1479.33" stroke-width="1.3"/>
<path d="M933.59 1435.74A31 31 0 0 1 933.59 1491.46" stroke-width="1.3"/>
<path d="M909.4 1396.9C915.75 1397.03 937.4 1397.35 947.5 1397.7C957.6 1398.05 956.67 1398.52 970 1399C983.33 1399.48 1007.5 1401.06 1027.5 1400.6C1047.5 1400.14 1069.17 1398.22 1090 1396.25C1110.83 1394.28 1136.46 1390.62 1152.5 1388.75C1168.54 1386.88 1180.62 1385.62 1186.25 1385" stroke-width="1.8"/>
<path d="M909.4 1530.3C915.75 1530.17 937.4 1529.85 947.5 1529.5C957.6 1529.15 956.67 1528.68 970 1528.2C983.33 1527.72 1007.5 1526.14 1027.5 1526.6C1047.5 1527.06 1069.17 1528.97 1090 1530.95C1110.83 1532.92 1136.46 1536.57 1152.5 1538.45C1168.54 1540.32 1180.62 1541.57 1186.25 1542.2" stroke-width="1.8"/>
<path d="M909.4 1402C915.75 1402.07 937.4 1402.2 947.5 1402.4C957.6 1402.6 956.67 1402.87 970 1403.2C983.33 1403.53 1007.5 1404.87 1027.5 1404.4C1047.5 1403.93 1069.17 1402.4 1090 1400.4C1110.83 1398.4 1136.46 1394.32 1152.5 1392.4C1168.54 1390.48 1180.62 1389.48 1186.25 1388.9" stroke-width="1.4"/>
<path d="M909.4 1525.2C915.75 1525.13 937.4 1525 947.5 1524.8C957.6 1524.6 956.67 1524.33 970 1524C983.33 1523.67 1007.5 1522.33 1027.5 1522.8C1047.5 1523.27 1069.17 1524.8 1090 1526.8C1110.83 1528.8 1136.46 1532.88 1152.5 1534.8C1168.54 1536.72 1180.62 1537.72 1186.25 1538.3" stroke-width="1.4"/>
<path d="M1052.5 1463.6C1052.92 1462.67 1052.92 1459.88 1055 1458C1057.08 1456.12 1060.83 1455.22 1065 1452.3C1069.17 1449.38 1074.38 1445.67 1080 1440.5C1085.62 1435.33 1090.83 1426.33 1098.75 1421.25C1106.67 1416.17 1117.5 1413.33 1127.5 1410C1137.5 1406.67 1148.96 1403.43 1158.75 1401.25C1168.54 1399.07 1181.67 1397.62 1186.25 1396.9" stroke-width="2"/>
<path d="M1052.5 1463.6C1052.92 1464.53 1052.92 1467.32 1055 1469.2C1057.08 1471.08 1060.83 1471.98 1065 1474.9C1069.17 1477.82 1074.38 1481.52 1080 1486.7C1085.62 1491.87 1090.83 1500.87 1098.75 1505.95C1106.67 1511.03 1117.5 1513.87 1127.5 1517.2C1137.5 1520.53 1148.96 1523.77 1158.75 1525.95C1168.54 1528.13 1181.67 1529.57 1186.25 1530.3" stroke-width="2"/>
<path d="M1055.4 1463.6C1055.83 1462.92 1056.07 1461.1 1058 1459.5C1059.93 1457.9 1065.5 1454.92 1067 1454" stroke-width="1.1"/>
<path d="M1055.4 1463.6C1055.83 1464.28 1056.07 1466.1 1058 1467.7C1059.93 1469.3 1065.5 1472.28 1067 1473.2" stroke-width="1.1"/>
<path d="M1065 1452.3C1068.33 1450.75 1078.75 1446.09 1085 1443C1091.25 1439.91 1093.33 1438 1102.5 1433.75C1111.67 1429.5 1129.58 1421.08 1140 1417.5C1150.42 1413.92 1157.29 1413.45 1165 1412.3C1172.71 1411.15 1182.71 1410.88 1186.25 1410.6" stroke-width="1.4"/>
<path d="M1065 1474.9C1068.33 1476.45 1078.75 1481.11 1085 1484.2C1091.25 1487.29 1093.33 1489.2 1102.5 1493.45C1111.67 1497.7 1129.58 1506.12 1140 1509.7C1150.42 1513.27 1157.29 1513.75 1165 1514.9C1172.71 1516.05 1182.71 1516.32 1186.25 1516.6" stroke-width="1.4"/>
<path d="M1057.5 1462.6L1182 1462.6" stroke-width="1.2"/>
<path d="M1057.5 1464.7L1182 1464.7" stroke-width="1.2"/>
<path d="M1186.6 1440Q1178.6 1463.6 1186.6 1487" stroke-width="1.3"/>
<path d="M963.2 1412.6C964.95 1411.2 973.27 1410.63 978 1410.6C982.73 1410.57 990.52 1410.92 991.6 1412.4C992.68 1413.88 987.43 1417.23 984.5 1419.5C981.57 1421.77 976.83 1426.08 974 1426C971.17 1425.92 969.3 1421.23 967.5 1419C965.7 1416.77 961.45 1414 963.2 1412.6Z" stroke-width="2.2"/>
<path d="M963.2 1514.6C964.95 1516 973.27 1516.57 978 1516.6C982.73 1516.63 990.52 1516.28 991.6 1514.8C992.68 1513.32 987.43 1509.97 984.5 1507.7C981.57 1505.43 976.83 1501.12 974 1501.2C971.17 1501.28 969.3 1505.97 967.5 1508.2C965.7 1510.43 961.45 1513.2 963.2 1514.6Z" stroke-width="2.2"/>
<path d="M970 1414.8C971.83 1413.52 985.17 1413.52 986 1414.8C986.83 1416.08 977.67 1422.5 975 1422.5C972.33 1422.5 968.17 1416.08 970 1414.8Z" stroke-width="1.1"/>
<path d="M970 1512.4C971.83 1513.68 985.17 1513.68 986 1512.4C986.83 1511.12 977.67 1504.7 975 1504.7C972.33 1504.7 968.17 1511.12 970 1512.4Z" stroke-width="1.1"/>
<path d="M979.3 1436C981.3 1432.67 987.88 1428 993 1424C998.12 1420 1004.67 1414.25 1010 1412C1015.33 1409.75 1020.3 1410.47 1025 1410.5C1029.7 1410.53 1035.82 1410.87 1038.2 1412.2C1040.58 1413.53 1040.67 1416.53 1039.3 1418.5C1037.93 1420.47 1035.72 1420.92 1030 1424C1024.28 1427.08 1012.33 1433.08 1005 1437C997.67 1440.92 990 1446.33 986 1447.5C982 1448.67 982.12 1445.92 981 1444C979.88 1442.08 977.3 1439.33 979.3 1436Z" stroke-width="2.2"/>
<path d="M979.3 1491.2C981.3 1494.53 987.88 1499.2 993 1503.2C998.12 1507.2 1004.67 1512.95 1010 1515.2C1015.33 1517.45 1020.3 1516.73 1025 1516.7C1029.7 1516.67 1035.82 1516.33 1038.2 1515C1040.58 1513.67 1040.67 1510.67 1039.3 1508.7C1037.93 1506.73 1035.72 1506.28 1030 1503.2C1024.28 1500.12 1012.33 1494.12 1005 1490.2C997.67 1486.28 990 1480.87 986 1479.7C982 1478.53 982.12 1481.28 981 1483.2C979.88 1485.12 977.3 1487.87 979.3 1491.2Z" stroke-width="2.2"/>
<path d="M983.5 1437C985.42 1434.5 991.33 1430.08 996 1426.5C1000.67 1422.92 1006.67 1417.58 1011.5 1415.5C1016.33 1413.42 1021.17 1414.08 1025 1414C1028.83 1413.92 1033.08 1414.08 1034.5 1415C1035.92 1415.92 1038.75 1416.25 1033.5 1419.5C1028.25 1422.75 1010.67 1430.55 1003 1434.5C995.33 1438.45 990.58 1442.03 987.5 1443.2C984.42 1444.37 985.17 1442.53 984.5 1441.5C983.83 1440.47 981.58 1439.5 983.5 1437Z" stroke-width="1.1"/>
<path d="M983.5 1490.2C985.42 1492.7 991.33 1497.12 996 1500.7C1000.67 1504.28 1006.67 1509.62 1011.5 1511.7C1016.33 1513.78 1021.17 1513.12 1025 1513.2C1028.83 1513.28 1033.08 1513.12 1034.5 1512.2C1035.92 1511.28 1038.75 1510.95 1033.5 1507.7C1028.25 1504.45 1010.67 1496.65 1003 1492.7C995.33 1488.75 990.58 1485.17 987.5 1484C984.42 1482.83 985.17 1484.67 984.5 1485.7C983.83 1486.73 981.58 1487.7 983.5 1490.2Z" stroke-width="1.1"/>
<path d="M1030.3 1438C1032.38 1435 1040.05 1430.25 1045 1427C1049.95 1423.75 1055 1420.42 1060 1418.5C1065 1416.58 1071 1415.53 1075 1415.5C1079 1415.47 1082.67 1416.72 1084 1418.3C1085.33 1419.88 1086.17 1421.38 1083 1425C1079.83 1428.62 1071 1435.42 1065 1440C1059 1444.58 1051.5 1450.58 1047 1452.5C1042.5 1454.42 1040.42 1452.75 1038 1451.5C1035.58 1450.25 1033.78 1447.25 1032.5 1445C1031.22 1442.75 1028.22 1441 1030.3 1438Z" stroke-width="2.2"/>
<path d="M1030.3 1489.2C1032.38 1492.2 1040.05 1496.95 1045 1500.2C1049.95 1503.45 1055 1506.78 1060 1508.7C1065 1510.62 1071 1511.67 1075 1511.7C1079 1511.73 1082.67 1510.48 1084 1508.9C1085.33 1507.32 1086.17 1505.82 1083 1502.2C1079.83 1498.58 1071 1491.78 1065 1487.2C1059 1482.62 1051.5 1476.62 1047 1474.7C1042.5 1472.78 1040.42 1474.45 1038 1475.7C1035.58 1476.95 1033.78 1479.95 1032.5 1482.2C1031.22 1484.45 1028.22 1486.2 1030.3 1489.2Z" stroke-width="2.2"/>
<path d="M1034.6 1439.5C1036.35 1437.25 1042.6 1433.33 1047 1430.5C1051.4 1427.67 1056.5 1424.32 1061 1422.5C1065.5 1420.68 1070.9 1419.88 1074 1419.6C1077.1 1419.32 1078.83 1419.98 1079.6 1420.8C1080.37 1421.62 1081.37 1421.72 1078.6 1424.5C1075.83 1427.28 1068.27 1433.5 1063 1437.5C1057.73 1441.5 1050.73 1446.75 1047 1448.5C1043.27 1450.25 1042.35 1448.75 1040.6 1448C1038.85 1447.25 1037.5 1445.42 1036.5 1444C1035.5 1442.58 1032.85 1441.75 1034.6 1439.5Z" stroke-width="1.1"/>
<path d="M1034.6 1487.7C1036.35 1489.95 1042.6 1493.87 1047 1496.7C1051.4 1499.53 1056.5 1502.88 1061 1504.7C1065.5 1506.52 1070.9 1507.32 1074 1507.6C1077.1 1507.88 1078.83 1507.22 1079.6 1506.4C1080.37 1505.58 1081.37 1505.48 1078.6 1502.7C1075.83 1499.92 1068.27 1493.7 1063 1489.7C1057.73 1485.7 1050.73 1480.45 1047 1478.7C1043.27 1476.95 1042.35 1478.45 1040.6 1479.2C1038.85 1479.95 1037.5 1481.78 1036.5 1483.2C1035.5 1484.62 1032.85 1485.45 1034.6 1487.7Z" stroke-width="1.1"/>
<path d="M996.25 1463.6C996.25 1459.57 997.54 1454.77 999.5 1451.5C1001.46 1448.23 1004.79 1445.71 1008 1444C1011.21 1442.29 1016.08 1440.75 1018.75 1441.25C1021.42 1441.75 1021.71 1443.88 1024 1447C1026.29 1450.12 1031.08 1456.63 1032.5 1460C1033.92 1463.37 1033.92 1463.83 1032.5 1467.2C1031.08 1470.57 1026.29 1477.07 1024 1480.2C1021.71 1483.32 1021.42 1485.45 1018.75 1485.95C1016.08 1486.45 1011.21 1484.91 1008 1483.2C1004.79 1481.49 1001.46 1478.97 999.5 1475.7C997.54 1472.43 996.25 1467.63 996.25 1463.6Z" stroke-width="2.2"/>
<path d="M1000.45 1463.6C1000.45 1460.44 1001.3 1456.72 1002.79 1454.12C1004.27 1451.51 1006.82 1449.43 1009.36 1447.97C1011.9 1446.52 1015.9 1444.93 1018 1445.38C1020.1 1445.83 1020.22 1448.09 1021.95 1450.66C1023.68 1453.24 1027.31 1458.22 1028.38 1460.83C1029.46 1463.45 1029.46 1463.75 1028.38 1466.37C1027.31 1468.98 1023.68 1473.96 1021.95 1476.54C1020.22 1479.11 1020.1 1481.37 1018 1481.82C1015.9 1482.27 1011.9 1480.68 1009.36 1479.23C1006.82 1477.77 1004.27 1475.69 1002.79 1473.08C1001.3 1470.48 1000.45 1466.76 1000.45 1463.6Z" stroke-width="1.1"/>
<rect x="1186.25" y="1358" width="289.25" height="212" rx="10" stroke-width="1.4" class="w"/>
<path d="M1186.25 1402.5L1479 1402.5" stroke-width="1.3"/>
<path d="M1186.25 1525L1479 1525" stroke-width="1.3"/>
<circle cx="1210" cy="1375" r="5.4" stroke-width="1.3"/>
<path d="M1201 1375L1219 1375" stroke-width="1"/>
<path d="M1210 1366L1210 1384" stroke-width="1"/>
<circle cx="1210" cy="1553" r="5.4" stroke-width="1.3"/>
<path d="M1201 1553L1219 1553" stroke-width="1"/>
<path d="M1210 1544L1210 1562" stroke-width="1"/>
<circle cx="1388.25" cy="1375" r="5.4" stroke-width="1.3"/>
<path d="M1379.25 1375L1397.25 1375" stroke-width="1"/>
<path d="M1388.25 1366L1388.25 1384" stroke-width="1"/>
<circle cx="1388.25" cy="1553" r="5.4" stroke-width="1.3"/>
<path d="M1379.25 1553L1397.25 1553" stroke-width="1"/>
<path d="M1388.25 1544L1388.25 1562" stroke-width="1"/>
<path d="M1206.6 1375V1397.5A3.4 3.4 0 0 0 1213.4 1397.5V1375" stroke-width="1.3"/>
<circle class="f" cx="1210" cy="1397.3" r="3"/>
<circle class="f" cx="1210" cy="1532.3" r="3.2"/>
<circle cx="1210" cy="1397.3" r="1.4" stroke-width="0.7" style="stroke:#fff"/>
<circle cx="1210" cy="1532.3" r="1.4" stroke-width="0.7" style="stroke:#fff"/>
<path d="M1475.5 1397.6H1482V1405H1475.5M1475.5 1522.4H1482V1530.5H1475.5" stroke-width="1.2"/>
<path d="M1477.6 1397.6V1530.5" stroke-width="1.2"/>
<path d="M1477.6 1416.8H1493Q1498.6 1418 1498.9 1424V1447Q1498.6 1453.5 1493 1454.5H1477.6" stroke-width="1.5"/>
<path d="M1493 1416.8L1493 1454.5" stroke-width="1.2"/>
<path d="M1477.6 1433.6L1493 1433.6" stroke-width="1.1"/>
<path d="M1477.6 1435.6L1493 1435.6" stroke-width="1.1"/>
<path d="M1477.6 1418.6H1491.5M1477.6 1452.6H1491.5" stroke-width="1"/>
<path d="M1477.6 1465.5H1490Q1494.8 1467 1495.2 1472V1488Q1494.8 1493.5 1490 1495H1477.6" stroke-width="1.5"/>
<path d="M1490 1465.5L1490 1495" stroke-width="1.2"/>
<path d="M1477.6 1473L1490 1473" stroke-width="1.1"/>
<path d="M1477.6 1487.7L1490 1487.7" stroke-width="1.1"/>
<rect x="1477.6" y="1498.8" width="4.4" height="12.5" stroke-width="1.2"/>
<path d="M1477.6 1501.5L1482 1501.5" stroke-width="1"/>
<path d="M1206.25 1315.5L1206.25 1398" stroke-width="1"/>
<path d="M1213.75 1315.5L1213.75 1398" stroke-width="1"/>
<path d="M1181.25 1326.75L1407.5 1326.75" stroke-width="1"/>
<path class="f" d="M1206.25 1326.75L1190.25 1328.75L1190.25 1324.75Z"/>
<path class="f" d="M1213.75 1326.75L1229.75 1324.75L1229.75 1328.75Z"/>
<text x="1248" y="1320.5" font-size="34" text-anchor="middle">6</text>
<text x="1275.5" y="1304" font-size="17" text-anchor="start">+0.<tspan dx="4">02</tspan></text>
<text x="1283.5" y="1321.5" font-size="17" text-anchor="start">0</text>
<text x="1338.75" y="1320.5" font-size="33" text-anchor="start">通孔</text>
<path d="M1157.5 1313.5L1157.5 1420" stroke-width="1"/>
<path d="M1146.25 1375L1210 1375" stroke-width="1"/>
<path class="f" d="M1157.5 1375L1155.5 1359L1159.5 1359Z"/>
<path class="f" d="M1157.5 1397.5L1159.5 1413.5L1155.5 1413.5Z"/>
<text x="1151.5" y="1330.5" font-size="34" text-anchor="middle" transform="rotate(-90 1151.5 1330.5)">18</text>
<path d="M1212 1395.5L1255 1395.5" stroke-width="1"/>
<path d="M1212 1532.25L1255 1532.25" stroke-width="1"/>
<path d="M1242.5 1395.5L1242.5 1532.25" stroke-width="1"/>
<path class="f" d="M1242.5 1395.5L1244.5 1411.5L1240.5 1411.5Z"/>
<path class="f" d="M1242.5 1532.25L1240.5 1516.25L1244.5 1516.25Z"/>
<text x="1236.5" y="1463.5" font-size="34" text-anchor="middle" transform="rotate(-90 1236.5 1463.5)">124</text>
<path d="M1186.25 1570L1186.25 1617.5" stroke-width="1"/>
<path d="M1210 1559L1210 1617.5" stroke-width="1"/>
<path d="M1140 1606L1235 1606" stroke-width="1"/>
<path class="f" d="M1186.25 1606L1170.25 1608L1170.25 1604Z"/>
<path class="f" d="M1210 1606L1226 1604L1226 1608Z"/>
<text x="1155.5" y="1600" font-size="34" text-anchor="middle">21</text>
<path d="M1211 1533L1256 1612.5L1466.5 1612.5" stroke-width="1"/>
<path class="f" d="M1211.8 1534.3L1219.59 1544.83L1216.81 1546.4Z"/>
<text x="1284" y="1606.75" font-size="34" text-anchor="middle" font-family="Noto Serif CJK SC,serif">∅</text>
<text x="1298" y="1606.75" font-size="34" text-anchor="start">6</text>
<text x="1333.75" y="1590.5" font-size="17" text-anchor="start">+0.<tspan dx="4">02</tspan></text>
<text x="1342" y="1608" font-size="17" text-anchor="start">0</text>
<text x="1397.5" y="1606.75" font-size="33" text-anchor="start">通孔</text>
</g>
<g id="v_detA">
<text x="1948.5" y="400" font-size="30" text-anchor="middle" textLength="15.5" lengthAdjust="spacingAndGlyphs">A</text>
<path d="M1909 409.5L1988 409.5" stroke-width="1.4"/>
<text x="1948.5" y="441" font-size="29" text-anchor="middle" word-spacing="12">2 : 1</text>
<path d="M1708.75 620V602.5A390 390 0 0 1 2199.25 602.5V620" stroke-width="1.4"/>
<path d="M1683.75 620L2199.25 620" stroke-width="1.4"/>
<path d="M1843.4 620L1843.4 653" stroke-width="1.6"/>
<path d="M2066.2 620L2066.2 653" stroke-width="1.6"/>
<path d="M1845.1 620L1845.1 653" stroke-width="1.2"/>
<path d="M2064.5 620L2064.5 653" stroke-width="1.2"/>
<path d="M1851.75 620L1851.75 653" stroke-width="1.3"/>
<path d="M2057.85 620L2057.85 653" stroke-width="1.3"/>
<path d="M1867 620L1867 653" stroke-width="1.3"/>
<path d="M2042.6 620L2042.6 653" stroke-width="1.3"/>
<path d="M1886.25 620L1886.25 653" stroke-width="1.3"/>
<path d="M2023.35 620L2023.35 653" stroke-width="1.3"/>
<path d="M1749 653H2160L2165.75 659.5V670L2167.5 671.5V747L2165.75 748.5V759.25L2160 765.5H1749L1743.25 759.25V659.5Z" stroke-width="1.5"/>
<path d="M1743.25 659.5L2165.75 659.5" stroke-width="1.3"/>
<path d="M1743.25 759.25L2165.75 759.25" stroke-width="1.3"/>
<circle cx="1810" cy="708" r="50" stroke-width="1.3"/>
<circle cx="1810" cy="708" r="48.3" stroke-width="1.1"/>
<circle cx="1810" cy="708" r="40" stroke-width="1.4"/>
<path d="M1814.25 683.87L1833.02 699.62L1828.77 723.75L1805.75 732.13L1786.98 716.38L1791.23 692.25Z" stroke-width="1.3"/>
<circle cx="1810" cy="708" r="21" stroke-width="1.4"/>
<path d="M1843.4 765.5V931.5H1854.6V1043.3H1843.4V1154.7" stroke-width="1.5"/>
<path d="M1845.1 765.5L1845.1 931.5" stroke-width="1.1"/>
<path d="M1851 765.5L1851 931.5" stroke-width="1.3"/>
<path d="M1851 1043.3L1851 1154.7" stroke-width="1.3"/>
<path d="M1866.8 765.5L1866.8 1154.7" stroke-width="1.3"/>
<path d="M1886 765.5L1886 1154.7" stroke-width="1.3"/>
<path d="M2066.2 765.5V931.5H2055V1043.3H2066.2V1154.7" stroke-width="1.5"/>
<path d="M2064.5 765.5L2064.5 931.5" stroke-width="1.1"/>
<path d="M2058.6 765.5L2058.6 931.5" stroke-width="1.3"/>
<path d="M2058.6 1043.3L2058.6 1154.7" stroke-width="1.3"/>
<path d="M2042.8 765.5L2042.8 1154.7" stroke-width="1.3"/>
<path d="M2023.6 765.5L2023.6 1154.7" stroke-width="1.3"/>
<path d="M1684 1154.7L2303 1154.7" stroke-width="1.2"/>
<circle cx="1954.5" cy="987.9" r="33" stroke-width="1.4"/>
<circle cx="1954.5" cy="987.9" r="28.5" stroke-width="1.4"/>
<path d="M1954.5 931.5L1954.5 1043.3" stroke-width="1"/>
<path d="M1733.8 987.9L2010.8 987.9" stroke-width="1"/>
<path d="M1936.8 968.7L2092 1154.7" stroke-width="1"/>
<path class="f" d="M1972.7 1009.8L1984.4 1020.88L1981.48 1023.31Z"/>
<path d="M1683.75 765.5L1743.25 765.5" stroke-width="1"/>
<path d="M1695.3 620L1695.3 765.5" stroke-width="1"/>
<path class="f" d="M1695.3 620L1697.3 636L1693.3 636Z"/>
<path class="f" d="M1695.3 765.5L1693.3 749.5L1697.3 749.5Z"/>
<text x="1689.3" y="713.75" font-size="34" text-anchor="middle" transform="rotate(-90 1689.3 713.75)">13</text>
<path d="M1695.3 765.5L1695.3 1154.7" stroke-width="1"/>
<path class="f" d="M1695.3 765.5L1697.3 781.5L1693.3 781.5Z"/>
<path class="f" d="M1695.3 1154.7L1693.3 1138.7L1697.3 1138.7Z"/>
<text x="1689.3" y="960.5" font-size="34" text-anchor="middle" transform="rotate(-90 1689.3 960.5)">35</text>
<path d="M1743.25 765.5L1743.25 837.5" stroke-width="1"/>
<path d="M2165.75 765.5L2165.75 837.5" stroke-width="1"/>
<path d="M1743.25 826.25L2165.75 826.25" stroke-width="1"/>
<path class="f" d="M1743.25 826.25L1759.25 824.25L1759.25 828.25Z"/>
<path class="f" d="M2165.75 826.25L2149.75 828.25L2149.75 824.25Z"/>
<text x="2095" y="820" font-size="34" text-anchor="middle" font-family="Noto Serif CJK SC,serif">∅</text>
<text x="2111.5" y="820" font-size="34" text-anchor="start">38</text>
<path d="M1745.6 987.9L1745.6 1154.7" stroke-width="1"/>
<path class="f" d="M1745.6 987.9L1747.6 1003.9L1743.6 1003.9Z"/>
<path class="f" d="M1745.6 1154.7L1743.6 1138.7L1747.6 1138.7Z"/>
<text x="1739.6" y="1079" font-size="34" text-anchor="middle" transform="rotate(-90 1739.6 1079)">15</text>
<path d="M1792 1043.3L1843.4 1043.3" stroke-width="1"/>
<path d="M1804.4 1043.3L1804.4 1154.7" stroke-width="1"/>
<path class="f" d="M1804.4 1043.3L1806.4 1059.3L1802.4 1059.3Z"/>
<path class="f" d="M1804.4 1154.7L1802.4 1138.7L1806.4 1138.7Z"/>
<text x="1798.4" y="1094.4" font-size="34" text-anchor="middle" transform="rotate(-90 1798.4 1094.4)">10</text>
<path d="M2055 931.5L2122.5 931.5" stroke-width="1"/>
<path d="M2055 1043.3L2122.5 1043.3" stroke-width="1"/>
<path d="M2111 931.5L2111 1043.3" stroke-width="1"/>
<path class="f" d="M2111 931.5L2113 947.5L2109 947.5Z"/>
<path class="f" d="M2111 1043.3L2109 1027.3L2113 1027.3Z"/>
<text x="2105" y="984.8" font-size="34" text-anchor="middle" transform="rotate(-90 2105 984.8)">10</text>
<path d="M1854.6 1154.7L1854.6 1202.5" stroke-width="1"/>
<path d="M2055 1154.7L2055 1202.5" stroke-width="1"/>
<path d="M1854.6 1191.2L2055 1191.2" stroke-width="1"/>
<path class="f" d="M1854.6 1191.2L1870.6 1189.2L1870.6 1193.2Z"/>
<path class="f" d="M2055 1191.2L2039 1193.2L2039 1189.2Z"/>
<text x="1955" y="1184.5" font-size="34" text-anchor="middle">18</text>
<path d="M1843.4 1154.7L1843.4 1245" stroke-width="1"/>
<path d="M2066.2 1154.7L2066.2 1245" stroke-width="1"/>
<path d="M1843.4 1233.9L2066.2 1233.9" stroke-width="1"/>
<path class="f" d="M1843.4 1233.9L1859.4 1231.9L1859.4 1235.9Z"/>
<path class="f" d="M2066.2 1233.9L2050.2 1235.9L2050.2 1231.9Z"/>
<text x="1911" y="1228.4" font-size="34" text-anchor="middle" font-family="Noto Serif CJK SC,serif">∅</text>
<text x="1927.5" y="1228.4" font-size="34" text-anchor="start">20</text>
<text x="1981.5" y="1228.4" font-size="34" text-anchor="start">h7</text>
<text x="2119" y="1112.7" font-size="34" text-anchor="middle" font-family="Noto Serif CJK SC,serif">∅</text>
<text x="2135" y="1112.7" font-size="34" text-anchor="start">5</text>
<text x="2170.5" y="1097.5" font-size="16" text-anchor="start">+0.<tspan dx="4">01</tspan></text>
<text x="2178.5" y="1113.5" font-size="16" text-anchor="start">0</text>
<text x="2232" y="1112.7" font-size="33" text-anchor="start">通孔</text>
<text x="2133" y="1148.6" font-size="33" text-anchor="start">孔口</text>
<text x="2200" y="1148.6" font-size="34" text-anchor="start">C0.<tspan dx="8.5">5</tspan></text>
</g>
<g id="v_detB">
<text x="1981.5" y="1277" font-size="30" text-anchor="middle" textLength="14.5" lengthAdjust="spacingAndGlyphs">B</text>
<path d="M1943 1286.8L2022.5 1286.8" stroke-width="1.4"/>
<text x="1981.5" y="1317.3" font-size="29" text-anchor="middle" word-spacing="12">1 : 1</text>
<circle cx="1977.5" cy="1468" r="141" stroke-width="1.3"/>
<circle cx="1977.5" cy="1468" r="122.75" stroke-width="1.3"/>
<path d="M1872 1463.5A105.6 105.6 0 1 1 1872 1472.5" stroke-width="1.4"/>
<path d="M1874.6 1463.5A103 103 0 1 1 1874.6 1472.5" stroke-width="1.2"/>
<circle cx="1977.5" cy="1468" r="57.9" stroke-width="1.4"/>
<circle cx="1977.5" cy="1468" r="55" stroke-width="1.2"/>
<path d="M1871.9 1463.5L1919.8 1463.5" stroke-width="1.3"/>
<path d="M1871.9 1472.5L1919.8 1472.5" stroke-width="1.3"/>
<path d="M1876.5 1463.5V1472.5M1879.5 1463.5V1472.5M1886 1463.5V1472.5M1891.5 1463.5V1472.5" stroke-width="1.1"/>
<path d="M2033.75 1454.25L2162.5 1454.25" stroke-width="1.3"/>
<path d="M2033.75 1482.25L2162.5 1482.25" stroke-width="1.3"/>
<path d="M1934.12 1433.75Q1942.25 1433.96 1941.76 1425.84" stroke-width="1.1"/>
<path d="M2013.24 1425.84Q2012.75 1433.96 2020.88 1433.75" stroke-width="1.1"/>
<path d="M1923.11 1458.13Q1930.4 1454.49 1926.15 1447.55" stroke-width="1.1"/>
<path d="M2028.85 1447.55Q2024.6 1454.49 2031.89 1458.13" stroke-width="1.1"/>
<path d="M1968.58 1522.55Q1964.82 1515.33 1957.95 1519.7" stroke-width="1.1"/>
<path d="M1997.05 1519.7Q1990.18 1515.33 1986.42 1522.55" stroke-width="1.1"/>
<path d="M1881.25 1424V1404.5L1884 1401.75H1893.5L1888 1408.5" stroke-width="1.2"/>
<path d="M1881.25 1406.5L1888.5 1406.5" stroke-width="1"/>
<path d="M2151.25 1393L2151.25 1507.5" stroke-width="1"/>
<path class="f" d="M2151.25 1454.25L2149.25 1438.25L2153.25 1438.25Z"/>
<path class="f" d="M2151.25 1482.25L2153.25 1498.25L2149.25 1498.25Z"/>
<text x="2145.2" y="1406.75" font-size="34" text-anchor="middle" transform="rotate(-90 2145.2 1406.75)">5</text>
</g>
</svg>
</body></html>
